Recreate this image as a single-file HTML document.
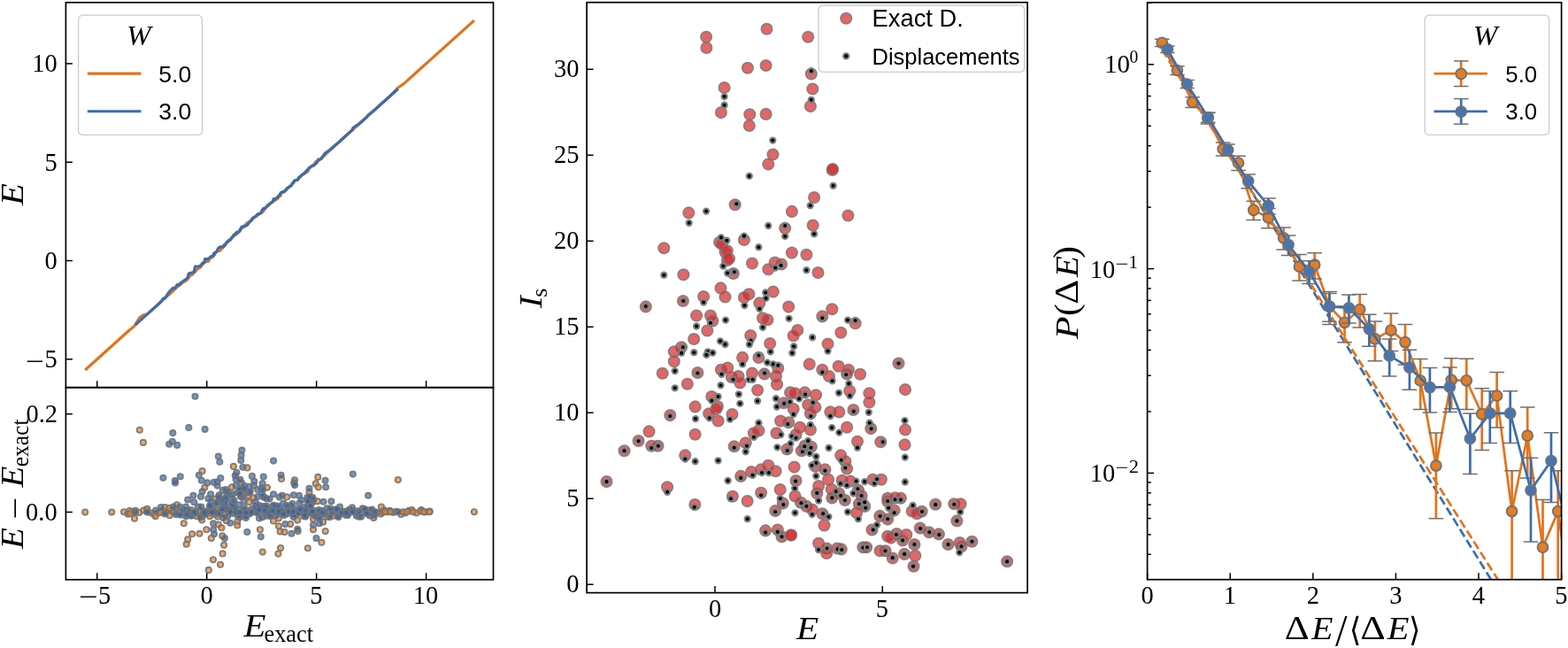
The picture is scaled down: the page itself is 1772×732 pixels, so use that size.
<!DOCTYPE html>
<html><head><meta charset="utf-8"><title>Figure</title>
<style>
html,body{margin:0;padding:0;background:#fff;}
svg{display:block;}
.tk{font-family:'Liberation Serif','DejaVu Serif',serif;font-size:29px;fill:#000;}
.lab{font-family:'Liberation Serif','DejaVu Serif',serif;font-style:italic;font-size:35px;fill:#000;}
.lg{font-family:'Liberation Sans','DejaVu Sans',sans-serif;font-size:25.5px;fill:#000;}
</style></head>
<body><svg width="1772" height="732" viewBox="0 0 1772 732">
<rect width="1772" height="732" fill="#fff"/>
<defs>
<clipPath id="cA"><rect x="74.4" y="2.8" width="483.10" height="434.90"/></clipPath>
<clipPath id="cB"><rect x="74.4" y="437.7" width="483.10" height="217.10"/></clipPath>
<clipPath id="cC"><rect x="663.1" y="2.7" width="498.00" height="666.90"/></clipPath>
<clipPath id="cD"><rect x="1296.6" y="2.8" width="468.00" height="651.90"/></clipPath>
</defs>
<g clip-path="url(#cA)">
<path d="M96.2,418.0 L126.2,391.0 L146.4,372.8 L146.8,372.6 L152.0,368.2 L157.8,358.9 L161.9,355.8 L166.2,355.0 L175.7,346.8 L181.5,341.4 L186.3,336.8 L191.2,332.5 L191.7,332.4 L196.2,328.2 L199.8,324.6 L202.9,322.2 L207.8,318.3 L210.7,316.6 L212.2,315.0 L216.2,310.1 L217.1,310.4 L222.4,304.8 L224.6,302.7 L225.5,302.8 L228.2,299.8 L228.6,297.2 L231.3,295.5 L233.3,295.7 L235.8,295.2 L237.1,291.6 L238.8,291.1 L240.9,290.2 L243.3,285.3 L246.0,283.7 L246.8,283.3 L249.0,283.1 L250.4,280.2 L251.3,279.8 L251.6,280.3 L253.1,276.7 L253.1,278.6 L255.7,275.1 L260.0,270.9 L261.9,268.0 L262.8,267.6 L263.9,265.3 L268.2,264.0 L268.2,264.1 L270.0,261.9 L270.8,261.4 L272.9,258.0 L275.3,256.3 L279.4,251.5 L281.0,251.3 L281.5,251.1 L286.4,246.5 L290.0,243.9 L293.9,241.2 L296.8,239.7 L300.0,235.0 L301.9,232.1 L309.0,227.3 L314.4,223.9 L314.9,221.9 L314.9,222.2 L316.7,220.9 L317.1,221.2 L318.0,217.3 L321.5,216.6 L324.2,212.5 L325.1,212.2 L328.2,210.2 L333.0,203.9 L336.2,202.8 L336.7,202.9 L340.0,199.0 L347.8,193.7 L349.5,189.6 L353.1,186.8 L354.0,186.8 L354.0,187.3 L356.8,182.7 L358.8,181.7 L359.3,180.1 L359.7,180.2 L363.4,179.4 L365.1,177.0 L367.7,175.0 L369.5,172.8 L377.0,166.0 L395.0,149.7 L410.0,136.2 L419.7,127.5 L422.3,125.4 L430.9,117.2 L432.7,115.8 L435.3,113.5 L441.1,108.3 L449.8,99.0 L455.7,95.1 L460.2,91.1 L466.8,85.2 L475.3,77.5 L478.4,74.8 L485.5,68.4 L535.9,23.1" fill="none" stroke="#e2731c" stroke-width="3.2" stroke-linejoin="round" stroke-linecap="butt"/>
<path d="M152.9,367.1 L166.4,354.9 L176.1,346.1 L181.9,340.8 L184.4,337.2 L186.3,337.1 L191.2,329.6 L194.8,326.2 L195.3,325.4 L197.8,325.3 L198.0,325.2 L200.2,321.5 L203.3,321.6 L203.8,319.7 L210.0,315.5 L211.3,314.7 L212.2,313.2 L213.3,309.0 L218.4,307.5 L219.3,307.0 L219.3,307.4 L220.5,301.1 L224.8,300.8 L226.9,299.9 L227.3,300.0 L227.8,298.4 L228.6,298.1 L230.9,297.0 L231.6,292.6 L234.3,292.6 L235.3,292.4 L237.1,291.2 L238.0,289.8 L238.4,289.8 L239.7,289.1 L241.1,288.4 L241.1,288.7 L241.8,285.9 L242.0,288.0 L242.4,286.7 L245.1,283.9 L245.5,282.7 L245.6,282.4 L246.8,280.2 L248.3,279.1 L249.3,278.9 L251.3,278.6 L252.2,278.1 L253.9,277.6 L255.7,274.1 L256.6,273.5 L257.5,272.2 L260.2,270.7 L260.2,271.2 L261.9,268.9 L264.6,266.2 L265.8,264.0 L266.4,263.9 L266.4,265.1 L266.6,263.5 L267.4,262.4 L269.9,261.7 L270.8,260.2 L270.8,260.3 L270.8,261.2 L271.4,259.2 L272.3,257.5 L272.6,257.0 L273.4,256.0 L274.4,255.9 L275.7,256.3 L276.1,255.4 L277.9,254.8 L277.9,255.1 L279.3,254.5 L282.8,249.5 L284.1,249.3 L284.9,246.9 L287.3,245.0 L288.6,244.7 L291.2,241.8 L291.2,242.2 L292.6,241.3 L292.6,241.5 L293.0,241.5 L294.8,240.8 L296.1,237.7 L296.6,236.7 L297.0,236.6 L297.8,235.3 L299.2,235.6 L301.0,233.8 L303.7,231.7 L304.6,230.2 L305.5,230.2 L308.1,227.6 L309.0,226.1 L309.1,224.5 L309.6,226.0 L314.9,221.6 L317.6,217.5 L318.9,217.2 L320.2,216.4 L320.2,216.9 L322.4,215.4 L326.4,211.3 L329.5,209.4 L330.4,207.3 L330.9,207.2 L331.8,205.6 L331.8,206.6 L332.3,204.6 L333.1,204.0 L336.2,203.2 L338.0,200.1 L338.9,199.9 L340.6,198.0 L344.2,195.4 L345.1,194.4 L347.7,191.6 L349.5,189.4 L349.5,189.8 L350.8,189.1 L353.1,187.3 L354.0,187.1 L357.5,184.5 L360.2,180.8 L361.1,180.4 L361.1,180.6 L364.6,177.0 L365.5,175.7 L367.6,172.8 L368.2,172.6 L373.5,168.8 L374.4,167.7 L380.6,162.5 L382.4,161.2 L385.9,157.9 L391.3,153.0 L398.4,146.6 L398.8,144.5 L405.5,140.2 L414.3,132.4 L416.1,130.0 L424.1,123.5 L450.0,100.3" fill="none" stroke="#3a6dae" stroke-width="3.2" stroke-linejoin="round" stroke-linecap="butt"/>
</g>
<rect x="88.6" y="17.2" width="139.9" height="135.2" rx="5" ry="5" fill="#fff" fill-opacity="0.8" stroke="#cccccc" stroke-width="1.3"/>
<text transform="translate(143.05,50.54) scale(1.0830,1)" style="font-family:'Liberation Serif', serif;font-style:italic;font-size:30.60px">W</text>
<line x1="98.8" y1="83.1" x2="159.5" y2="83.1" stroke="#e2731c" stroke-width="3.1"/>
<line x1="98.8" y1="125.8" x2="159.5" y2="125.8" stroke="#3a6dae" stroke-width="3.1"/>
<text transform="translate(179.34,92.75) scale(1.0596,1)" style="font-family:'Liberation Sans', sans-serif;font-style:normal;font-size:25.07px">5.0</text>
<text transform="translate(179.34,135.45) scale(1.0596,1)" style="font-family:'Liberation Sans', sans-serif;font-style:normal;font-size:25.07px">3.0</text>
<rect x="74.40" y="2.80" width="483.10" height="434.90" fill="none" stroke="#000" stroke-width="1.7"/>
<line x1="74.40" y1="71.90" x2="81.90" y2="71.90" stroke="#000" stroke-width="1.5"/>
<text transform="translate(36.24,81.20) scale(0.9500,1)" style="font-family:'Liberation Serif', serif;font-style:normal;font-size:30.00px">10</text>
<line x1="74.40" y1="183.20" x2="81.90" y2="183.20" stroke="#000" stroke-width="1.5"/>
<text transform="translate(50.49,192.50) scale(0.9500,1)" style="font-family:'Liberation Serif', serif;font-style:normal;font-size:30.00px">5</text>
<line x1="74.40" y1="294.50" x2="81.90" y2="294.50" stroke="#000" stroke-width="1.5"/>
<text transform="translate(50.49,303.80) scale(0.9500,1)" style="font-family:'Liberation Serif', serif;font-style:normal;font-size:30.00px">0</text>
<line x1="74.40" y1="405.80" x2="81.90" y2="405.80" stroke="#000" stroke-width="1.5"/>
<text transform="translate(50.49,415.10) scale(0.9500,1)" style="font-family:'Liberation Serif', serif;font-style:normal;font-size:30.00px">5</text>
<text transform="translate(29.25,417.90) scale(1.2330,1)" style="font-family:'Liberation Serif', serif;font-style:normal;font-size:30.00px">−</text>
<line x1="109.75" y1="437.70" x2="109.75" y2="430.20" stroke="#000" stroke-width="1.5"/>
<line x1="233.70" y1="437.70" x2="233.70" y2="430.20" stroke="#000" stroke-width="1.5"/>
<line x1="357.65" y1="437.70" x2="357.65" y2="430.20" stroke="#000" stroke-width="1.5"/>
<line x1="481.60" y1="437.70" x2="481.60" y2="430.20" stroke="#000" stroke-width="1.5"/>
<text transform="translate(25.80,231.99) rotate(-90) scale(1.1238,1)" style="font-family:'Liberation Serif', serif;font-style:italic;font-size:36.18px">E</text>
<g clip-path="url(#cB)">
<circle cx="140.0" cy="578.3" r="3.15" fill="#f57f15" fill-opacity="0.7" stroke="#737373" stroke-opacity="0.9" stroke-width="1.85"/>
<circle cx="144.4" cy="580.6" r="3.15" fill="#f57f15" fill-opacity="0.7" stroke="#737373" stroke-opacity="0.9" stroke-width="1.85"/>
<circle cx="148.6" cy="578.5" r="3.15" fill="#f57f15" fill-opacity="0.7" stroke="#737373" stroke-opacity="0.9" stroke-width="1.85"/>
<circle cx="153.0" cy="576.9" r="3.15" fill="#f57f15" fill-opacity="0.7" stroke="#737373" stroke-opacity="0.9" stroke-width="1.85"/>
<circle cx="157.3" cy="579.1" r="3.15" fill="#f57f15" fill-opacity="0.7" stroke="#737373" stroke-opacity="0.9" stroke-width="1.85"/>
<circle cx="162.3" cy="576.5" r="3.15" fill="#f57f15" fill-opacity="0.7" stroke="#737373" stroke-opacity="0.9" stroke-width="1.85"/>
<circle cx="166.1" cy="576.5" r="3.15" fill="#f57f15" fill-opacity="0.7" stroke="#737373" stroke-opacity="0.9" stroke-width="1.85"/>
<circle cx="171.1" cy="579.5" r="3.15" fill="#f57f15" fill-opacity="0.7" stroke="#737373" stroke-opacity="0.9" stroke-width="1.85"/>
<circle cx="174.2" cy="580.9" r="3.15" fill="#f57f15" fill-opacity="0.7" stroke="#737373" stroke-opacity="0.9" stroke-width="1.85"/>
<circle cx="179.6" cy="579.3" r="3.15" fill="#f57f15" fill-opacity="0.7" stroke="#737373" stroke-opacity="0.9" stroke-width="1.85"/>
<circle cx="184.1" cy="576.8" r="3.15" fill="#f57f15" fill-opacity="0.7" stroke="#737373" stroke-opacity="0.9" stroke-width="1.85"/>
<circle cx="187.2" cy="578.6" r="3.15" fill="#f57f15" fill-opacity="0.7" stroke="#737373" stroke-opacity="0.9" stroke-width="1.85"/>
<circle cx="190.3" cy="577.0" r="3.15" fill="#f57f15" fill-opacity="0.7" stroke="#737373" stroke-opacity="0.9" stroke-width="1.85"/>
<circle cx="193.9" cy="576.2" r="3.15" fill="#f57f15" fill-opacity="0.7" stroke="#737373" stroke-opacity="0.9" stroke-width="1.85"/>
<circle cx="198.1" cy="578.2" r="3.15" fill="#f57f15" fill-opacity="0.7" stroke="#737373" stroke-opacity="0.9" stroke-width="1.85"/>
<circle cx="203.2" cy="578.6" r="3.15" fill="#f57f15" fill-opacity="0.7" stroke="#737373" stroke-opacity="0.9" stroke-width="1.85"/>
<circle cx="207.8" cy="578.5" r="3.15" fill="#f57f15" fill-opacity="0.7" stroke="#737373" stroke-opacity="0.9" stroke-width="1.85"/>
<circle cx="212.4" cy="578.3" r="3.15" fill="#f57f15" fill-opacity="0.7" stroke="#737373" stroke-opacity="0.9" stroke-width="1.85"/>
<circle cx="216.1" cy="581.0" r="3.15" fill="#f57f15" fill-opacity="0.7" stroke="#737373" stroke-opacity="0.9" stroke-width="1.85"/>
<circle cx="221.6" cy="580.2" r="3.15" fill="#f57f15" fill-opacity="0.7" stroke="#737373" stroke-opacity="0.9" stroke-width="1.85"/>
<circle cx="226.4" cy="577.6" r="3.15" fill="#f57f15" fill-opacity="0.7" stroke="#737373" stroke-opacity="0.9" stroke-width="1.85"/>
<circle cx="230.0" cy="577.4" r="3.15" fill="#f57f15" fill-opacity="0.7" stroke="#737373" stroke-opacity="0.9" stroke-width="1.85"/>
<circle cx="233.2" cy="579.8" r="3.15" fill="#f57f15" fill-opacity="0.7" stroke="#737373" stroke-opacity="0.9" stroke-width="1.85"/>
<circle cx="237.2" cy="580.2" r="3.15" fill="#f57f15" fill-opacity="0.7" stroke="#737373" stroke-opacity="0.9" stroke-width="1.85"/>
<circle cx="241.1" cy="580.8" r="3.15" fill="#f57f15" fill-opacity="0.7" stroke="#737373" stroke-opacity="0.9" stroke-width="1.85"/>
<circle cx="246.2" cy="576.0" r="3.15" fill="#f57f15" fill-opacity="0.7" stroke="#737373" stroke-opacity="0.9" stroke-width="1.85"/>
<circle cx="249.8" cy="580.6" r="3.15" fill="#f57f15" fill-opacity="0.7" stroke="#737373" stroke-opacity="0.9" stroke-width="1.85"/>
<circle cx="253.9" cy="580.9" r="3.15" fill="#f57f15" fill-opacity="0.7" stroke="#737373" stroke-opacity="0.9" stroke-width="1.85"/>
<circle cx="257.9" cy="576.4" r="3.15" fill="#f57f15" fill-opacity="0.7" stroke="#737373" stroke-opacity="0.9" stroke-width="1.85"/>
<circle cx="262.5" cy="579.9" r="3.15" fill="#f57f15" fill-opacity="0.7" stroke="#737373" stroke-opacity="0.9" stroke-width="1.85"/>
<circle cx="266.2" cy="576.4" r="3.15" fill="#f57f15" fill-opacity="0.7" stroke="#737373" stroke-opacity="0.9" stroke-width="1.85"/>
<circle cx="270.0" cy="580.8" r="3.15" fill="#f57f15" fill-opacity="0.7" stroke="#737373" stroke-opacity="0.9" stroke-width="1.85"/>
<circle cx="274.9" cy="576.6" r="3.15" fill="#f57f15" fill-opacity="0.7" stroke="#737373" stroke-opacity="0.9" stroke-width="1.85"/>
<circle cx="278.5" cy="576.5" r="3.15" fill="#f57f15" fill-opacity="0.7" stroke="#737373" stroke-opacity="0.9" stroke-width="1.85"/>
<circle cx="281.7" cy="580.0" r="3.15" fill="#f57f15" fill-opacity="0.7" stroke="#737373" stroke-opacity="0.9" stroke-width="1.85"/>
<circle cx="285.1" cy="578.8" r="3.15" fill="#f57f15" fill-opacity="0.7" stroke="#737373" stroke-opacity="0.9" stroke-width="1.85"/>
<circle cx="289.2" cy="577.0" r="3.15" fill="#f57f15" fill-opacity="0.7" stroke="#737373" stroke-opacity="0.9" stroke-width="1.85"/>
<circle cx="294.1" cy="576.7" r="3.15" fill="#f57f15" fill-opacity="0.7" stroke="#737373" stroke-opacity="0.9" stroke-width="1.85"/>
<circle cx="298.7" cy="576.6" r="3.15" fill="#f57f15" fill-opacity="0.7" stroke="#737373" stroke-opacity="0.9" stroke-width="1.85"/>
<circle cx="302.7" cy="577.1" r="3.15" fill="#f57f15" fill-opacity="0.7" stroke="#737373" stroke-opacity="0.9" stroke-width="1.85"/>
<circle cx="306.4" cy="580.9" r="3.15" fill="#f57f15" fill-opacity="0.7" stroke="#737373" stroke-opacity="0.9" stroke-width="1.85"/>
<circle cx="311.4" cy="577.5" r="3.15" fill="#f57f15" fill-opacity="0.7" stroke="#737373" stroke-opacity="0.9" stroke-width="1.85"/>
<circle cx="316.6" cy="577.1" r="3.15" fill="#f57f15" fill-opacity="0.7" stroke="#737373" stroke-opacity="0.9" stroke-width="1.85"/>
<circle cx="320.6" cy="580.3" r="3.15" fill="#f57f15" fill-opacity="0.7" stroke="#737373" stroke-opacity="0.9" stroke-width="1.85"/>
<circle cx="325.2" cy="576.5" r="3.15" fill="#f57f15" fill-opacity="0.7" stroke="#737373" stroke-opacity="0.9" stroke-width="1.85"/>
<circle cx="330.7" cy="577.1" r="3.15" fill="#f57f15" fill-opacity="0.7" stroke="#737373" stroke-opacity="0.9" stroke-width="1.85"/>
<circle cx="334.3" cy="579.9" r="3.15" fill="#f57f15" fill-opacity="0.7" stroke="#737373" stroke-opacity="0.9" stroke-width="1.85"/>
<circle cx="338.1" cy="577.5" r="3.15" fill="#f57f15" fill-opacity="0.7" stroke="#737373" stroke-opacity="0.9" stroke-width="1.85"/>
<circle cx="341.3" cy="576.5" r="3.15" fill="#f57f15" fill-opacity="0.7" stroke="#737373" stroke-opacity="0.9" stroke-width="1.85"/>
<circle cx="345.8" cy="577.2" r="3.15" fill="#f57f15" fill-opacity="0.7" stroke="#737373" stroke-opacity="0.9" stroke-width="1.85"/>
<circle cx="350.3" cy="577.9" r="3.15" fill="#f57f15" fill-opacity="0.7" stroke="#737373" stroke-opacity="0.9" stroke-width="1.85"/>
<circle cx="354.4" cy="580.8" r="3.15" fill="#f57f15" fill-opacity="0.7" stroke="#737373" stroke-opacity="0.9" stroke-width="1.85"/>
<circle cx="358.6" cy="578.9" r="3.15" fill="#f57f15" fill-opacity="0.7" stroke="#737373" stroke-opacity="0.9" stroke-width="1.85"/>
<circle cx="363.8" cy="576.9" r="3.15" fill="#f57f15" fill-opacity="0.7" stroke="#737373" stroke-opacity="0.9" stroke-width="1.85"/>
<circle cx="367.2" cy="580.5" r="3.15" fill="#f57f15" fill-opacity="0.7" stroke="#737373" stroke-opacity="0.9" stroke-width="1.85"/>
<circle cx="372.2" cy="577.2" r="3.15" fill="#f57f15" fill-opacity="0.7" stroke="#737373" stroke-opacity="0.9" stroke-width="1.85"/>
<circle cx="375.7" cy="579.7" r="3.15" fill="#f57f15" fill-opacity="0.7" stroke="#737373" stroke-opacity="0.9" stroke-width="1.85"/>
<circle cx="381.1" cy="577.0" r="3.15" fill="#f57f15" fill-opacity="0.7" stroke="#737373" stroke-opacity="0.9" stroke-width="1.85"/>
<circle cx="386.4" cy="580.4" r="3.15" fill="#f57f15" fill-opacity="0.7" stroke="#737373" stroke-opacity="0.9" stroke-width="1.85"/>
<circle cx="390.9" cy="578.1" r="3.15" fill="#f57f15" fill-opacity="0.7" stroke="#737373" stroke-opacity="0.9" stroke-width="1.85"/>
<circle cx="394.2" cy="576.2" r="3.15" fill="#f57f15" fill-opacity="0.7" stroke="#737373" stroke-opacity="0.9" stroke-width="1.85"/>
<circle cx="399.6" cy="577.2" r="3.15" fill="#f57f15" fill-opacity="0.7" stroke="#737373" stroke-opacity="0.9" stroke-width="1.85"/>
<circle cx="404.4" cy="577.3" r="3.15" fill="#f57f15" fill-opacity="0.7" stroke="#737373" stroke-opacity="0.9" stroke-width="1.85"/>
<circle cx="409.4" cy="579.0" r="3.15" fill="#f57f15" fill-opacity="0.7" stroke="#737373" stroke-opacity="0.9" stroke-width="1.85"/>
<circle cx="413.2" cy="576.9" r="3.15" fill="#f57f15" fill-opacity="0.7" stroke="#737373" stroke-opacity="0.9" stroke-width="1.85"/>
<circle cx="418.0" cy="576.3" r="3.15" fill="#f57f15" fill-opacity="0.7" stroke="#737373" stroke-opacity="0.9" stroke-width="1.85"/>
<circle cx="421.5" cy="578.8" r="3.15" fill="#f57f15" fill-opacity="0.7" stroke="#737373" stroke-opacity="0.9" stroke-width="1.85"/>
<circle cx="426.7" cy="579.1" r="3.15" fill="#f57f15" fill-opacity="0.7" stroke="#737373" stroke-opacity="0.9" stroke-width="1.85"/>
<circle cx="430.4" cy="580.6" r="3.15" fill="#f57f15" fill-opacity="0.7" stroke="#737373" stroke-opacity="0.9" stroke-width="1.85"/>
<circle cx="433.9" cy="576.1" r="3.15" fill="#f57f15" fill-opacity="0.7" stroke="#737373" stroke-opacity="0.9" stroke-width="1.85"/>
<circle cx="437.5" cy="578.2" r="3.15" fill="#f57f15" fill-opacity="0.7" stroke="#737373" stroke-opacity="0.9" stroke-width="1.85"/>
<circle cx="440.7" cy="576.9" r="3.15" fill="#f57f15" fill-opacity="0.7" stroke="#737373" stroke-opacity="0.9" stroke-width="1.85"/>
<circle cx="444.6" cy="578.9" r="3.15" fill="#f57f15" fill-opacity="0.7" stroke="#737373" stroke-opacity="0.9" stroke-width="1.85"/>
<circle cx="448.0" cy="577.8" r="3.15" fill="#f57f15" fill-opacity="0.7" stroke="#737373" stroke-opacity="0.9" stroke-width="1.85"/>
<circle cx="453.2" cy="580.9" r="3.15" fill="#f57f15" fill-opacity="0.7" stroke="#737373" stroke-opacity="0.9" stroke-width="1.85"/>
<circle cx="457.8" cy="579.5" r="3.15" fill="#f57f15" fill-opacity="0.7" stroke="#737373" stroke-opacity="0.9" stroke-width="1.85"/>
<circle cx="462.3" cy="576.7" r="3.15" fill="#f57f15" fill-opacity="0.7" stroke="#737373" stroke-opacity="0.9" stroke-width="1.85"/>
<circle cx="465.4" cy="576.1" r="3.15" fill="#f57f15" fill-opacity="0.7" stroke="#737373" stroke-opacity="0.9" stroke-width="1.85"/>
<circle cx="470.6" cy="579.5" r="3.15" fill="#f57f15" fill-opacity="0.7" stroke="#737373" stroke-opacity="0.9" stroke-width="1.85"/>
<circle cx="476.1" cy="576.1" r="3.15" fill="#f57f15" fill-opacity="0.7" stroke="#737373" stroke-opacity="0.9" stroke-width="1.85"/>
<circle cx="480.6" cy="578.4" r="3.15" fill="#f57f15" fill-opacity="0.7" stroke="#737373" stroke-opacity="0.9" stroke-width="1.85"/>
<circle cx="485.5" cy="577.6" r="3.15" fill="#f57f15" fill-opacity="0.7" stroke="#737373" stroke-opacity="0.9" stroke-width="1.85"/>
<circle cx="157.8" cy="485.8" r="3.15" fill="#f57f15" fill-opacity="0.7" stroke="#737373" stroke-opacity="0.9" stroke-width="1.85"/>
<circle cx="161.9" cy="499.9" r="3.15" fill="#f57f15" fill-opacity="0.7" stroke="#737373" stroke-opacity="0.9" stroke-width="1.85"/>
<circle cx="263.9" cy="526.9" r="3.15" fill="#f57f15" fill-opacity="0.7" stroke="#737373" stroke-opacity="0.9" stroke-width="1.85"/>
<circle cx="279.4" cy="528.4" r="3.15" fill="#f57f15" fill-opacity="0.7" stroke="#737373" stroke-opacity="0.9" stroke-width="1.85"/>
<circle cx="228.6" cy="532" r="3.15" fill="#f57f15" fill-opacity="0.7" stroke="#737373" stroke-opacity="0.9" stroke-width="1.85"/>
<circle cx="272.9" cy="545.4" r="3.15" fill="#f57f15" fill-opacity="0.7" stroke="#737373" stroke-opacity="0.9" stroke-width="1.85"/>
<circle cx="318" cy="540.9" r="3.15" fill="#f57f15" fill-opacity="0.7" stroke="#737373" stroke-opacity="0.9" stroke-width="1.85"/>
<circle cx="333" cy="542.4" r="3.15" fill="#f57f15" fill-opacity="0.7" stroke="#737373" stroke-opacity="0.9" stroke-width="1.85"/>
<circle cx="359.3" cy="538.9" r="3.15" fill="#f57f15" fill-opacity="0.7" stroke="#737373" stroke-opacity="0.9" stroke-width="1.85"/>
<circle cx="356.8" cy="546.4" r="3.15" fill="#f57f15" fill-opacity="0.7" stroke="#737373" stroke-opacity="0.9" stroke-width="1.85"/>
<circle cx="449.8" cy="542.0" r="3.15" fill="#f57f15" fill-opacity="0.7" stroke="#737373" stroke-opacity="0.9" stroke-width="1.85"/>
<circle cx="96.2" cy="578.6" r="3.15" fill="#f57f15" fill-opacity="0.7" stroke="#737373" stroke-opacity="0.9" stroke-width="1.85"/>
<circle cx="126.2" cy="578.6" r="3.15" fill="#f57f15" fill-opacity="0.7" stroke="#737373" stroke-opacity="0.9" stroke-width="1.85"/>
<circle cx="146.4" cy="577" r="3.15" fill="#f57f15" fill-opacity="0.7" stroke="#737373" stroke-opacity="0.9" stroke-width="1.85"/>
<circle cx="146.8" cy="580.5" r="3.15" fill="#f57f15" fill-opacity="0.7" stroke="#737373" stroke-opacity="0.9" stroke-width="1.85"/>
<circle cx="152" cy="585.7" r="3.15" fill="#f57f15" fill-opacity="0.7" stroke="#737373" stroke-opacity="0.9" stroke-width="1.85"/>
<circle cx="166.2" cy="574.8" r="3.15" fill="#f57f15" fill-opacity="0.7" stroke="#737373" stroke-opacity="0.9" stroke-width="1.85"/>
<circle cx="175.7" cy="583.2" r="3.15" fill="#f57f15" fill-opacity="0.7" stroke="#737373" stroke-opacity="0.9" stroke-width="1.85"/>
<circle cx="181.5" cy="578.7" r="3.15" fill="#f57f15" fill-opacity="0.7" stroke="#737373" stroke-opacity="0.9" stroke-width="1.85"/>
<circle cx="186.3" cy="573" r="3.15" fill="#f57f15" fill-opacity="0.7" stroke="#737373" stroke-opacity="0.9" stroke-width="1.85"/>
<circle cx="191.2" cy="573.9" r="3.15" fill="#f57f15" fill-opacity="0.7" stroke="#737373" stroke-opacity="0.9" stroke-width="1.85"/>
<circle cx="191.7" cy="582.3" r="3.15" fill="#f57f15" fill-opacity="0.7" stroke="#737373" stroke-opacity="0.9" stroke-width="1.85"/>
<circle cx="196.2" cy="578.7" r="3.15" fill="#f57f15" fill-opacity="0.7" stroke="#737373" stroke-opacity="0.9" stroke-width="1.85"/>
<circle cx="199.8" cy="570.3" r="3.15" fill="#f57f15" fill-opacity="0.7" stroke="#737373" stroke-opacity="0.9" stroke-width="1.85"/>
<circle cx="202.9" cy="578.7" r="3.15" fill="#f57f15" fill-opacity="0.7" stroke="#737373" stroke-opacity="0.9" stroke-width="1.85"/>
<circle cx="207.8" cy="591.2" r="3.15" fill="#f57f15" fill-opacity="0.7" stroke="#737373" stroke-opacity="0.9" stroke-width="1.85"/>
<circle cx="216.2" cy="576.1" r="3.15" fill="#f57f15" fill-opacity="0.7" stroke="#737373" stroke-opacity="0.9" stroke-width="1.85"/>
<circle cx="222.4" cy="583.2" r="3.15" fill="#f57f15" fill-opacity="0.7" stroke="#737373" stroke-opacity="0.9" stroke-width="1.85"/>
<circle cx="224.6" cy="578.7" r="3.15" fill="#f57f15" fill-opacity="0.7" stroke="#737373" stroke-opacity="0.9" stroke-width="1.85"/>
<circle cx="228.2" cy="587.5" r="3.15" fill="#f57f15" fill-opacity="0.7" stroke="#737373" stroke-opacity="0.9" stroke-width="1.85"/>
<circle cx="231.3" cy="550.8" r="3.15" fill="#f57f15" fill-opacity="0.7" stroke="#737373" stroke-opacity="0.9" stroke-width="1.85"/>
<circle cx="243.3" cy="563.6" r="3.15" fill="#f57f15" fill-opacity="0.7" stroke="#737373" stroke-opacity="0.9" stroke-width="1.85"/>
<circle cx="237.1" cy="583.2" r="3.15" fill="#f57f15" fill-opacity="0.7" stroke="#737373" stroke-opacity="0.9" stroke-width="1.85"/>
<circle cx="246" cy="583.6" r="3.15" fill="#f57f15" fill-opacity="0.7" stroke="#737373" stroke-opacity="0.9" stroke-width="1.85"/>
<circle cx="246.8" cy="592.5" r="3.15" fill="#f57f15" fill-opacity="0.7" stroke="#737373" stroke-opacity="0.9" stroke-width="1.85"/>
<circle cx="250.4" cy="596.3" r="3.15" fill="#f57f15" fill-opacity="0.7" stroke="#737373" stroke-opacity="0.9" stroke-width="1.85"/>
<circle cx="233.3" cy="598.3" r="3.15" fill="#f57f15" fill-opacity="0.7" stroke="#737373" stroke-opacity="0.9" stroke-width="1.85"/>
<circle cx="217.1" cy="603.2" r="3.15" fill="#f57f15" fill-opacity="0.7" stroke="#737373" stroke-opacity="0.9" stroke-width="1.85"/>
<circle cx="225.5" cy="602.7" r="3.15" fill="#f57f15" fill-opacity="0.7" stroke="#737373" stroke-opacity="0.9" stroke-width="1.85"/>
<circle cx="238.8" cy="608" r="3.15" fill="#f57f15" fill-opacity="0.7" stroke="#737373" stroke-opacity="0.9" stroke-width="1.85"/>
<circle cx="212.2" cy="609.4" r="3.15" fill="#f57f15" fill-opacity="0.7" stroke="#737373" stroke-opacity="0.9" stroke-width="1.85"/>
<circle cx="251.3" cy="605.4" r="3.15" fill="#f57f15" fill-opacity="0.7" stroke="#737373" stroke-opacity="0.9" stroke-width="1.85"/>
<circle cx="253.1" cy="569" r="3.15" fill="#f57f15" fill-opacity="0.7" stroke="#737373" stroke-opacity="0.9" stroke-width="1.85"/>
<circle cx="261.9" cy="550.3" r="3.15" fill="#f57f15" fill-opacity="0.7" stroke="#737373" stroke-opacity="0.9" stroke-width="1.85"/>
<circle cx="262.8" cy="558.3" r="3.15" fill="#f57f15" fill-opacity="0.7" stroke="#737373" stroke-opacity="0.9" stroke-width="1.85"/>
<circle cx="255.7" cy="588.3" r="3.15" fill="#f57f15" fill-opacity="0.7" stroke="#737373" stroke-opacity="0.9" stroke-width="1.85"/>
<circle cx="268.2" cy="589.4" r="3.15" fill="#f57f15" fill-opacity="0.7" stroke="#737373" stroke-opacity="0.9" stroke-width="1.85"/>
<circle cx="268.2" cy="593.4" r="3.15" fill="#f57f15" fill-opacity="0.7" stroke="#737373" stroke-opacity="0.9" stroke-width="1.85"/>
<circle cx="270.8" cy="584.5" r="3.15" fill="#f57f15" fill-opacity="0.7" stroke="#737373" stroke-opacity="0.9" stroke-width="1.85"/>
<circle cx="275.3" cy="557.9" r="3.15" fill="#f57f15" fill-opacity="0.7" stroke="#737373" stroke-opacity="0.9" stroke-width="1.85"/>
<circle cx="281.5" cy="567.2" r="3.15" fill="#f57f15" fill-opacity="0.7" stroke="#737373" stroke-opacity="0.9" stroke-width="1.85"/>
<circle cx="281" cy="560.1" r="3.15" fill="#f57f15" fill-opacity="0.7" stroke="#737373" stroke-opacity="0.9" stroke-width="1.85"/>
<circle cx="286.4" cy="562.3" r="3.15" fill="#f57f15" fill-opacity="0.7" stroke="#737373" stroke-opacity="0.9" stroke-width="1.85"/>
<circle cx="301.9" cy="550.8" r="3.15" fill="#f57f15" fill-opacity="0.7" stroke="#737373" stroke-opacity="0.9" stroke-width="1.85"/>
<circle cx="293.9" cy="598.3" r="3.15" fill="#f57f15" fill-opacity="0.7" stroke="#737373" stroke-opacity="0.9" stroke-width="1.85"/>
<circle cx="309" cy="588.5" r="3.15" fill="#f57f15" fill-opacity="0.7" stroke="#737373" stroke-opacity="0.9" stroke-width="1.85"/>
<circle cx="324.2" cy="561.4" r="3.15" fill="#f57f15" fill-opacity="0.7" stroke="#737373" stroke-opacity="0.9" stroke-width="1.85"/>
<circle cx="349.5" cy="556.1" r="3.15" fill="#f57f15" fill-opacity="0.7" stroke="#737373" stroke-opacity="0.9" stroke-width="1.85"/>
<circle cx="359.7" cy="550.3" r="3.15" fill="#f57f15" fill-opacity="0.7" stroke="#737373" stroke-opacity="0.9" stroke-width="1.85"/>
<circle cx="353.1" cy="567.6" r="3.15" fill="#f57f15" fill-opacity="0.7" stroke="#737373" stroke-opacity="0.9" stroke-width="1.85"/>
<circle cx="358.8" cy="566.3" r="3.15" fill="#f57f15" fill-opacity="0.7" stroke="#737373" stroke-opacity="0.9" stroke-width="1.85"/>
<circle cx="325.1" cy="573.4" r="3.15" fill="#f57f15" fill-opacity="0.7" stroke="#737373" stroke-opacity="0.9" stroke-width="1.85"/>
<circle cx="314.9" cy="585.4" r="3.15" fill="#f57f15" fill-opacity="0.7" stroke="#737373" stroke-opacity="0.9" stroke-width="1.85"/>
<circle cx="336.2" cy="587.6" r="3.15" fill="#f57f15" fill-opacity="0.7" stroke="#737373" stroke-opacity="0.9" stroke-width="1.85"/>
<circle cx="328.2" cy="592.1" r="3.15" fill="#f57f15" fill-opacity="0.7" stroke="#737373" stroke-opacity="0.9" stroke-width="1.85"/>
<circle cx="314.9" cy="594.3" r="3.15" fill="#f57f15" fill-opacity="0.7" stroke="#737373" stroke-opacity="0.9" stroke-width="1.85"/>
<circle cx="316.7" cy="600.5" r="3.15" fill="#f57f15" fill-opacity="0.7" stroke="#737373" stroke-opacity="0.9" stroke-width="1.85"/>
<circle cx="321.5" cy="601" r="3.15" fill="#f57f15" fill-opacity="0.7" stroke="#737373" stroke-opacity="0.9" stroke-width="1.85"/>
<circle cx="354" cy="586.3" r="3.15" fill="#f57f15" fill-opacity="0.7" stroke="#737373" stroke-opacity="0.9" stroke-width="1.85"/>
<circle cx="354" cy="598.3" r="3.15" fill="#f57f15" fill-opacity="0.7" stroke="#737373" stroke-opacity="0.9" stroke-width="1.85"/>
<circle cx="365.1" cy="589.8" r="3.15" fill="#f57f15" fill-opacity="0.7" stroke="#737373" stroke-opacity="0.9" stroke-width="1.85"/>
<circle cx="367.7" cy="600.1" r="3.15" fill="#f57f15" fill-opacity="0.7" stroke="#737373" stroke-opacity="0.9" stroke-width="1.85"/>
<circle cx="369.5" cy="583.6" r="3.15" fill="#f57f15" fill-opacity="0.7" stroke="#737373" stroke-opacity="0.9" stroke-width="1.85"/>
<circle cx="377" cy="582.7" r="3.15" fill="#f57f15" fill-opacity="0.7" stroke="#737373" stroke-opacity="0.9" stroke-width="1.85"/>
<circle cx="422.3" cy="585" r="3.15" fill="#f57f15" fill-opacity="0.7" stroke="#737373" stroke-opacity="0.9" stroke-width="1.85"/>
<circle cx="419.7" cy="578.7" r="3.15" fill="#f57f15" fill-opacity="0.7" stroke="#737373" stroke-opacity="0.9" stroke-width="1.85"/>
<circle cx="430.9" cy="572.5" r="3.15" fill="#f57f15" fill-opacity="0.7" stroke="#737373" stroke-opacity="0.9" stroke-width="1.85"/>
<circle cx="432.7" cy="578.7" r="3.15" fill="#f57f15" fill-opacity="0.7" stroke="#737373" stroke-opacity="0.9" stroke-width="1.85"/>
<circle cx="435.3" cy="578.3" r="3.15" fill="#f57f15" fill-opacity="0.7" stroke="#737373" stroke-opacity="0.9" stroke-width="1.85"/>
<circle cx="441.1" cy="578.3" r="3.15" fill="#f57f15" fill-opacity="0.7" stroke="#737373" stroke-opacity="0.9" stroke-width="1.85"/>
<circle cx="455.7" cy="578.3" r="3.15" fill="#f57f15" fill-opacity="0.7" stroke="#737373" stroke-opacity="0.9" stroke-width="1.85"/>
<circle cx="460.2" cy="578.3" r="3.15" fill="#f57f15" fill-opacity="0.7" stroke="#737373" stroke-opacity="0.9" stroke-width="1.85"/>
<circle cx="466.8" cy="578.3" r="3.15" fill="#f57f15" fill-opacity="0.7" stroke="#737373" stroke-opacity="0.9" stroke-width="1.85"/>
<circle cx="475.3" cy="577.4" r="3.15" fill="#f57f15" fill-opacity="0.7" stroke="#737373" stroke-opacity="0.9" stroke-width="1.85"/>
<circle cx="478.4" cy="578.3" r="3.15" fill="#f57f15" fill-opacity="0.7" stroke="#737373" stroke-opacity="0.9" stroke-width="1.85"/>
<circle cx="485.5" cy="578.3" r="3.15" fill="#f57f15" fill-opacity="0.7" stroke="#737373" stroke-opacity="0.9" stroke-width="1.85"/>
<circle cx="535.9" cy="578.3" r="3.15" fill="#f57f15" fill-opacity="0.7" stroke="#737373" stroke-opacity="0.9" stroke-width="1.85"/>
<circle cx="210.7" cy="614.7" r="3.15" fill="#f57f15" fill-opacity="0.7" stroke="#737373" stroke-opacity="0.9" stroke-width="1.85"/>
<circle cx="253.1" cy="615.7" r="3.15" fill="#f57f15" fill-opacity="0.7" stroke="#737373" stroke-opacity="0.9" stroke-width="1.85"/>
<circle cx="251.6" cy="625.4" r="3.15" fill="#f57f15" fill-opacity="0.7" stroke="#737373" stroke-opacity="0.9" stroke-width="1.85"/>
<circle cx="240.9" cy="632.3" r="3.15" fill="#f57f15" fill-opacity="0.7" stroke="#737373" stroke-opacity="0.9" stroke-width="1.85"/>
<circle cx="249" cy="637.8" r="3.15" fill="#f57f15" fill-opacity="0.7" stroke="#737373" stroke-opacity="0.9" stroke-width="1.85"/>
<circle cx="235.8" cy="643.9" r="3.15" fill="#f57f15" fill-opacity="0.7" stroke="#737373" stroke-opacity="0.9" stroke-width="1.85"/>
<circle cx="296.8" cy="623.6" r="3.15" fill="#f57f15" fill-opacity="0.7" stroke="#737373" stroke-opacity="0.9" stroke-width="1.85"/>
<circle cx="317.1" cy="619.1" r="3.15" fill="#f57f15" fill-opacity="0.7" stroke="#737373" stroke-opacity="0.9" stroke-width="1.85"/>
<circle cx="314.4" cy="625.6" r="3.15" fill="#f57f15" fill-opacity="0.7" stroke="#737373" stroke-opacity="0.9" stroke-width="1.85"/>
<circle cx="336.7" cy="600.1" r="3.15" fill="#f57f15" fill-opacity="0.7" stroke="#737373" stroke-opacity="0.9" stroke-width="1.85"/>
<circle cx="363.4" cy="612.8" r="3.15" fill="#f57f15" fill-opacity="0.7" stroke="#737373" stroke-opacity="0.9" stroke-width="1.85"/>
<circle cx="347.8" cy="619.2" r="3.15" fill="#f57f15" fill-opacity="0.7" stroke="#737373" stroke-opacity="0.9" stroke-width="1.85"/>
<circle cx="290" cy="578.5" r="3.15" fill="#f57f15" fill-opacity="0.7" stroke="#737373" stroke-opacity="0.9" stroke-width="1.85"/>
<circle cx="300" cy="579" r="3.15" fill="#f57f15" fill-opacity="0.7" stroke="#737373" stroke-opacity="0.9" stroke-width="1.85"/>
<circle cx="340" cy="578.5" r="3.15" fill="#f57f15" fill-opacity="0.7" stroke="#737373" stroke-opacity="0.9" stroke-width="1.85"/>
<circle cx="270" cy="578.5" r="3.15" fill="#f57f15" fill-opacity="0.7" stroke="#737373" stroke-opacity="0.9" stroke-width="1.85"/>
<circle cx="260" cy="578" r="3.15" fill="#f57f15" fill-opacity="0.7" stroke="#737373" stroke-opacity="0.9" stroke-width="1.85"/>
<circle cx="395" cy="578.5" r="3.15" fill="#f57f15" fill-opacity="0.7" stroke="#737373" stroke-opacity="0.9" stroke-width="1.85"/>
<circle cx="410" cy="578.3" r="3.15" fill="#f57f15" fill-opacity="0.7" stroke="#737373" stroke-opacity="0.9" stroke-width="1.85"/>
<circle cx="196.0" cy="572.5" r="3.15" fill="#1f5fb8" fill-opacity="0.65" stroke="#737373" stroke-opacity="0.9" stroke-width="1.85"/>
<circle cx="198.6" cy="581.1" r="3.15" fill="#1f5fb8" fill-opacity="0.65" stroke="#737373" stroke-opacity="0.9" stroke-width="1.85"/>
<circle cx="201.6" cy="581.1" r="3.15" fill="#1f5fb8" fill-opacity="0.65" stroke="#737373" stroke-opacity="0.9" stroke-width="1.85"/>
<circle cx="204.4" cy="581.8" r="3.15" fill="#1f5fb8" fill-opacity="0.65" stroke="#737373" stroke-opacity="0.9" stroke-width="1.85"/>
<circle cx="207.5" cy="576.1" r="3.15" fill="#1f5fb8" fill-opacity="0.65" stroke="#737373" stroke-opacity="0.9" stroke-width="1.85"/>
<circle cx="210.3" cy="583.2" r="3.15" fill="#1f5fb8" fill-opacity="0.65" stroke="#737373" stroke-opacity="0.9" stroke-width="1.85"/>
<circle cx="213.3" cy="576.9" r="3.15" fill="#1f5fb8" fill-opacity="0.65" stroke="#737373" stroke-opacity="0.9" stroke-width="1.85"/>
<circle cx="216.2" cy="582.7" r="3.15" fill="#1f5fb8" fill-opacity="0.65" stroke="#737373" stroke-opacity="0.9" stroke-width="1.85"/>
<circle cx="218.8" cy="579.6" r="3.15" fill="#1f5fb8" fill-opacity="0.65" stroke="#737373" stroke-opacity="0.9" stroke-width="1.85"/>
<circle cx="221.1" cy="579.1" r="3.15" fill="#1f5fb8" fill-opacity="0.65" stroke="#737373" stroke-opacity="0.9" stroke-width="1.85"/>
<circle cx="223.8" cy="572.5" r="3.15" fill="#1f5fb8" fill-opacity="0.65" stroke="#737373" stroke-opacity="0.9" stroke-width="1.85"/>
<circle cx="226.5" cy="584.4" r="3.15" fill="#1f5fb8" fill-opacity="0.65" stroke="#737373" stroke-opacity="0.9" stroke-width="1.85"/>
<circle cx="229.5" cy="581.0" r="3.15" fill="#1f5fb8" fill-opacity="0.65" stroke="#737373" stroke-opacity="0.9" stroke-width="1.85"/>
<circle cx="231.8" cy="581.1" r="3.15" fill="#1f5fb8" fill-opacity="0.65" stroke="#737373" stroke-opacity="0.9" stroke-width="1.85"/>
<circle cx="234.5" cy="577.2" r="3.15" fill="#1f5fb8" fill-opacity="0.65" stroke="#737373" stroke-opacity="0.9" stroke-width="1.85"/>
<circle cx="237.4" cy="572.6" r="3.15" fill="#1f5fb8" fill-opacity="0.65" stroke="#737373" stroke-opacity="0.9" stroke-width="1.85"/>
<circle cx="240.3" cy="571.9" r="3.15" fill="#1f5fb8" fill-opacity="0.65" stroke="#737373" stroke-opacity="0.9" stroke-width="1.85"/>
<circle cx="242.9" cy="577.8" r="3.15" fill="#1f5fb8" fill-opacity="0.65" stroke="#737373" stroke-opacity="0.9" stroke-width="1.85"/>
<circle cx="245.0" cy="580.6" r="3.15" fill="#1f5fb8" fill-opacity="0.65" stroke="#737373" stroke-opacity="0.9" stroke-width="1.85"/>
<circle cx="247.5" cy="579.5" r="3.15" fill="#1f5fb8" fill-opacity="0.65" stroke="#737373" stroke-opacity="0.9" stroke-width="1.85"/>
<circle cx="250.6" cy="574.8" r="3.15" fill="#1f5fb8" fill-opacity="0.65" stroke="#737373" stroke-opacity="0.9" stroke-width="1.85"/>
<circle cx="252.4" cy="575.4" r="3.15" fill="#1f5fb8" fill-opacity="0.65" stroke="#737373" stroke-opacity="0.9" stroke-width="1.85"/>
<circle cx="255.2" cy="574.1" r="3.15" fill="#1f5fb8" fill-opacity="0.65" stroke="#737373" stroke-opacity="0.9" stroke-width="1.85"/>
<circle cx="257.2" cy="583.3" r="3.15" fill="#1f5fb8" fill-opacity="0.65" stroke="#737373" stroke-opacity="0.9" stroke-width="1.85"/>
<circle cx="259.9" cy="577.2" r="3.15" fill="#1f5fb8" fill-opacity="0.65" stroke="#737373" stroke-opacity="0.9" stroke-width="1.85"/>
<circle cx="263.0" cy="575.8" r="3.15" fill="#1f5fb8" fill-opacity="0.65" stroke="#737373" stroke-opacity="0.9" stroke-width="1.85"/>
<circle cx="265.7" cy="574.1" r="3.15" fill="#1f5fb8" fill-opacity="0.65" stroke="#737373" stroke-opacity="0.9" stroke-width="1.85"/>
<circle cx="268.1" cy="582.0" r="3.15" fill="#1f5fb8" fill-opacity="0.65" stroke="#737373" stroke-opacity="0.9" stroke-width="1.85"/>
<circle cx="271.2" cy="582.9" r="3.15" fill="#1f5fb8" fill-opacity="0.65" stroke="#737373" stroke-opacity="0.9" stroke-width="1.85"/>
<circle cx="273.6" cy="579.1" r="3.15" fill="#1f5fb8" fill-opacity="0.65" stroke="#737373" stroke-opacity="0.9" stroke-width="1.85"/>
<circle cx="275.8" cy="573.3" r="3.15" fill="#1f5fb8" fill-opacity="0.65" stroke="#737373" stroke-opacity="0.9" stroke-width="1.85"/>
<circle cx="278.3" cy="582.4" r="3.15" fill="#1f5fb8" fill-opacity="0.65" stroke="#737373" stroke-opacity="0.9" stroke-width="1.85"/>
<circle cx="281.3" cy="580.7" r="3.15" fill="#1f5fb8" fill-opacity="0.65" stroke="#737373" stroke-opacity="0.9" stroke-width="1.85"/>
<circle cx="284.4" cy="575.1" r="3.15" fill="#1f5fb8" fill-opacity="0.65" stroke="#737373" stroke-opacity="0.9" stroke-width="1.85"/>
<circle cx="286.4" cy="577.4" r="3.15" fill="#1f5fb8" fill-opacity="0.65" stroke="#737373" stroke-opacity="0.9" stroke-width="1.85"/>
<circle cx="288.6" cy="574.3" r="3.15" fill="#1f5fb8" fill-opacity="0.65" stroke="#737373" stroke-opacity="0.9" stroke-width="1.85"/>
<circle cx="291.0" cy="579.6" r="3.15" fill="#1f5fb8" fill-opacity="0.65" stroke="#737373" stroke-opacity="0.9" stroke-width="1.85"/>
<circle cx="293.5" cy="575.6" r="3.15" fill="#1f5fb8" fill-opacity="0.65" stroke="#737373" stroke-opacity="0.9" stroke-width="1.85"/>
<circle cx="296.5" cy="584.3" r="3.15" fill="#1f5fb8" fill-opacity="0.65" stroke="#737373" stroke-opacity="0.9" stroke-width="1.85"/>
<circle cx="298.9" cy="572.5" r="3.15" fill="#1f5fb8" fill-opacity="0.65" stroke="#737373" stroke-opacity="0.9" stroke-width="1.85"/>
<circle cx="300.8" cy="582.8" r="3.15" fill="#1f5fb8" fill-opacity="0.65" stroke="#737373" stroke-opacity="0.9" stroke-width="1.85"/>
<circle cx="302.6" cy="580.7" r="3.15" fill="#1f5fb8" fill-opacity="0.65" stroke="#737373" stroke-opacity="0.9" stroke-width="1.85"/>
<circle cx="305.2" cy="575.5" r="3.15" fill="#1f5fb8" fill-opacity="0.65" stroke="#737373" stroke-opacity="0.9" stroke-width="1.85"/>
<circle cx="308.1" cy="571.7" r="3.15" fill="#1f5fb8" fill-opacity="0.65" stroke="#737373" stroke-opacity="0.9" stroke-width="1.85"/>
<circle cx="310.1" cy="577.4" r="3.15" fill="#1f5fb8" fill-opacity="0.65" stroke="#737373" stroke-opacity="0.9" stroke-width="1.85"/>
<circle cx="311.9" cy="582.3" r="3.15" fill="#1f5fb8" fill-opacity="0.65" stroke="#737373" stroke-opacity="0.9" stroke-width="1.85"/>
<circle cx="314.1" cy="573.3" r="3.15" fill="#1f5fb8" fill-opacity="0.65" stroke="#737373" stroke-opacity="0.9" stroke-width="1.85"/>
<circle cx="315.9" cy="579.7" r="3.15" fill="#1f5fb8" fill-opacity="0.65" stroke="#737373" stroke-opacity="0.9" stroke-width="1.85"/>
<circle cx="318.4" cy="579.7" r="3.15" fill="#1f5fb8" fill-opacity="0.65" stroke="#737373" stroke-opacity="0.9" stroke-width="1.85"/>
<circle cx="321.1" cy="582.0" r="3.15" fill="#1f5fb8" fill-opacity="0.65" stroke="#737373" stroke-opacity="0.9" stroke-width="1.85"/>
<circle cx="324.2" cy="580.4" r="3.15" fill="#1f5fb8" fill-opacity="0.65" stroke="#737373" stroke-opacity="0.9" stroke-width="1.85"/>
<circle cx="326.3" cy="577.7" r="3.15" fill="#1f5fb8" fill-opacity="0.65" stroke="#737373" stroke-opacity="0.9" stroke-width="1.85"/>
<circle cx="328.4" cy="571.6" r="3.15" fill="#1f5fb8" fill-opacity="0.65" stroke="#737373" stroke-opacity="0.9" stroke-width="1.85"/>
<circle cx="330.8" cy="580.8" r="3.15" fill="#1f5fb8" fill-opacity="0.65" stroke="#737373" stroke-opacity="0.9" stroke-width="1.85"/>
<circle cx="332.9" cy="575.0" r="3.15" fill="#1f5fb8" fill-opacity="0.65" stroke="#737373" stroke-opacity="0.9" stroke-width="1.85"/>
<circle cx="335.2" cy="580.6" r="3.15" fill="#1f5fb8" fill-opacity="0.65" stroke="#737373" stroke-opacity="0.9" stroke-width="1.85"/>
<circle cx="337.7" cy="579.5" r="3.15" fill="#1f5fb8" fill-opacity="0.65" stroke="#737373" stroke-opacity="0.9" stroke-width="1.85"/>
<circle cx="340.5" cy="576.6" r="3.15" fill="#1f5fb8" fill-opacity="0.65" stroke="#737373" stroke-opacity="0.9" stroke-width="1.85"/>
<circle cx="343.4" cy="583.3" r="3.15" fill="#1f5fb8" fill-opacity="0.65" stroke="#737373" stroke-opacity="0.9" stroke-width="1.85"/>
<circle cx="345.4" cy="583.6" r="3.15" fill="#1f5fb8" fill-opacity="0.65" stroke="#737373" stroke-opacity="0.9" stroke-width="1.85"/>
<circle cx="348.2" cy="573.2" r="3.15" fill="#1f5fb8" fill-opacity="0.65" stroke="#737373" stroke-opacity="0.9" stroke-width="1.85"/>
<circle cx="350.6" cy="579.6" r="3.15" fill="#1f5fb8" fill-opacity="0.65" stroke="#737373" stroke-opacity="0.9" stroke-width="1.85"/>
<circle cx="353.7" cy="576.4" r="3.15" fill="#1f5fb8" fill-opacity="0.65" stroke="#737373" stroke-opacity="0.9" stroke-width="1.85"/>
<circle cx="356.3" cy="582.9" r="3.15" fill="#1f5fb8" fill-opacity="0.65" stroke="#737373" stroke-opacity="0.9" stroke-width="1.85"/>
<circle cx="359.2" cy="583.8" r="3.15" fill="#1f5fb8" fill-opacity="0.65" stroke="#737373" stroke-opacity="0.9" stroke-width="1.85"/>
<circle cx="361.6" cy="580.0" r="3.15" fill="#1f5fb8" fill-opacity="0.65" stroke="#737373" stroke-opacity="0.9" stroke-width="1.85"/>
<circle cx="363.7" cy="580.9" r="3.15" fill="#1f5fb8" fill-opacity="0.65" stroke="#737373" stroke-opacity="0.9" stroke-width="1.85"/>
<circle cx="366.7" cy="579.8" r="3.15" fill="#1f5fb8" fill-opacity="0.65" stroke="#737373" stroke-opacity="0.9" stroke-width="1.85"/>
<circle cx="369.5" cy="574.3" r="3.15" fill="#1f5fb8" fill-opacity="0.65" stroke="#737373" stroke-opacity="0.9" stroke-width="1.85"/>
<circle cx="372.5" cy="584.2" r="3.15" fill="#1f5fb8" fill-opacity="0.65" stroke="#737373" stroke-opacity="0.9" stroke-width="1.85"/>
<circle cx="375.7" cy="578.5" r="3.15" fill="#1f5fb8" fill-opacity="0.65" stroke="#737373" stroke-opacity="0.9" stroke-width="1.85"/>
<circle cx="378.6" cy="575.7" r="3.15" fill="#1f5fb8" fill-opacity="0.65" stroke="#737373" stroke-opacity="0.9" stroke-width="1.85"/>
<circle cx="381.7" cy="582.6" r="3.15" fill="#1f5fb8" fill-opacity="0.65" stroke="#737373" stroke-opacity="0.9" stroke-width="1.85"/>
<circle cx="384.0" cy="572.6" r="3.15" fill="#1f5fb8" fill-opacity="0.65" stroke="#737373" stroke-opacity="0.9" stroke-width="1.85"/>
<circle cx="386.4" cy="578.7" r="3.15" fill="#1f5fb8" fill-opacity="0.65" stroke="#737373" stroke-opacity="0.9" stroke-width="1.85"/>
<circle cx="389.3" cy="577.8" r="3.15" fill="#1f5fb8" fill-opacity="0.65" stroke="#737373" stroke-opacity="0.9" stroke-width="1.85"/>
<circle cx="391.1" cy="582.0" r="3.15" fill="#1f5fb8" fill-opacity="0.65" stroke="#737373" stroke-opacity="0.9" stroke-width="1.85"/>
<circle cx="393.0" cy="581.9" r="3.15" fill="#1f5fb8" fill-opacity="0.65" stroke="#737373" stroke-opacity="0.9" stroke-width="1.85"/>
<circle cx="395.0" cy="575.9" r="3.15" fill="#1f5fb8" fill-opacity="0.65" stroke="#737373" stroke-opacity="0.9" stroke-width="1.85"/>
<circle cx="398.0" cy="573.3" r="3.15" fill="#1f5fb8" fill-opacity="0.65" stroke="#737373" stroke-opacity="0.9" stroke-width="1.85"/>
<circle cx="400.0" cy="578.2" r="3.15" fill="#1f5fb8" fill-opacity="0.65" stroke="#737373" stroke-opacity="0.9" stroke-width="1.85"/>
<circle cx="402.8" cy="582.4" r="3.15" fill="#1f5fb8" fill-opacity="0.65" stroke="#737373" stroke-opacity="0.9" stroke-width="1.85"/>
<circle cx="405.5" cy="583.8" r="3.15" fill="#1f5fb8" fill-opacity="0.65" stroke="#737373" stroke-opacity="0.9" stroke-width="1.85"/>
<circle cx="408.0" cy="583.8" r="3.15" fill="#1f5fb8" fill-opacity="0.65" stroke="#737373" stroke-opacity="0.9" stroke-width="1.85"/>
<circle cx="409.9" cy="574.4" r="3.15" fill="#1f5fb8" fill-opacity="0.65" stroke="#737373" stroke-opacity="0.9" stroke-width="1.85"/>
<circle cx="412.5" cy="575.3" r="3.15" fill="#1f5fb8" fill-opacity="0.65" stroke="#737373" stroke-opacity="0.9" stroke-width="1.85"/>
<circle cx="415.3" cy="579.8" r="3.15" fill="#1f5fb8" fill-opacity="0.65" stroke="#737373" stroke-opacity="0.9" stroke-width="1.85"/>
<circle cx="417.8" cy="582.5" r="3.15" fill="#1f5fb8" fill-opacity="0.65" stroke="#737373" stroke-opacity="0.9" stroke-width="1.85"/>
<circle cx="420.4" cy="575.6" r="3.15" fill="#1f5fb8" fill-opacity="0.65" stroke="#737373" stroke-opacity="0.9" stroke-width="1.85"/>
<circle cx="422.8" cy="582.5" r="3.15" fill="#1f5fb8" fill-opacity="0.65" stroke="#737373" stroke-opacity="0.9" stroke-width="1.85"/>
<circle cx="252.5" cy="570.1" r="3.15" fill="#1f5fb8" fill-opacity="0.65" stroke="#737373" stroke-opacity="0.9" stroke-width="1.85"/>
<circle cx="298.1" cy="561.6" r="3.15" fill="#1f5fb8" fill-opacity="0.65" stroke="#737373" stroke-opacity="0.9" stroke-width="1.85"/>
<circle cx="274.4" cy="553.2" r="3.15" fill="#1f5fb8" fill-opacity="0.65" stroke="#737373" stroke-opacity="0.9" stroke-width="1.85"/>
<circle cx="272.2" cy="561.1" r="3.15" fill="#1f5fb8" fill-opacity="0.65" stroke="#737373" stroke-opacity="0.9" stroke-width="1.85"/>
<circle cx="276.3" cy="548.7" r="3.15" fill="#1f5fb8" fill-opacity="0.65" stroke="#737373" stroke-opacity="0.9" stroke-width="1.85"/>
<circle cx="298.2" cy="561.4" r="3.15" fill="#1f5fb8" fill-opacity="0.65" stroke="#737373" stroke-opacity="0.9" stroke-width="1.85"/>
<circle cx="264.0" cy="568.8" r="3.15" fill="#1f5fb8" fill-opacity="0.65" stroke="#737373" stroke-opacity="0.9" stroke-width="1.85"/>
<circle cx="273.8" cy="560.8" r="3.15" fill="#1f5fb8" fill-opacity="0.65" stroke="#737373" stroke-opacity="0.9" stroke-width="1.85"/>
<circle cx="281.5" cy="549.7" r="3.15" fill="#1f5fb8" fill-opacity="0.65" stroke="#737373" stroke-opacity="0.9" stroke-width="1.85"/>
<circle cx="272.3" cy="558.8" r="3.15" fill="#1f5fb8" fill-opacity="0.65" stroke="#737373" stroke-opacity="0.9" stroke-width="1.85"/>
<circle cx="297.4" cy="572.0" r="3.15" fill="#1f5fb8" fill-opacity="0.65" stroke="#737373" stroke-opacity="0.9" stroke-width="1.85"/>
<circle cx="256.2" cy="560.3" r="3.15" fill="#1f5fb8" fill-opacity="0.65" stroke="#737373" stroke-opacity="0.9" stroke-width="1.85"/>
<circle cx="247.6" cy="559.3" r="3.15" fill="#1f5fb8" fill-opacity="0.65" stroke="#737373" stroke-opacity="0.9" stroke-width="1.85"/>
<circle cx="288.9" cy="571.4" r="3.15" fill="#1f5fb8" fill-opacity="0.65" stroke="#737373" stroke-opacity="0.9" stroke-width="1.85"/>
<circle cx="268.6" cy="556.2" r="3.15" fill="#1f5fb8" fill-opacity="0.65" stroke="#737373" stroke-opacity="0.9" stroke-width="1.85"/>
<circle cx="251.5" cy="564.1" r="3.15" fill="#1f5fb8" fill-opacity="0.65" stroke="#737373" stroke-opacity="0.9" stroke-width="1.85"/>
<circle cx="295.5" cy="551.4" r="3.15" fill="#1f5fb8" fill-opacity="0.65" stroke="#737373" stroke-opacity="0.9" stroke-width="1.85"/>
<circle cx="286.8" cy="548.6" r="3.15" fill="#1f5fb8" fill-opacity="0.65" stroke="#737373" stroke-opacity="0.9" stroke-width="1.85"/>
<circle cx="251.6" cy="553.9" r="3.15" fill="#1f5fb8" fill-opacity="0.65" stroke="#737373" stroke-opacity="0.9" stroke-width="1.85"/>
<circle cx="281.2" cy="556.4" r="3.15" fill="#1f5fb8" fill-opacity="0.65" stroke="#737373" stroke-opacity="0.9" stroke-width="1.85"/>
<circle cx="261.3" cy="564.1" r="3.15" fill="#1f5fb8" fill-opacity="0.65" stroke="#737373" stroke-opacity="0.9" stroke-width="1.85"/>
<circle cx="246.3" cy="567.0" r="3.15" fill="#1f5fb8" fill-opacity="0.65" stroke="#737373" stroke-opacity="0.9" stroke-width="1.85"/>
<circle cx="247.4" cy="561.3" r="3.15" fill="#1f5fb8" fill-opacity="0.65" stroke="#737373" stroke-opacity="0.9" stroke-width="1.85"/>
<circle cx="255.0" cy="553.1" r="3.15" fill="#1f5fb8" fill-opacity="0.65" stroke="#737373" stroke-opacity="0.9" stroke-width="1.85"/>
<circle cx="271.8" cy="559.4" r="3.15" fill="#1f5fb8" fill-opacity="0.65" stroke="#737373" stroke-opacity="0.9" stroke-width="1.85"/>
<circle cx="262.5" cy="558.7" r="3.15" fill="#1f5fb8" fill-opacity="0.65" stroke="#737373" stroke-opacity="0.9" stroke-width="1.85"/>
<circle cx="271.8" cy="552.2" r="3.15" fill="#1f5fb8" fill-opacity="0.65" stroke="#737373" stroke-opacity="0.9" stroke-width="1.85"/>
<circle cx="252.3" cy="564.4" r="3.15" fill="#1f5fb8" fill-opacity="0.65" stroke="#737373" stroke-opacity="0.9" stroke-width="1.85"/>
<circle cx="338.3" cy="568.5" r="3.15" fill="#1f5fb8" fill-opacity="0.65" stroke="#737373" stroke-opacity="0.9" stroke-width="1.85"/>
<circle cx="351.1" cy="569.8" r="3.15" fill="#1f5fb8" fill-opacity="0.65" stroke="#737373" stroke-opacity="0.9" stroke-width="1.85"/>
<circle cx="351.4" cy="563.7" r="3.15" fill="#1f5fb8" fill-opacity="0.65" stroke="#737373" stroke-opacity="0.9" stroke-width="1.85"/>
<circle cx="344.4" cy="573.0" r="3.15" fill="#1f5fb8" fill-opacity="0.65" stroke="#737373" stroke-opacity="0.9" stroke-width="1.85"/>
<circle cx="354.2" cy="565.1" r="3.15" fill="#1f5fb8" fill-opacity="0.65" stroke="#737373" stroke-opacity="0.9" stroke-width="1.85"/>
<circle cx="318.9" cy="574.8" r="3.15" fill="#1f5fb8" fill-opacity="0.65" stroke="#737373" stroke-opacity="0.9" stroke-width="1.85"/>
<circle cx="313.1" cy="576.0" r="3.15" fill="#1f5fb8" fill-opacity="0.65" stroke="#737373" stroke-opacity="0.9" stroke-width="1.85"/>
<circle cx="353.3" cy="562.1" r="3.15" fill="#1f5fb8" fill-opacity="0.65" stroke="#737373" stroke-opacity="0.9" stroke-width="1.85"/>
<circle cx="314.4" cy="571.6" r="3.15" fill="#1f5fb8" fill-opacity="0.65" stroke="#737373" stroke-opacity="0.9" stroke-width="1.85"/>
<circle cx="315.6" cy="561.6" r="3.15" fill="#1f5fb8" fill-opacity="0.65" stroke="#737373" stroke-opacity="0.9" stroke-width="1.85"/>
<circle cx="349.9" cy="566.7" r="3.15" fill="#1f5fb8" fill-opacity="0.65" stroke="#737373" stroke-opacity="0.9" stroke-width="1.85"/>
<circle cx="347.4" cy="562.0" r="3.15" fill="#1f5fb8" fill-opacity="0.65" stroke="#737373" stroke-opacity="0.9" stroke-width="1.85"/>
<circle cx="324.2" cy="571.0" r="3.15" fill="#1f5fb8" fill-opacity="0.65" stroke="#737373" stroke-opacity="0.9" stroke-width="1.85"/>
<circle cx="301.1" cy="563.2" r="3.15" fill="#1f5fb8" fill-opacity="0.65" stroke="#737373" stroke-opacity="0.9" stroke-width="1.85"/>
<circle cx="184.4" cy="539.7" r="3.15" fill="#1f5fb8" fill-opacity="0.65" stroke="#737373" stroke-opacity="0.9" stroke-width="1.85"/>
<circle cx="220.5" cy="447.8" r="3.15" fill="#1f5fb8" fill-opacity="0.65" stroke="#737373" stroke-opacity="0.9" stroke-width="1.85"/>
<circle cx="213.3" cy="483.1" r="3.15" fill="#1f5fb8" fill-opacity="0.65" stroke="#737373" stroke-opacity="0.9" stroke-width="1.85"/>
<circle cx="231.6" cy="484.9" r="3.15" fill="#1f5fb8" fill-opacity="0.65" stroke="#737373" stroke-opacity="0.9" stroke-width="1.85"/>
<circle cx="195.3" cy="489.1" r="3.15" fill="#1f5fb8" fill-opacity="0.65" stroke="#737373" stroke-opacity="0.9" stroke-width="1.85"/>
<circle cx="194.8" cy="498.8" r="3.15" fill="#1f5fb8" fill-opacity="0.65" stroke="#737373" stroke-opacity="0.9" stroke-width="1.85"/>
<circle cx="191.2" cy="501.8" r="3.15" fill="#1f5fb8" fill-opacity="0.65" stroke="#737373" stroke-opacity="0.9" stroke-width="1.85"/>
<circle cx="200.2" cy="502.9" r="3.15" fill="#1f5fb8" fill-opacity="0.65" stroke="#737373" stroke-opacity="0.9" stroke-width="1.85"/>
<circle cx="273.4" cy="508.6" r="3.15" fill="#1f5fb8" fill-opacity="0.65" stroke="#737373" stroke-opacity="0.9" stroke-width="1.85"/>
<circle cx="272.6" cy="514.3" r="3.15" fill="#1f5fb8" fill-opacity="0.65" stroke="#737373" stroke-opacity="0.9" stroke-width="1.85"/>
<circle cx="272.3" cy="519.9" r="3.15" fill="#1f5fb8" fill-opacity="0.65" stroke="#737373" stroke-opacity="0.9" stroke-width="1.85"/>
<circle cx="246.8" cy="515.6" r="3.15" fill="#1f5fb8" fill-opacity="0.65" stroke="#737373" stroke-opacity="0.9" stroke-width="1.85"/>
<circle cx="248.3" cy="521.7" r="3.15" fill="#1f5fb8" fill-opacity="0.65" stroke="#737373" stroke-opacity="0.9" stroke-width="1.85"/>
<circle cx="309.1" cy="520.6" r="3.15" fill="#1f5fb8" fill-opacity="0.65" stroke="#737373" stroke-opacity="0.9" stroke-width="1.85"/>
<circle cx="274.4" cy="527.7" r="3.15" fill="#1f5fb8" fill-opacity="0.65" stroke="#737373" stroke-opacity="0.9" stroke-width="1.85"/>
<circle cx="267.4" cy="533.8" r="3.15" fill="#1f5fb8" fill-opacity="0.65" stroke="#737373" stroke-opacity="0.9" stroke-width="1.85"/>
<circle cx="265.8" cy="537.1" r="3.15" fill="#1f5fb8" fill-opacity="0.65" stroke="#737373" stroke-opacity="0.9" stroke-width="1.85"/>
<circle cx="266.6" cy="541.6" r="3.15" fill="#1f5fb8" fill-opacity="0.65" stroke="#737373" stroke-opacity="0.9" stroke-width="1.85"/>
<circle cx="271.4" cy="541.9" r="3.15" fill="#1f5fb8" fill-opacity="0.65" stroke="#737373" stroke-opacity="0.9" stroke-width="1.85"/>
<circle cx="224.8" cy="536.8" r="3.15" fill="#1f5fb8" fill-opacity="0.65" stroke="#737373" stroke-opacity="0.9" stroke-width="1.85"/>
<circle cx="203.8" cy="538.3" r="3.15" fill="#1f5fb8" fill-opacity="0.65" stroke="#737373" stroke-opacity="0.9" stroke-width="1.85"/>
<circle cx="197.8" cy="543.1" r="3.15" fill="#1f5fb8" fill-opacity="0.65" stroke="#737373" stroke-opacity="0.9" stroke-width="1.85"/>
<circle cx="227.8" cy="542.7" r="3.15" fill="#1f5fb8" fill-opacity="0.65" stroke="#737373" stroke-opacity="0.9" stroke-width="1.85"/>
<circle cx="249.3" cy="540.1" r="3.15" fill="#1f5fb8" fill-opacity="0.65" stroke="#737373" stroke-opacity="0.9" stroke-width="1.85"/>
<circle cx="245.6" cy="544.3" r="3.15" fill="#1f5fb8" fill-opacity="0.65" stroke="#737373" stroke-opacity="0.9" stroke-width="1.85"/>
<circle cx="241.8" cy="544.9" r="3.15" fill="#1f5fb8" fill-opacity="0.65" stroke="#737373" stroke-opacity="0.9" stroke-width="1.85"/>
<circle cx="234.3" cy="545.4" r="3.15" fill="#1f5fb8" fill-opacity="0.65" stroke="#737373" stroke-opacity="0.9" stroke-width="1.85"/>
<circle cx="284.9" cy="537.9" r="3.15" fill="#1f5fb8" fill-opacity="0.65" stroke="#737373" stroke-opacity="0.9" stroke-width="1.85"/>
<circle cx="287.3" cy="543.9" r="3.15" fill="#1f5fb8" fill-opacity="0.65" stroke="#737373" stroke-opacity="0.9" stroke-width="1.85"/>
<circle cx="297.8" cy="538.6" r="3.15" fill="#1f5fb8" fill-opacity="0.65" stroke="#737373" stroke-opacity="0.9" stroke-width="1.85"/>
<circle cx="296.6" cy="546.1" r="3.15" fill="#1f5fb8" fill-opacity="0.65" stroke="#737373" stroke-opacity="0.9" stroke-width="1.85"/>
<circle cx="317.6" cy="536.8" r="3.15" fill="#1f5fb8" fill-opacity="0.65" stroke="#737373" stroke-opacity="0.9" stroke-width="1.85"/>
<circle cx="332.3" cy="545.4" r="3.15" fill="#1f5fb8" fill-opacity="0.65" stroke="#737373" stroke-opacity="0.9" stroke-width="1.85"/>
<circle cx="367.6" cy="542.8" r="3.15" fill="#1f5fb8" fill-opacity="0.65" stroke="#737373" stroke-opacity="0.9" stroke-width="1.85"/>
<circle cx="398.8" cy="535.6" r="3.15" fill="#1f5fb8" fill-opacity="0.65" stroke="#737373" stroke-opacity="0.9" stroke-width="1.85"/>
<circle cx="152.9" cy="578.6" r="3.15" fill="#1f5fb8" fill-opacity="0.65" stroke="#737373" stroke-opacity="0.9" stroke-width="1.85"/>
<circle cx="166.4" cy="578.6" r="3.15" fill="#1f5fb8" fill-opacity="0.65" stroke="#737373" stroke-opacity="0.9" stroke-width="1.85"/>
<circle cx="176.1" cy="576.5" r="3.15" fill="#1f5fb8" fill-opacity="0.65" stroke="#737373" stroke-opacity="0.9" stroke-width="1.85"/>
<circle cx="181.9" cy="573" r="3.15" fill="#1f5fb8" fill-opacity="0.65" stroke="#737373" stroke-opacity="0.9" stroke-width="1.85"/>
<circle cx="186.3" cy="580.5" r="3.15" fill="#1f5fb8" fill-opacity="0.65" stroke="#737373" stroke-opacity="0.9" stroke-width="1.85"/>
<circle cx="198" cy="545.4" r="3.15" fill="#1f5fb8" fill-opacity="0.65" stroke="#737373" stroke-opacity="0.9" stroke-width="1.85"/>
<circle cx="203.3" cy="572.5" r="3.15" fill="#1f5fb8" fill-opacity="0.65" stroke="#737373" stroke-opacity="0.9" stroke-width="1.85"/>
<circle cx="210" cy="572.5" r="3.15" fill="#1f5fb8" fill-opacity="0.65" stroke="#737373" stroke-opacity="0.9" stroke-width="1.85"/>
<circle cx="212.2" cy="564.5" r="3.15" fill="#1f5fb8" fill-opacity="0.65" stroke="#737373" stroke-opacity="0.9" stroke-width="1.85"/>
<circle cx="218.4" cy="559.7" r="3.15" fill="#1f5fb8" fill-opacity="0.65" stroke="#737373" stroke-opacity="0.9" stroke-width="1.85"/>
<circle cx="219.3" cy="567.2" r="3.15" fill="#1f5fb8" fill-opacity="0.65" stroke="#737373" stroke-opacity="0.9" stroke-width="1.85"/>
<circle cx="211.3" cy="581.4" r="3.15" fill="#1f5fb8" fill-opacity="0.65" stroke="#737373" stroke-opacity="0.9" stroke-width="1.85"/>
<circle cx="219.3" cy="578.7" r="3.15" fill="#1f5fb8" fill-opacity="0.65" stroke="#737373" stroke-opacity="0.9" stroke-width="1.85"/>
<circle cx="226.9" cy="561" r="3.15" fill="#1f5fb8" fill-opacity="0.65" stroke="#737373" stroke-opacity="0.9" stroke-width="1.85"/>
<circle cx="228.6" cy="555.2" r="3.15" fill="#1f5fb8" fill-opacity="0.65" stroke="#737373" stroke-opacity="0.9" stroke-width="1.85"/>
<circle cx="227.3" cy="572.5" r="3.15" fill="#1f5fb8" fill-opacity="0.65" stroke="#737373" stroke-opacity="0.9" stroke-width="1.85"/>
<circle cx="230.9" cy="578.7" r="3.15" fill="#1f5fb8" fill-opacity="0.65" stroke="#737373" stroke-opacity="0.9" stroke-width="1.85"/>
<circle cx="238" cy="558.3" r="3.15" fill="#1f5fb8" fill-opacity="0.65" stroke="#737373" stroke-opacity="0.9" stroke-width="1.85"/>
<circle cx="235.3" cy="563.2" r="3.15" fill="#1f5fb8" fill-opacity="0.65" stroke="#737373" stroke-opacity="0.9" stroke-width="1.85"/>
<circle cx="238.4" cy="566.3" r="3.15" fill="#1f5fb8" fill-opacity="0.65" stroke="#737373" stroke-opacity="0.9" stroke-width="1.85"/>
<circle cx="237.1" cy="571.2" r="3.15" fill="#1f5fb8" fill-opacity="0.65" stroke="#737373" stroke-opacity="0.9" stroke-width="1.85"/>
<circle cx="245.1" cy="568.5" r="3.15" fill="#1f5fb8" fill-opacity="0.65" stroke="#737373" stroke-opacity="0.9" stroke-width="1.85"/>
<circle cx="242.4" cy="578.7" r="3.15" fill="#1f5fb8" fill-opacity="0.65" stroke="#737373" stroke-opacity="0.9" stroke-width="1.85"/>
<circle cx="239.7" cy="578.7" r="3.15" fill="#1f5fb8" fill-opacity="0.65" stroke="#737373" stroke-opacity="0.9" stroke-width="1.85"/>
<circle cx="241.1" cy="591.2" r="3.15" fill="#1f5fb8" fill-opacity="0.65" stroke="#737373" stroke-opacity="0.9" stroke-width="1.85"/>
<circle cx="241.1" cy="598.3" r="3.15" fill="#1f5fb8" fill-opacity="0.65" stroke="#737373" stroke-opacity="0.9" stroke-width="1.85"/>
<circle cx="242" cy="603.2" r="3.15" fill="#1f5fb8" fill-opacity="0.65" stroke="#737373" stroke-opacity="0.9" stroke-width="1.85"/>
<circle cx="253.9" cy="608.1" r="3.15" fill="#1f5fb8" fill-opacity="0.65" stroke="#737373" stroke-opacity="0.9" stroke-width="1.85"/>
<circle cx="245.5" cy="548.6" r="3.15" fill="#1f5fb8" fill-opacity="0.65" stroke="#737373" stroke-opacity="0.9" stroke-width="1.85"/>
<circle cx="251.3" cy="575.2" r="3.15" fill="#1f5fb8" fill-opacity="0.65" stroke="#737373" stroke-opacity="0.9" stroke-width="1.85"/>
<circle cx="252.2" cy="585" r="3.15" fill="#1f5fb8" fill-opacity="0.65" stroke="#737373" stroke-opacity="0.9" stroke-width="1.85"/>
<circle cx="257.5" cy="555.7" r="3.15" fill="#1f5fb8" fill-opacity="0.65" stroke="#737373" stroke-opacity="0.9" stroke-width="1.85"/>
<circle cx="255.7" cy="562.8" r="3.15" fill="#1f5fb8" fill-opacity="0.65" stroke="#737373" stroke-opacity="0.9" stroke-width="1.85"/>
<circle cx="256.6" cy="568.1" r="3.15" fill="#1f5fb8" fill-opacity="0.65" stroke="#737373" stroke-opacity="0.9" stroke-width="1.85"/>
<circle cx="260.2" cy="578.3" r="3.15" fill="#1f5fb8" fill-opacity="0.65" stroke="#737373" stroke-opacity="0.9" stroke-width="1.85"/>
<circle cx="261.9" cy="570.8" r="3.15" fill="#1f5fb8" fill-opacity="0.65" stroke="#737373" stroke-opacity="0.9" stroke-width="1.85"/>
<circle cx="264.6" cy="565.4" r="3.15" fill="#1f5fb8" fill-opacity="0.65" stroke="#737373" stroke-opacity="0.9" stroke-width="1.85"/>
<circle cx="260.2" cy="590.7" r="3.15" fill="#1f5fb8" fill-opacity="0.65" stroke="#737373" stroke-opacity="0.9" stroke-width="1.85"/>
<circle cx="266.4" cy="548.6" r="3.15" fill="#1f5fb8" fill-opacity="0.65" stroke="#737373" stroke-opacity="0.9" stroke-width="1.85"/>
<circle cx="270.8" cy="553" r="3.15" fill="#1f5fb8" fill-opacity="0.65" stroke="#737373" stroke-opacity="0.9" stroke-width="1.85"/>
<circle cx="270.8" cy="557.4" r="3.15" fill="#1f5fb8" fill-opacity="0.65" stroke="#737373" stroke-opacity="0.9" stroke-width="1.85"/>
<circle cx="276.1" cy="552.1" r="3.15" fill="#1f5fb8" fill-opacity="0.65" stroke="#737373" stroke-opacity="0.9" stroke-width="1.85"/>
<circle cx="275.7" cy="565.9" r="3.15" fill="#1f5fb8" fill-opacity="0.65" stroke="#737373" stroke-opacity="0.9" stroke-width="1.85"/>
<circle cx="269.9" cy="570.3" r="3.15" fill="#1f5fb8" fill-opacity="0.65" stroke="#737373" stroke-opacity="0.9" stroke-width="1.85"/>
<circle cx="266.4" cy="578.7" r="3.15" fill="#1f5fb8" fill-opacity="0.65" stroke="#737373" stroke-opacity="0.9" stroke-width="1.85"/>
<circle cx="270.8" cy="578.7" r="3.15" fill="#1f5fb8" fill-opacity="0.65" stroke="#737373" stroke-opacity="0.9" stroke-width="1.85"/>
<circle cx="277.9" cy="578.7" r="3.15" fill="#1f5fb8" fill-opacity="0.65" stroke="#737373" stroke-opacity="0.9" stroke-width="1.85"/>
<circle cx="277.9" cy="585" r="3.15" fill="#1f5fb8" fill-opacity="0.65" stroke="#737373" stroke-opacity="0.9" stroke-width="1.85"/>
<circle cx="282.8" cy="555.2" r="3.15" fill="#1f5fb8" fill-opacity="0.65" stroke="#737373" stroke-opacity="0.9" stroke-width="1.85"/>
<circle cx="284.1" cy="578.7" r="3.15" fill="#1f5fb8" fill-opacity="0.65" stroke="#737373" stroke-opacity="0.9" stroke-width="1.85"/>
<circle cx="291.2" cy="553" r="3.15" fill="#1f5fb8" fill-opacity="0.65" stroke="#737373" stroke-opacity="0.9" stroke-width="1.85"/>
<circle cx="291.2" cy="561" r="3.15" fill="#1f5fb8" fill-opacity="0.65" stroke="#737373" stroke-opacity="0.9" stroke-width="1.85"/>
<circle cx="297" cy="553" r="3.15" fill="#1f5fb8" fill-opacity="0.65" stroke="#737373" stroke-opacity="0.9" stroke-width="1.85"/>
<circle cx="296.1" cy="558.3" r="3.15" fill="#1f5fb8" fill-opacity="0.65" stroke="#737373" stroke-opacity="0.9" stroke-width="1.85"/>
<circle cx="288.6" cy="567.1" r="3.15" fill="#1f5fb8" fill-opacity="0.65" stroke="#737373" stroke-opacity="0.9" stroke-width="1.85"/>
<circle cx="292.6" cy="570.8" r="3.15" fill="#1f5fb8" fill-opacity="0.65" stroke="#737373" stroke-opacity="0.9" stroke-width="1.85"/>
<circle cx="292.6" cy="576.1" r="3.15" fill="#1f5fb8" fill-opacity="0.65" stroke="#737373" stroke-opacity="0.9" stroke-width="1.85"/>
<circle cx="293" cy="585.4" r="3.15" fill="#1f5fb8" fill-opacity="0.65" stroke="#737373" stroke-opacity="0.9" stroke-width="1.85"/>
<circle cx="279.3" cy="601" r="3.15" fill="#1f5fb8" fill-opacity="0.65" stroke="#737373" stroke-opacity="0.9" stroke-width="1.85"/>
<circle cx="294.8" cy="606.3" r="3.15" fill="#1f5fb8" fill-opacity="0.65" stroke="#737373" stroke-opacity="0.9" stroke-width="1.85"/>
<circle cx="304.6" cy="563.6" r="3.15" fill="#1f5fb8" fill-opacity="0.65" stroke="#737373" stroke-opacity="0.9" stroke-width="1.85"/>
<circle cx="309" cy="558.3" r="3.15" fill="#1f5fb8" fill-opacity="0.65" stroke="#737373" stroke-opacity="0.9" stroke-width="1.85"/>
<circle cx="301" cy="571.6" r="3.15" fill="#1f5fb8" fill-opacity="0.65" stroke="#737373" stroke-opacity="0.9" stroke-width="1.85"/>
<circle cx="303.7" cy="578.7" r="3.15" fill="#1f5fb8" fill-opacity="0.65" stroke="#737373" stroke-opacity="0.9" stroke-width="1.85"/>
<circle cx="308.1" cy="577" r="3.15" fill="#1f5fb8" fill-opacity="0.65" stroke="#737373" stroke-opacity="0.9" stroke-width="1.85"/>
<circle cx="305.5" cy="583.2" r="3.15" fill="#1f5fb8" fill-opacity="0.65" stroke="#737373" stroke-opacity="0.9" stroke-width="1.85"/>
<circle cx="299.2" cy="577" r="3.15" fill="#1f5fb8" fill-opacity="0.65" stroke="#737373" stroke-opacity="0.9" stroke-width="1.85"/>
<circle cx="333.1" cy="548.1" r="3.15" fill="#1f5fb8" fill-opacity="0.65" stroke="#737373" stroke-opacity="0.9" stroke-width="1.85"/>
<circle cx="349.5" cy="551.7" r="3.15" fill="#1f5fb8" fill-opacity="0.65" stroke="#737373" stroke-opacity="0.9" stroke-width="1.85"/>
<circle cx="349.5" cy="561.4" r="3.15" fill="#1f5fb8" fill-opacity="0.65" stroke="#737373" stroke-opacity="0.9" stroke-width="1.85"/>
<circle cx="368.2" cy="550.3" r="3.15" fill="#1f5fb8" fill-opacity="0.65" stroke="#737373" stroke-opacity="0.9" stroke-width="1.85"/>
<circle cx="318.9" cy="559.7" r="3.15" fill="#1f5fb8" fill-opacity="0.65" stroke="#737373" stroke-opacity="0.9" stroke-width="1.85"/>
<circle cx="331.8" cy="559.2" r="3.15" fill="#1f5fb8" fill-opacity="0.65" stroke="#737373" stroke-opacity="0.9" stroke-width="1.85"/>
<circle cx="338" cy="559.7" r="3.15" fill="#1f5fb8" fill-opacity="0.65" stroke="#737373" stroke-opacity="0.9" stroke-width="1.85"/>
<circle cx="309.6" cy="570.8" r="3.15" fill="#1f5fb8" fill-opacity="0.65" stroke="#737373" stroke-opacity="0.9" stroke-width="1.85"/>
<circle cx="320.2" cy="568.5" r="3.15" fill="#1f5fb8" fill-opacity="0.65" stroke="#737373" stroke-opacity="0.9" stroke-width="1.85"/>
<circle cx="330.4" cy="569" r="3.15" fill="#1f5fb8" fill-opacity="0.65" stroke="#737373" stroke-opacity="0.9" stroke-width="1.85"/>
<circle cx="340.6" cy="565" r="3.15" fill="#1f5fb8" fill-opacity="0.65" stroke="#737373" stroke-opacity="0.9" stroke-width="1.85"/>
<circle cx="347.7" cy="566.3" r="3.15" fill="#1f5fb8" fill-opacity="0.65" stroke="#737373" stroke-opacity="0.9" stroke-width="1.85"/>
<circle cx="350.8" cy="571.6" r="3.15" fill="#1f5fb8" fill-opacity="0.65" stroke="#737373" stroke-opacity="0.9" stroke-width="1.85"/>
<circle cx="365.5" cy="566.8" r="3.15" fill="#1f5fb8" fill-opacity="0.65" stroke="#737373" stroke-opacity="0.9" stroke-width="1.85"/>
<circle cx="374.4" cy="566.3" r="3.15" fill="#1f5fb8" fill-opacity="0.65" stroke="#737373" stroke-opacity="0.9" stroke-width="1.85"/>
<circle cx="416.1" cy="559.7" r="3.15" fill="#1f5fb8" fill-opacity="0.65" stroke="#737373" stroke-opacity="0.9" stroke-width="1.85"/>
<circle cx="314.9" cy="578.3" r="3.15" fill="#1f5fb8" fill-opacity="0.65" stroke="#737373" stroke-opacity="0.9" stroke-width="1.85"/>
<circle cx="320.2" cy="580.5" r="3.15" fill="#1f5fb8" fill-opacity="0.65" stroke="#737373" stroke-opacity="0.9" stroke-width="1.85"/>
<circle cx="326.4" cy="578.3" r="3.15" fill="#1f5fb8" fill-opacity="0.65" stroke="#737373" stroke-opacity="0.9" stroke-width="1.85"/>
<circle cx="330.9" cy="578.3" r="3.15" fill="#1f5fb8" fill-opacity="0.65" stroke="#737373" stroke-opacity="0.9" stroke-width="1.85"/>
<circle cx="338.9" cy="575.2" r="3.15" fill="#1f5fb8" fill-opacity="0.65" stroke="#737373" stroke-opacity="0.9" stroke-width="1.85"/>
<circle cx="345.1" cy="577" r="3.15" fill="#1f5fb8" fill-opacity="0.65" stroke="#737373" stroke-opacity="0.9" stroke-width="1.85"/>
<circle cx="353.1" cy="577.9" r="3.15" fill="#1f5fb8" fill-opacity="0.65" stroke="#737373" stroke-opacity="0.9" stroke-width="1.85"/>
<circle cx="360.2" cy="576.1" r="3.15" fill="#1f5fb8" fill-opacity="0.65" stroke="#737373" stroke-opacity="0.9" stroke-width="1.85"/>
<circle cx="364.6" cy="578.7" r="3.15" fill="#1f5fb8" fill-opacity="0.65" stroke="#737373" stroke-opacity="0.9" stroke-width="1.85"/>
<circle cx="373.5" cy="574.3" r="3.15" fill="#1f5fb8" fill-opacity="0.65" stroke="#737373" stroke-opacity="0.9" stroke-width="1.85"/>
<circle cx="380.6" cy="575.2" r="3.15" fill="#1f5fb8" fill-opacity="0.65" stroke="#737373" stroke-opacity="0.9" stroke-width="1.85"/>
<circle cx="385.9" cy="579.6" r="3.15" fill="#1f5fb8" fill-opacity="0.65" stroke="#737373" stroke-opacity="0.9" stroke-width="1.85"/>
<circle cx="391.3" cy="579.2" r="3.15" fill="#1f5fb8" fill-opacity="0.65" stroke="#737373" stroke-opacity="0.9" stroke-width="1.85"/>
<circle cx="398.4" cy="578.3" r="3.15" fill="#1f5fb8" fill-opacity="0.65" stroke="#737373" stroke-opacity="0.9" stroke-width="1.85"/>
<circle cx="405.5" cy="578.3" r="3.15" fill="#1f5fb8" fill-opacity="0.65" stroke="#737373" stroke-opacity="0.9" stroke-width="1.85"/>
<circle cx="414.3" cy="580.1" r="3.15" fill="#1f5fb8" fill-opacity="0.65" stroke="#737373" stroke-opacity="0.9" stroke-width="1.85"/>
<circle cx="424.1" cy="578.3" r="3.15" fill="#1f5fb8" fill-opacity="0.65" stroke="#737373" stroke-opacity="0.9" stroke-width="1.85"/>
<circle cx="331.8" cy="584.1" r="3.15" fill="#1f5fb8" fill-opacity="0.65" stroke="#737373" stroke-opacity="0.9" stroke-width="1.85"/>
<circle cx="344.2" cy="582.3" r="3.15" fill="#1f5fb8" fill-opacity="0.65" stroke="#737373" stroke-opacity="0.9" stroke-width="1.85"/>
<circle cx="361.1" cy="585.9" r="3.15" fill="#1f5fb8" fill-opacity="0.65" stroke="#737373" stroke-opacity="0.9" stroke-width="1.85"/>
<circle cx="354" cy="593" r="3.15" fill="#1f5fb8" fill-opacity="0.65" stroke="#737373" stroke-opacity="0.9" stroke-width="1.85"/>
<circle cx="361.1" cy="591.2" r="3.15" fill="#1f5fb8" fill-opacity="0.65" stroke="#737373" stroke-opacity="0.9" stroke-width="1.85"/>
<circle cx="322.4" cy="592.1" r="3.15" fill="#1f5fb8" fill-opacity="0.65" stroke="#737373" stroke-opacity="0.9" stroke-width="1.85"/>
<circle cx="336.2" cy="597.8" r="3.15" fill="#1f5fb8" fill-opacity="0.65" stroke="#737373" stroke-opacity="0.9" stroke-width="1.85"/>
<circle cx="329.5" cy="602.7" r="3.15" fill="#1f5fb8" fill-opacity="0.65" stroke="#737373" stroke-opacity="0.9" stroke-width="1.85"/>
<circle cx="357.5" cy="608.1" r="3.15" fill="#1f5fb8" fill-opacity="0.65" stroke="#737373" stroke-opacity="0.9" stroke-width="1.85"/>
<circle cx="382.4" cy="584.1" r="3.15" fill="#1f5fb8" fill-opacity="0.65" stroke="#737373" stroke-opacity="0.9" stroke-width="1.85"/>
<circle cx="450" cy="578.3" r="3.15" fill="#1f5fb8" fill-opacity="0.65" stroke="#737373" stroke-opacity="0.9" stroke-width="1.85"/>
</g>
<rect x="74.40" y="437.70" width="483.10" height="217.10" fill="none" stroke="#000" stroke-width="1.7"/>
<line x1="74.40" y1="467.70" x2="81.90" y2="467.70" stroke="#000" stroke-width="1.5"/>
<text transform="translate(29.44,476.85) scale(0.9500,1)" style="font-family:'Liberation Serif', serif;font-style:normal;font-size:30.00px">0.2</text>
<line x1="74.40" y1="578.50" x2="81.90" y2="578.50" stroke="#000" stroke-width="1.5"/>
<text transform="translate(29.02,587.65) scale(0.9500,1)" style="font-family:'Liberation Serif', serif;font-style:normal;font-size:30.00px">0.0</text>
<line x1="233.70" y1="654.80" x2="233.70" y2="647.30" stroke="#000" stroke-width="1.5"/>
<text transform="translate(226.57,681.70) scale(0.9500,1)" style="font-family:'Liberation Serif', serif;font-style:normal;font-size:30.00px">0</text>
<line x1="357.65" y1="654.80" x2="357.65" y2="647.30" stroke="#000" stroke-width="1.5"/>
<text transform="translate(350.24,681.70) scale(0.9500,1)" style="font-family:'Liberation Serif', serif;font-style:normal;font-size:30.00px">5</text>
<line x1="481.60" y1="654.80" x2="481.60" y2="647.30" stroke="#000" stroke-width="1.5"/>
<text transform="translate(466.64,681.70) scale(0.9500,1)" style="font-family:'Liberation Serif', serif;font-style:normal;font-size:30.00px">10</text>
<line x1="109.75" y1="654.80" x2="109.75" y2="647.30" stroke="#000" stroke-width="1.5"/>
<text transform="translate(111.09,681.70) scale(0.9500,1)" style="font-family:'Liberation Serif', serif;font-style:normal;font-size:30.00px">5</text>
<text transform="translate(89.13,684.30) scale(1.2796,1)" style="font-family:'Liberation Serif', serif;font-style:normal;font-size:30.00px">−</text>
<text transform="translate(275.51,718.90) scale(1.1189,1)" style="font-family:'Liberation Serif', serif;font-style:italic;font-size:36.49px">E</text>
<text transform="translate(298.45,724.83) scale(0.9842,1)" style="font-family:'Liberation Serif', serif;font-style:normal;font-size:26.78px">exact</text>
<text transform="translate(26.10,620.01) rotate(-90) scale(1.0736,1)" style="font-family:'Liberation Serif', serif;font-style:italic;font-size:36.49px">E</text>
<text transform="translate(26.10,550.41) rotate(-90) scale(1.0691,1)" style="font-family:'Liberation Serif', serif;font-style:italic;font-size:36.49px">E</text>
<text transform="translate(32.03,527.22) rotate(-90) scale(0.9516,1)" style="font-family:'Liberation Serif', serif;font-style:normal;font-size:26.78px">exact</text>
<text transform="translate(28.65,586.74) rotate(-90) scale(1.2780,1)" style="font-family:'Liberation Serif', serif;font-style:normal;font-size:35.00px">−</text>
<g clip-path="url(#cC)">
<circle cx="798.1" cy="41.8" r="6.3" fill="#d62728" fill-opacity="0.7" stroke="#777777" stroke-opacity="0.85" stroke-width="1.5"/>
<circle cx="798.4" cy="53.9" r="6.3" fill="#d62728" fill-opacity="0.7" stroke="#777777" stroke-opacity="0.85" stroke-width="1.5"/>
<circle cx="818.6" cy="99.1" r="6.3" fill="#d62728" fill-opacity="0.7" stroke="#777777" stroke-opacity="0.85" stroke-width="1.5"/>
<circle cx="814.9" cy="127.1" r="6.3" fill="#d62728" fill-opacity="0.7" stroke="#777777" stroke-opacity="0.85" stroke-width="1.5"/>
<circle cx="866.5" cy="32.8" r="6.3" fill="#d62728" fill-opacity="0.7" stroke="#777777" stroke-opacity="0.85" stroke-width="1.5"/>
<circle cx="913.2" cy="41.8" r="6.3" fill="#d62728" fill-opacity="0.7" stroke="#777777" stroke-opacity="0.85" stroke-width="1.5"/>
<circle cx="844.9" cy="76.8" r="6.3" fill="#d62728" fill-opacity="0.7" stroke="#777777" stroke-opacity="0.85" stroke-width="1.5"/>
<circle cx="865.6" cy="74" r="6.3" fill="#d62728" fill-opacity="0.7" stroke="#777777" stroke-opacity="0.85" stroke-width="1.5"/>
<circle cx="916.8" cy="83.5" r="6.3" fill="#d62728" fill-opacity="0.7" stroke="#777777" stroke-opacity="0.85" stroke-width="1.5"/>
<circle cx="918.3" cy="100.5" r="6.3" fill="#d62728" fill-opacity="0.7" stroke="#777777" stroke-opacity="0.85" stroke-width="1.5"/>
<circle cx="915.9" cy="120.1" r="6.3" fill="#d62728" fill-opacity="0.7" stroke="#777777" stroke-opacity="0.85" stroke-width="1.5"/>
<circle cx="847.3" cy="129.3" r="6.3" fill="#d62728" fill-opacity="0.7" stroke="#777777" stroke-opacity="0.85" stroke-width="1.5"/>
<circle cx="865.6" cy="128.9" r="6.3" fill="#d62728" fill-opacity="0.7" stroke="#777777" stroke-opacity="0.85" stroke-width="1.5"/>
<circle cx="778.3" cy="240.4" r="6.3" fill="#d62728" fill-opacity="0.7" stroke="#777777" stroke-opacity="0.85" stroke-width="1.5"/>
<circle cx="830.6500000000001" cy="231.3" r="6.3" fill="#d62728" fill-opacity="0.7" stroke="#777777" stroke-opacity="0.85" stroke-width="1.5"/>
<circle cx="846.8" cy="141.9" r="6.3" fill="#d62728" fill-opacity="0.7" stroke="#777777" stroke-opacity="0.85" stroke-width="1.5"/>
<circle cx="873.5" cy="174.5" r="6.3" fill="#d62728" fill-opacity="0.7" stroke="#777777" stroke-opacity="0.85" stroke-width="1.5"/>
<circle cx="868.3" cy="185.5" r="6.3" fill="#d62728" fill-opacity="0.7" stroke="#777777" stroke-opacity="0.85" stroke-width="1.5"/>
<circle cx="940.6" cy="191.9" r="6.3" fill="#d62728" fill-opacity="0.7" stroke="#777777" stroke-opacity="0.85" stroke-width="1.5"/>
<circle cx="941" cy="191" r="6.3" fill="#d62728" fill-opacity="0.7" stroke="#777777" stroke-opacity="0.85" stroke-width="1.5"/>
<circle cx="920.1" cy="223" r="6.3" fill="#d62728" fill-opacity="0.7" stroke="#777777" stroke-opacity="0.85" stroke-width="1.5"/>
<circle cx="894.9" cy="238.9" r="6.3" fill="#d62728" fill-opacity="0.7" stroke="#777777" stroke-opacity="0.85" stroke-width="1.5"/>
<circle cx="958.4" cy="243.5" r="6.3" fill="#d62728" fill-opacity="0.7" stroke="#777777" stroke-opacity="0.85" stroke-width="1.5"/>
<circle cx="918.7" cy="254.5" r="6.3" fill="#d62728" fill-opacity="0.7" stroke="#777777" stroke-opacity="0.85" stroke-width="1.5"/>
<circle cx="887.2" cy="257.8" r="6.3" fill="#d62728" fill-opacity="0.7" stroke="#777777" stroke-opacity="0.85" stroke-width="1.5"/>
<circle cx="840.9" cy="271.0" r="6.3" fill="#d62728" fill-opacity="0.7" stroke="#777777" stroke-opacity="0.85" stroke-width="1.5"/>
<circle cx="750.3" cy="280.2" r="6.3" fill="#d62728" fill-opacity="0.7" stroke="#777777" stroke-opacity="0.85" stroke-width="1.5"/>
<circle cx="772.4" cy="310.3" r="6.3" fill="#d62728" fill-opacity="0.7" stroke="#777777" stroke-opacity="0.85" stroke-width="1.5"/>
<circle cx="729.8" cy="346.4" r="6.3" fill="#d62728" fill-opacity="0.7" stroke="#777777" stroke-opacity="0.85" stroke-width="1.5"/>
<circle cx="771.9" cy="340" r="6.3" fill="#d62728" fill-opacity="0.7" stroke="#777777" stroke-opacity="0.85" stroke-width="1.5"/>
<circle cx="795.1" cy="335.1" r="6.3" fill="#d62728" fill-opacity="0.7" stroke="#777777" stroke-opacity="0.85" stroke-width="1.5"/>
<circle cx="814.5" cy="325.4" r="6.3" fill="#d62728" fill-opacity="0.7" stroke="#777777" stroke-opacity="0.85" stroke-width="1.5"/>
<circle cx="819.5" cy="335.4" r="6.3" fill="#d62728" fill-opacity="0.7" stroke="#777777" stroke-opacity="0.85" stroke-width="1.5"/>
<circle cx="787.1" cy="356.5" r="6.3" fill="#d62728" fill-opacity="0.7" stroke="#777777" stroke-opacity="0.85" stroke-width="1.5"/>
<circle cx="803" cy="356.5" r="6.3" fill="#d62728" fill-opacity="0.7" stroke="#777777" stroke-opacity="0.85" stroke-width="1.5"/>
<circle cx="805.4" cy="362.5" r="6.3" fill="#d62728" fill-opacity="0.7" stroke="#777777" stroke-opacity="0.85" stroke-width="1.5"/>
<circle cx="799.3" cy="373.5" r="6.3" fill="#d62728" fill-opacity="0.7" stroke="#777777" stroke-opacity="0.85" stroke-width="1.5"/>
<circle cx="784.2" cy="383" r="6.3" fill="#d62728" fill-opacity="0.7" stroke="#777777" stroke-opacity="0.85" stroke-width="1.5"/>
<circle cx="770.1" cy="392.2" r="6.3" fill="#d62728" fill-opacity="0.7" stroke="#777777" stroke-opacity="0.85" stroke-width="1.5"/>
<circle cx="761.8" cy="397.3" r="6.3" fill="#d62728" fill-opacity="0.7" stroke="#777777" stroke-opacity="0.85" stroke-width="1.5"/>
<circle cx="813.1" cy="273.7" r="6.3" fill="#d62728" fill-opacity="0.7" stroke="#777777" stroke-opacity="0.85" stroke-width="1.5"/>
<circle cx="819.5" cy="284.7" r="6.3" fill="#d62728" fill-opacity="0.7" stroke="#777777" stroke-opacity="0.85" stroke-width="1.5"/>
<circle cx="821.9" cy="293.9" r="6.3" fill="#d62728" fill-opacity="0.7" stroke="#777777" stroke-opacity="0.85" stroke-width="1.5"/>
<circle cx="815.6" cy="275.8" r="6.3" fill="#d62728" fill-opacity="0.7" stroke="#777777" stroke-opacity="0.85" stroke-width="1.5"/>
<circle cx="821.8" cy="283.2" r="6.3" fill="#d62728" fill-opacity="0.7" stroke="#777777" stroke-opacity="0.85" stroke-width="1.5"/>
<circle cx="824.0" cy="292.2" r="6.3" fill="#d62728" fill-opacity="0.7" stroke="#777777" stroke-opacity="0.85" stroke-width="1.5"/>
<circle cx="828.8" cy="308.95" r="6.3" fill="#d62728" fill-opacity="0.7" stroke="#777777" stroke-opacity="0.85" stroke-width="1.5"/>
<circle cx="894.9" cy="285.6" r="6.3" fill="#d62728" fill-opacity="0.7" stroke="#777777" stroke-opacity="0.85" stroke-width="1.5"/>
<circle cx="911.4" cy="287.8" r="6.3" fill="#d62728" fill-opacity="0.7" stroke="#777777" stroke-opacity="0.85" stroke-width="1.5"/>
<circle cx="850" cy="297.5" r="6.3" fill="#d62728" fill-opacity="0.7" stroke="#777777" stroke-opacity="0.85" stroke-width="1.5"/>
<circle cx="875.7" cy="296.6" r="6.3" fill="#d62728" fill-opacity="0.7" stroke="#777777" stroke-opacity="0.85" stroke-width="1.5"/>
<circle cx="883" cy="298.5" r="6.3" fill="#d62728" fill-opacity="0.7" stroke="#777777" stroke-opacity="0.85" stroke-width="1.5"/>
<circle cx="868.3" cy="304.3" r="6.3" fill="#d62728" fill-opacity="0.7" stroke="#777777" stroke-opacity="0.85" stroke-width="1.5"/>
<circle cx="924.5" cy="308" r="6.3" fill="#d62728" fill-opacity="0.7" stroke="#777777" stroke-opacity="0.85" stroke-width="1.5"/>
<circle cx="846.4" cy="332.3" r="6.3" fill="#d62728" fill-opacity="0.7" stroke="#777777" stroke-opacity="0.85" stroke-width="1.5"/>
<circle cx="840.9" cy="336" r="6.3" fill="#d62728" fill-opacity="0.7" stroke="#777777" stroke-opacity="0.85" stroke-width="1.5"/>
<circle cx="873.8" cy="329.6" r="6.3" fill="#d62728" fill-opacity="0.7" stroke="#777777" stroke-opacity="0.85" stroke-width="1.5"/>
<circle cx="858.3" cy="342.4" r="6.3" fill="#d62728" fill-opacity="0.7" stroke="#777777" stroke-opacity="0.85" stroke-width="1.5"/>
<circle cx="891.2" cy="346.6" r="6.3" fill="#d62728" fill-opacity="0.7" stroke="#777777" stroke-opacity="0.85" stroke-width="1.5"/>
<circle cx="862" cy="359.4" r="6.3" fill="#d62728" fill-opacity="0.7" stroke="#777777" stroke-opacity="0.85" stroke-width="1.5"/>
<circle cx="867.4" cy="361.2" r="6.3" fill="#d62728" fill-opacity="0.7" stroke="#777777" stroke-opacity="0.85" stroke-width="1.5"/>
<circle cx="940.3" cy="349.3" r="6.3" fill="#d62728" fill-opacity="0.7" stroke="#777777" stroke-opacity="0.85" stroke-width="1.5"/>
<circle cx="929.3" cy="357.4" r="6.3" fill="#d62728" fill-opacity="0.7" stroke="#777777" stroke-opacity="0.85" stroke-width="1.5"/>
<circle cx="966.6" cy="365.3" r="6.3" fill="#d62728" fill-opacity="0.7" stroke="#777777" stroke-opacity="0.85" stroke-width="1.5"/>
<circle cx="901.3" cy="373.1" r="6.3" fill="#d62728" fill-opacity="0.7" stroke="#777777" stroke-opacity="0.85" stroke-width="1.5"/>
<circle cx="896.7" cy="379.3" r="6.3" fill="#d62728" fill-opacity="0.7" stroke="#777777" stroke-opacity="0.85" stroke-width="1.5"/>
<circle cx="950.3" cy="375.7" r="6.3" fill="#d62728" fill-opacity="0.7" stroke="#777777" stroke-opacity="0.85" stroke-width="1.5"/>
<circle cx="848.2" cy="379" r="6.3" fill="#d62728" fill-opacity="0.7" stroke="#777777" stroke-opacity="0.85" stroke-width="1.5"/>
<circle cx="870.2" cy="388.1" r="6.3" fill="#d62728" fill-opacity="0.7" stroke="#777777" stroke-opacity="0.85" stroke-width="1.5"/>
<circle cx="935.5" cy="388.5" r="6.3" fill="#d62728" fill-opacity="0.7" stroke="#777777" stroke-opacity="0.85" stroke-width="1.5"/>
<circle cx="839.1" cy="403.9" r="6.3" fill="#d62728" fill-opacity="0.7" stroke="#777777" stroke-opacity="0.85" stroke-width="1.5"/>
<circle cx="857.4" cy="403.9" r="6.3" fill="#d62728" fill-opacity="0.7" stroke="#777777" stroke-opacity="0.85" stroke-width="1.5"/>
<circle cx="761.8" cy="408.3" r="6.3" fill="#d62728" fill-opacity="0.7" stroke="#777777" stroke-opacity="0.85" stroke-width="1.5"/>
<circle cx="748.7" cy="421.8" r="6.3" fill="#d62728" fill-opacity="0.7" stroke="#777777" stroke-opacity="0.85" stroke-width="1.5"/>
<circle cx="788.4" cy="421.1" r="6.3" fill="#d62728" fill-opacity="0.7" stroke="#777777" stroke-opacity="0.85" stroke-width="1.5"/>
<circle cx="776.8" cy="433.7" r="6.3" fill="#d62728" fill-opacity="0.7" stroke="#777777" stroke-opacity="0.85" stroke-width="1.5"/>
<circle cx="814.9" cy="417.8" r="6.3" fill="#d62728" fill-opacity="0.7" stroke="#777777" stroke-opacity="0.85" stroke-width="1.5"/>
<circle cx="822.2" cy="415.6" r="6.3" fill="#d62728" fill-opacity="0.7" stroke="#777777" stroke-opacity="0.85" stroke-width="1.5"/>
<circle cx="826.8" cy="426" r="6.3" fill="#d62728" fill-opacity="0.7" stroke="#777777" stroke-opacity="0.85" stroke-width="1.5"/>
<circle cx="804.3" cy="448" r="6.3" fill="#d62728" fill-opacity="0.7" stroke="#777777" stroke-opacity="0.85" stroke-width="1.5"/>
<circle cx="785.6" cy="459.4" r="6.3" fill="#d62728" fill-opacity="0.7" stroke="#777777" stroke-opacity="0.85" stroke-width="1.5"/>
<circle cx="810.9" cy="459" r="6.3" fill="#d62728" fill-opacity="0.7" stroke="#777777" stroke-opacity="0.85" stroke-width="1.5"/>
<circle cx="809.4" cy="462.1" r="6.3" fill="#d62728" fill-opacity="0.7" stroke="#777777" stroke-opacity="0.85" stroke-width="1.5"/>
<circle cx="801.2" cy="467.2" r="6.3" fill="#d62728" fill-opacity="0.7" stroke="#777777" stroke-opacity="0.85" stroke-width="1.5"/>
<circle cx="811.6" cy="475.5" r="6.3" fill="#d62728" fill-opacity="0.7" stroke="#777777" stroke-opacity="0.85" stroke-width="1.5"/>
<circle cx="827.45" cy="468.1" r="6.3" fill="#d62728" fill-opacity="0.7" stroke="#777777" stroke-opacity="0.85" stroke-width="1.5"/>
<circle cx="757.3" cy="469.1" r="6.3" fill="#d62728" fill-opacity="0.7" stroke="#777777" stroke-opacity="0.85" stroke-width="1.5"/>
<circle cx="733.5" cy="487.4" r="6.3" fill="#d62728" fill-opacity="0.7" stroke="#777777" stroke-opacity="0.85" stroke-width="1.5"/>
<circle cx="785.6" cy="490.7" r="6.3" fill="#d62728" fill-opacity="0.7" stroke="#777777" stroke-opacity="0.85" stroke-width="1.5"/>
<circle cx="721.6" cy="498" r="6.3" fill="#d62728" fill-opacity="0.7" stroke="#777777" stroke-opacity="0.85" stroke-width="1.5"/>
<circle cx="736.2" cy="503.8" r="6.3" fill="#d62728" fill-opacity="0.7" stroke="#777777" stroke-opacity="0.85" stroke-width="1.5"/>
<circle cx="743.5" cy="503.8" r="6.3" fill="#d62728" fill-opacity="0.7" stroke="#777777" stroke-opacity="0.85" stroke-width="1.5"/>
<circle cx="705.5" cy="509.3" r="6.3" fill="#d62728" fill-opacity="0.7" stroke="#777777" stroke-opacity="0.85" stroke-width="1.5"/>
<circle cx="774.3" cy="514.4" r="6.3" fill="#d62728" fill-opacity="0.7" stroke="#777777" stroke-opacity="0.85" stroke-width="1.5"/>
<circle cx="829.7" cy="504.25" r="6.3" fill="#d62728" fill-opacity="0.7" stroke="#777777" stroke-opacity="0.85" stroke-width="1.5"/>
<circle cx="834.5" cy="425.1" r="6.3" fill="#d62728" fill-opacity="0.7" stroke="#777777" stroke-opacity="0.85" stroke-width="1.5"/>
<circle cx="836.3" cy="432.5" r="6.3" fill="#d62728" fill-opacity="0.7" stroke="#777777" stroke-opacity="0.85" stroke-width="1.5"/>
<circle cx="850" cy="421.5" r="6.3" fill="#d62728" fill-opacity="0.7" stroke="#777777" stroke-opacity="0.85" stroke-width="1.5"/>
<circle cx="863.8" cy="422.4" r="6.3" fill="#d62728" fill-opacity="0.7" stroke="#777777" stroke-opacity="0.85" stroke-width="1.5"/>
<circle cx="877" cy="425.1" r="6.3" fill="#d62728" fill-opacity="0.7" stroke="#777777" stroke-opacity="0.85" stroke-width="1.5"/>
<circle cx="878" cy="434.3" r="6.3" fill="#d62728" fill-opacity="0.7" stroke="#777777" stroke-opacity="0.85" stroke-width="1.5"/>
<circle cx="879.3" cy="416" r="6.3" fill="#d62728" fill-opacity="0.7" stroke="#777777" stroke-opacity="0.85" stroke-width="1.5"/>
<circle cx="856.1" cy="440.7" r="6.3" fill="#d62728" fill-opacity="0.7" stroke="#777777" stroke-opacity="0.85" stroke-width="1.5"/>
<circle cx="914.7" cy="411.4" r="6.3" fill="#d62728" fill-opacity="0.7" stroke="#777777" stroke-opacity="0.85" stroke-width="1.5"/>
<circle cx="929.3" cy="417.8" r="6.3" fill="#d62728" fill-opacity="0.7" stroke="#777777" stroke-opacity="0.85" stroke-width="1.5"/>
<circle cx="937" cy="425.1" r="6.3" fill="#d62728" fill-opacity="0.7" stroke="#777777" stroke-opacity="0.85" stroke-width="1.5"/>
<circle cx="947.6" cy="413.8" r="6.3" fill="#d62728" fill-opacity="0.7" stroke="#777777" stroke-opacity="0.85" stroke-width="1.5"/>
<circle cx="958.9" cy="417.8" r="6.3" fill="#d62728" fill-opacity="0.7" stroke="#777777" stroke-opacity="0.85" stroke-width="1.5"/>
<circle cx="957.1" cy="422.4" r="6.3" fill="#d62728" fill-opacity="0.7" stroke="#777777" stroke-opacity="0.85" stroke-width="1.5"/>
<circle cx="972.1" cy="422.8" r="6.3" fill="#d62728" fill-opacity="0.7" stroke="#777777" stroke-opacity="0.85" stroke-width="1.5"/>
<circle cx="960.2" cy="441.6" r="6.3" fill="#d62728" fill-opacity="0.7" stroke="#777777" stroke-opacity="0.85" stroke-width="1.5"/>
<circle cx="982.4" cy="444.3" r="6.3" fill="#d62728" fill-opacity="0.7" stroke="#777777" stroke-opacity="0.85" stroke-width="1.5"/>
<circle cx="982.4" cy="454.4" r="6.3" fill="#d62728" fill-opacity="0.7" stroke="#777777" stroke-opacity="0.85" stroke-width="1.5"/>
<circle cx="964.4" cy="463" r="6.3" fill="#d62728" fill-opacity="0.7" stroke="#777777" stroke-opacity="0.85" stroke-width="1.5"/>
<circle cx="938.4" cy="465.4" r="6.3" fill="#d62728" fill-opacity="0.7" stroke="#777777" stroke-opacity="0.85" stroke-width="1.5"/>
<circle cx="948.3" cy="465.4" r="6.3" fill="#d62728" fill-opacity="0.7" stroke="#777777" stroke-opacity="0.85" stroke-width="1.5"/>
<circle cx="957.1" cy="482.8" r="6.3" fill="#d62728" fill-opacity="0.7" stroke="#777777" stroke-opacity="0.85" stroke-width="1.5"/>
<circle cx="984.2" cy="484.1" r="6.3" fill="#d62728" fill-opacity="0.7" stroke="#777777" stroke-opacity="0.85" stroke-width="1.5"/>
<circle cx="969" cy="498.7" r="6.3" fill="#d62728" fill-opacity="0.7" stroke="#777777" stroke-opacity="0.85" stroke-width="1.5"/>
<circle cx="893.1" cy="443.4" r="6.3" fill="#d62728" fill-opacity="0.7" stroke="#777777" stroke-opacity="0.85" stroke-width="1.5"/>
<circle cx="898.5" cy="444.3" r="6.3" fill="#d62728" fill-opacity="0.7" stroke="#777777" stroke-opacity="0.85" stroke-width="1.5"/>
<circle cx="909.5" cy="443.4" r="6.3" fill="#d62728" fill-opacity="0.7" stroke="#777777" stroke-opacity="0.85" stroke-width="1.5"/>
<circle cx="922" cy="446.2" r="6.3" fill="#d62728" fill-opacity="0.7" stroke="#777777" stroke-opacity="0.85" stroke-width="1.5"/>
<circle cx="885.7" cy="455.3" r="6.3" fill="#d62728" fill-opacity="0.7" stroke="#777777" stroke-opacity="0.85" stroke-width="1.5"/>
<circle cx="896.7" cy="462.1" r="6.3" fill="#d62728" fill-opacity="0.7" stroke="#777777" stroke-opacity="0.85" stroke-width="1.5"/>
<circle cx="913.2" cy="457.2" r="6.3" fill="#d62728" fill-opacity="0.7" stroke="#777777" stroke-opacity="0.85" stroke-width="1.5"/>
<circle cx="921.4" cy="459.9" r="6.3" fill="#d62728" fill-opacity="0.7" stroke="#777777" stroke-opacity="0.85" stroke-width="1.5"/>
<circle cx="915.9" cy="467.2" r="6.3" fill="#d62728" fill-opacity="0.7" stroke="#777777" stroke-opacity="0.85" stroke-width="1.5"/>
<circle cx="882.1" cy="475.5" r="6.3" fill="#d62728" fill-opacity="0.7" stroke="#777777" stroke-opacity="0.85" stroke-width="1.5"/>
<circle cx="891.2" cy="477.3" r="6.3" fill="#d62728" fill-opacity="0.7" stroke="#777777" stroke-opacity="0.85" stroke-width="1.5"/>
<circle cx="904" cy="482.8" r="6.3" fill="#d62728" fill-opacity="0.7" stroke="#777777" stroke-opacity="0.85" stroke-width="1.5"/>
<circle cx="915.9" cy="485.5" r="6.3" fill="#d62728" fill-opacity="0.7" stroke="#777777" stroke-opacity="0.85" stroke-width="1.5"/>
<circle cx="857.4" cy="486.4" r="6.3" fill="#d62728" fill-opacity="0.7" stroke="#777777" stroke-opacity="0.85" stroke-width="1.5"/>
<circle cx="851.9" cy="489.2" r="6.3" fill="#d62728" fill-opacity="0.7" stroke="#777777" stroke-opacity="0.85" stroke-width="1.5"/>
<circle cx="877.5" cy="489.2" r="6.3" fill="#d62728" fill-opacity="0.7" stroke="#777777" stroke-opacity="0.85" stroke-width="1.5"/>
<circle cx="899.5" cy="491" r="6.3" fill="#d62728" fill-opacity="0.7" stroke="#777777" stroke-opacity="0.85" stroke-width="1.5"/>
<circle cx="842.7" cy="500.2" r="6.3" fill="#d62728" fill-opacity="0.7" stroke="#777777" stroke-opacity="0.85" stroke-width="1.5"/>
<circle cx="889.4" cy="507.5" r="6.3" fill="#d62728" fill-opacity="0.7" stroke="#777777" stroke-opacity="0.85" stroke-width="1.5"/>
<circle cx="909.5" cy="503.8" r="6.3" fill="#d62728" fill-opacity="0.7" stroke="#777777" stroke-opacity="0.85" stroke-width="1.5"/>
<circle cx="916.8" cy="504.7" r="6.3" fill="#d62728" fill-opacity="0.7" stroke="#777777" stroke-opacity="0.85" stroke-width="1.5"/>
<circle cx="905.9" cy="509.3" r="6.3" fill="#d62728" fill-opacity="0.7" stroke="#777777" stroke-opacity="0.85" stroke-width="1.5"/>
<circle cx="950.2" cy="514.4" r="6.3" fill="#d62728" fill-opacity="0.7" stroke="#777777" stroke-opacity="0.85" stroke-width="1.5"/>
<circle cx="955.3" cy="521.2" r="6.3" fill="#d62728" fill-opacity="0.7" stroke="#777777" stroke-opacity="0.85" stroke-width="1.5"/>
<circle cx="957.1" cy="529.5" r="6.3" fill="#d62728" fill-opacity="0.7" stroke="#777777" stroke-opacity="0.85" stroke-width="1.5"/>
<circle cx="897.6" cy="527.6" r="6.3" fill="#d62728" fill-opacity="0.7" stroke="#777777" stroke-opacity="0.85" stroke-width="1.5"/>
<circle cx="921.4" cy="526.7" r="6.3" fill="#d62728" fill-opacity="0.7" stroke="#777777" stroke-opacity="0.85" stroke-width="1.5"/>
<circle cx="932.4" cy="530.4" r="6.3" fill="#d62728" fill-opacity="0.7" stroke="#777777" stroke-opacity="0.85" stroke-width="1.5"/>
<circle cx="868.3" cy="525.8" r="6.3" fill="#d62728" fill-opacity="0.7" stroke="#777777" stroke-opacity="0.85" stroke-width="1.5"/>
<circle cx="860.1" cy="530.4" r="6.3" fill="#d62728" fill-opacity="0.7" stroke="#777777" stroke-opacity="0.85" stroke-width="1.5"/>
<circle cx="876.6" cy="532.2" r="6.3" fill="#d62728" fill-opacity="0.7" stroke="#777777" stroke-opacity="0.85" stroke-width="1.5"/>
<circle cx="837.2" cy="537.9" r="6.3" fill="#d62728" fill-opacity="0.7" stroke="#777777" stroke-opacity="0.85" stroke-width="1.5"/>
<circle cx="849.1" cy="533.1" r="6.3" fill="#d62728" fill-opacity="0.7" stroke="#777777" stroke-opacity="0.85" stroke-width="1.5"/>
<circle cx="995.25" cy="499.3" r="6.3" fill="#d62728" fill-opacity="0.7" stroke="#777777" stroke-opacity="0.85" stroke-width="1.5"/>
<circle cx="1015.5" cy="410.5" r="6.3" fill="#d62728" fill-opacity="0.7" stroke="#777777" stroke-opacity="0.85" stroke-width="1.5"/>
<circle cx="1023" cy="440.1" r="6.3" fill="#d62728" fill-opacity="0.7" stroke="#777777" stroke-opacity="0.85" stroke-width="1.5"/>
<circle cx="1023" cy="485.5" r="6.3" fill="#d62728" fill-opacity="0.7" stroke="#777777" stroke-opacity="0.85" stroke-width="1.5"/>
<circle cx="1022.5" cy="502.4" r="6.3" fill="#d62728" fill-opacity="0.7" stroke="#777777" stroke-opacity="0.85" stroke-width="1.5"/>
<circle cx="685.5" cy="544.1" r="6.3" fill="#d62728" fill-opacity="0.7" stroke="#777777" stroke-opacity="0.85" stroke-width="1.5"/>
<circle cx="754.1" cy="550.3" r="6.3" fill="#d62728" fill-opacity="0.7" stroke="#777777" stroke-opacity="0.85" stroke-width="1.5"/>
<circle cx="785.3" cy="570.1" r="6.3" fill="#d62728" fill-opacity="0.7" stroke="#777777" stroke-opacity="0.85" stroke-width="1.5"/>
<circle cx="827.9" cy="560.8" r="6.3" fill="#d62728" fill-opacity="0.7" stroke="#777777" stroke-opacity="0.85" stroke-width="1.5"/>
<circle cx="844.6" cy="566.1" r="6.3" fill="#d62728" fill-opacity="0.7" stroke="#777777" stroke-opacity="0.85" stroke-width="1.5"/>
<circle cx="860.1" cy="556.8" r="6.3" fill="#d62728" fill-opacity="0.7" stroke="#777777" stroke-opacity="0.85" stroke-width="1.5"/>
<circle cx="881.7" cy="553.1" r="6.3" fill="#d62728" fill-opacity="0.7" stroke="#777777" stroke-opacity="0.85" stroke-width="1.5"/>
<circle cx="899.5" cy="543" r="6.3" fill="#d62728" fill-opacity="0.7" stroke="#777777" stroke-opacity="0.85" stroke-width="1.5"/>
<circle cx="898.5" cy="560.6" r="6.3" fill="#d62728" fill-opacity="0.7" stroke="#777777" stroke-opacity="0.85" stroke-width="1.5"/>
<circle cx="884.8" cy="568.6" r="6.3" fill="#d62728" fill-opacity="0.7" stroke="#777777" stroke-opacity="0.85" stroke-width="1.5"/>
<circle cx="876.2" cy="577.1" r="6.3" fill="#d62728" fill-opacity="0.7" stroke="#777777" stroke-opacity="0.85" stroke-width="1.5"/>
<circle cx="905" cy="567.7" r="6.3" fill="#d62728" fill-opacity="0.7" stroke="#777777" stroke-opacity="0.85" stroke-width="1.5"/>
<circle cx="911.4" cy="571.9" r="6.3" fill="#d62728" fill-opacity="0.7" stroke="#777777" stroke-opacity="0.85" stroke-width="1.5"/>
<circle cx="917.8" cy="575.6" r="6.3" fill="#d62728" fill-opacity="0.7" stroke="#777777" stroke-opacity="0.85" stroke-width="1.5"/>
<circle cx="925.1" cy="549.1" r="6.3" fill="#d62728" fill-opacity="0.7" stroke="#777777" stroke-opacity="0.85" stroke-width="1.5"/>
<circle cx="923.3" cy="557.3" r="6.3" fill="#d62728" fill-opacity="0.7" stroke="#777777" stroke-opacity="0.85" stroke-width="1.5"/>
<circle cx="929.3" cy="580.2" r="6.3" fill="#d62728" fill-opacity="0.7" stroke="#777777" stroke-opacity="0.85" stroke-width="1.5"/>
<circle cx="931.5" cy="593.4" r="6.3" fill="#d62728" fill-opacity="0.7" stroke="#777777" stroke-opacity="0.85" stroke-width="1.5"/>
<circle cx="936.1" cy="541.7" r="6.3" fill="#d62728" fill-opacity="0.7" stroke="#777777" stroke-opacity="0.85" stroke-width="1.5"/>
<circle cx="939.7" cy="552.7" r="6.3" fill="#d62728" fill-opacity="0.7" stroke="#777777" stroke-opacity="0.85" stroke-width="1.5"/>
<circle cx="940.3" cy="562.4" r="6.3" fill="#d62728" fill-opacity="0.7" stroke="#777777" stroke-opacity="0.85" stroke-width="1.5"/>
<circle cx="948" cy="557.3" r="6.3" fill="#d62728" fill-opacity="0.7" stroke="#777777" stroke-opacity="0.85" stroke-width="1.5"/>
<circle cx="954.9" cy="565" r="6.3" fill="#d62728" fill-opacity="0.7" stroke="#777777" stroke-opacity="0.85" stroke-width="1.5"/>
<circle cx="951.6" cy="542.7" r="6.3" fill="#d62728" fill-opacity="0.7" stroke="#777777" stroke-opacity="0.85" stroke-width="1.5"/>
<circle cx="960.8" cy="543.6" r="6.3" fill="#d62728" fill-opacity="0.7" stroke="#777777" stroke-opacity="0.85" stroke-width="1.5"/>
<circle cx="969.9" cy="553.6" r="6.3" fill="#d62728" fill-opacity="0.7" stroke="#777777" stroke-opacity="0.85" stroke-width="1.5"/>
<circle cx="973.6" cy="560" r="6.3" fill="#d62728" fill-opacity="0.7" stroke="#777777" stroke-opacity="0.85" stroke-width="1.5"/>
<circle cx="970.8" cy="569.2" r="6.3" fill="#d62728" fill-opacity="0.7" stroke="#777777" stroke-opacity="0.85" stroke-width="1.5"/>
<circle cx="977.2" cy="571.9" r="6.3" fill="#d62728" fill-opacity="0.7" stroke="#777777" stroke-opacity="0.85" stroke-width="1.5"/>
<circle cx="968.1" cy="579.3" r="6.3" fill="#d62728" fill-opacity="0.7" stroke="#777777" stroke-opacity="0.85" stroke-width="1.5"/>
<circle cx="865.1" cy="599.4" r="6.3" fill="#d62728" fill-opacity="0.7" stroke="#777777" stroke-opacity="0.85" stroke-width="1.5"/>
<circle cx="878.8" cy="598.5" r="6.3" fill="#d62728" fill-opacity="0.7" stroke="#777777" stroke-opacity="0.85" stroke-width="1.5"/>
<circle cx="883.5" cy="606.3" r="6.3" fill="#d62728" fill-opacity="0.7" stroke="#777777" stroke-opacity="0.85" stroke-width="1.5"/>
<circle cx="894" cy="604.5" r="6.3" fill="#d62728" fill-opacity="0.7" stroke="#777777" stroke-opacity="0.85" stroke-width="1.5"/>
<circle cx="894" cy="604.5" r="6.3" fill="#d62728" fill-opacity="0.7" stroke="#777777" stroke-opacity="0.85" stroke-width="1.5"/>
<circle cx="925.1" cy="613.7" r="6.3" fill="#d62728" fill-opacity="0.7" stroke="#777777" stroke-opacity="0.85" stroke-width="1.5"/>
<circle cx="934.2" cy="619.5" r="6.3" fill="#d62728" fill-opacity="0.7" stroke="#777777" stroke-opacity="0.85" stroke-width="1.5"/>
<circle cx="934.2" cy="625" r="6.3" fill="#d62728" fill-opacity="0.7" stroke="#777777" stroke-opacity="0.85" stroke-width="1.5"/>
<circle cx="946.1" cy="619.5" r="6.3" fill="#d62728" fill-opacity="0.7" stroke="#777777" stroke-opacity="0.85" stroke-width="1.5"/>
<circle cx="950.7" cy="620.4" r="6.3" fill="#d62728" fill-opacity="0.7" stroke="#777777" stroke-opacity="0.85" stroke-width="1.5"/>
<circle cx="975.4" cy="618.2" r="6.3" fill="#d62728" fill-opacity="0.7" stroke="#777777" stroke-opacity="0.85" stroke-width="1.5"/>
<circle cx="979.1" cy="618.2" r="6.3" fill="#d62728" fill-opacity="0.7" stroke="#777777" stroke-opacity="0.85" stroke-width="1.5"/>
<circle cx="985.5" cy="598.5" r="6.3" fill="#d62728" fill-opacity="0.7" stroke="#777777" stroke-opacity="0.85" stroke-width="1.5"/>
<circle cx="994.3499999999999" cy="582.9" r="6.3" fill="#d62728" fill-opacity="0.7" stroke="#777777" stroke-opacity="0.85" stroke-width="1.5"/>
<circle cx="994.6" cy="622.3" r="6.3" fill="#d62728" fill-opacity="0.7" stroke="#777777" stroke-opacity="0.85" stroke-width="1.5"/>
<circle cx="986.4" cy="541.7" r="6.3" fill="#d62728" fill-opacity="0.7" stroke="#777777" stroke-opacity="0.85" stroke-width="1.5"/>
<circle cx="1003.2" cy="562.8" r="6.3" fill="#d62728" fill-opacity="0.7" stroke="#777777" stroke-opacity="0.85" stroke-width="1.5"/>
<circle cx="1003.2" cy="566.5" r="6.3" fill="#d62728" fill-opacity="0.7" stroke="#777777" stroke-opacity="0.85" stroke-width="1.5"/>
<circle cx="1011.5" cy="562.4" r="6.3" fill="#d62728" fill-opacity="0.7" stroke="#777777" stroke-opacity="0.85" stroke-width="1.5"/>
<circle cx="1017.9" cy="562.8" r="6.3" fill="#d62728" fill-opacity="0.7" stroke="#777777" stroke-opacity="0.85" stroke-width="1.5"/>
<circle cx="1010.6" cy="576.5" r="6.3" fill="#d62728" fill-opacity="0.7" stroke="#777777" stroke-opacity="0.85" stroke-width="1.5"/>
<circle cx="1003.2" cy="586.6" r="6.3" fill="#d62728" fill-opacity="0.7" stroke="#777777" stroke-opacity="0.85" stroke-width="1.5"/>
<circle cx="1030.7" cy="577.4" r="6.3" fill="#d62728" fill-opacity="0.7" stroke="#777777" stroke-opacity="0.85" stroke-width="1.5"/>
<circle cx="1036.2" cy="580.2" r="6.3" fill="#d62728" fill-opacity="0.7" stroke="#777777" stroke-opacity="0.85" stroke-width="1.5"/>
<circle cx="1041.7" cy="577.8" r="6.3" fill="#d62728" fill-opacity="0.7" stroke="#777777" stroke-opacity="0.85" stroke-width="1.5"/>
<circle cx="1057.2" cy="569.7" r="6.3" fill="#d62728" fill-opacity="0.7" stroke="#777777" stroke-opacity="0.85" stroke-width="1.5"/>
<circle cx="1078.3" cy="569.2" r="6.3" fill="#d62728" fill-opacity="0.7" stroke="#777777" stroke-opacity="0.85" stroke-width="1.5"/>
<circle cx="1085.6" cy="569.2" r="6.3" fill="#d62728" fill-opacity="0.7" stroke="#777777" stroke-opacity="0.85" stroke-width="1.5"/>
<circle cx="1081.4" cy="588.4" r="6.3" fill="#d62728" fill-opacity="0.7" stroke="#777777" stroke-opacity="0.85" stroke-width="1.5"/>
<circle cx="1039.8" cy="596.6" r="6.3" fill="#d62728" fill-opacity="0.7" stroke="#777777" stroke-opacity="0.85" stroke-width="1.5"/>
<circle cx="1049.9" cy="601.2" r="6.3" fill="#d62728" fill-opacity="0.7" stroke="#777777" stroke-opacity="0.85" stroke-width="1.5"/>
<circle cx="1060.9" cy="603.4" r="6.3" fill="#d62728" fill-opacity="0.7" stroke="#777777" stroke-opacity="0.85" stroke-width="1.5"/>
<circle cx="1003.2" cy="605.8" r="6.3" fill="#d62728" fill-opacity="0.7" stroke="#777777" stroke-opacity="0.85" stroke-width="1.5"/>
<circle cx="1006.9" cy="607.6" r="6.3" fill="#d62728" fill-opacity="0.7" stroke="#777777" stroke-opacity="0.85" stroke-width="1.5"/>
<circle cx="1013.3" cy="603.1" r="6.3" fill="#d62728" fill-opacity="0.7" stroke="#777777" stroke-opacity="0.85" stroke-width="1.5"/>
<circle cx="1024.3" cy="604" r="6.3" fill="#d62728" fill-opacity="0.7" stroke="#777777" stroke-opacity="0.85" stroke-width="1.5"/>
<circle cx="1020.1" cy="610.4" r="6.3" fill="#d62728" fill-opacity="0.7" stroke="#777777" stroke-opacity="0.85" stroke-width="1.5"/>
<circle cx="1033.4" cy="615" r="6.3" fill="#d62728" fill-opacity="0.7" stroke="#777777" stroke-opacity="0.85" stroke-width="1.5"/>
<circle cx="1000.5" cy="622.3" r="6.3" fill="#d62728" fill-opacity="0.7" stroke="#777777" stroke-opacity="0.85" stroke-width="1.5"/>
<circle cx="1008.7" cy="630.5" r="6.3" fill="#d62728" fill-opacity="0.7" stroke="#777777" stroke-opacity="0.85" stroke-width="1.5"/>
<circle cx="1022.1" cy="625.9" r="6.3" fill="#d62728" fill-opacity="0.7" stroke="#777777" stroke-opacity="0.85" stroke-width="1.5"/>
<circle cx="1034.3" cy="627.8" r="6.3" fill="#d62728" fill-opacity="0.7" stroke="#777777" stroke-opacity="0.85" stroke-width="1.5"/>
<circle cx="1032.5" cy="639.7" r="6.3" fill="#d62728" fill-opacity="0.7" stroke="#777777" stroke-opacity="0.85" stroke-width="1.5"/>
<circle cx="1071.5" cy="615" r="6.3" fill="#d62728" fill-opacity="0.7" stroke="#777777" stroke-opacity="0.85" stroke-width="1.5"/>
<circle cx="1084.7" cy="613.1" r="6.3" fill="#d62728" fill-opacity="0.7" stroke="#777777" stroke-opacity="0.85" stroke-width="1.5"/>
<circle cx="1086.5" cy="617.3" r="6.3" fill="#d62728" fill-opacity="0.7" stroke="#777777" stroke-opacity="0.85" stroke-width="1.5"/>
<circle cx="1098.4" cy="611.7" r="6.3" fill="#d62728" fill-opacity="0.7" stroke="#777777" stroke-opacity="0.85" stroke-width="1.5"/>
<circle cx="1138.1" cy="634.2" r="6.3" fill="#d62728" fill-opacity="0.7" stroke="#777777" stroke-opacity="0.85" stroke-width="1.5"/>
<circle cx="995.9" cy="541.7" r="6.3" fill="#d62728" fill-opacity="0.7" stroke="#777777" stroke-opacity="0.85" stroke-width="1.5"/>
<circle cx="818.6" cy="109.1" r="3.1" fill="#000" stroke="#7b8181" stroke-width="2.1"/>
<circle cx="818.6" cy="118.7" r="3.1" fill="#000" stroke="#7b8181" stroke-width="2.1"/>
<circle cx="916.8" cy="80.2" r="3.1" fill="#000" stroke="#7b8181" stroke-width="2.1"/>
<circle cx="916.8" cy="112.8" r="3.1" fill="#000" stroke="#7b8181" stroke-width="2.1"/>
<circle cx="798.1" cy="238.6" r="3.1" fill="#000" stroke="#7b8181" stroke-width="2.1"/>
<circle cx="778.7" cy="251.8" r="3.1" fill="#000" stroke="#7b8181" stroke-width="2.1"/>
<circle cx="814.9" cy="268.4" r="3.1" fill="#000" stroke="#7b8181" stroke-width="2.1"/>
<circle cx="821.3499999999999" cy="271.70000000000005" r="3.1" fill="#000" stroke="#7b8181" stroke-width="2.1"/>
<circle cx="873.3" cy="158.6" r="3.1" fill="#000" stroke="#7b8181" stroke-width="2.1"/>
<circle cx="846.8" cy="198.9" r="3.1" fill="#000" stroke="#7b8181" stroke-width="2.1"/>
<circle cx="941.6" cy="209.8" r="3.1" fill="#000" stroke="#7b8181" stroke-width="2.1"/>
<circle cx="915.7" cy="232.2" r="3.1" fill="#000" stroke="#7b8181" stroke-width="2.1"/>
<circle cx="832.3" cy="230.3" r="3.1" fill="#000" stroke="#7b8181" stroke-width="2.1"/>
<circle cx="868.3" cy="255" r="3.1" fill="#000" stroke="#7b8181" stroke-width="2.1"/>
<circle cx="887.2" cy="255" r="3.1" fill="#000" stroke="#7b8181" stroke-width="2.1"/>
<circle cx="887.2" cy="266.9" r="3.1" fill="#000" stroke="#7b8181" stroke-width="2.1"/>
<circle cx="920.1" cy="264.2" r="3.1" fill="#000" stroke="#7b8181" stroke-width="2.1"/>
<circle cx="840.9" cy="266.6" r="3.1" fill="#000" stroke="#7b8181" stroke-width="2.1"/>
<circle cx="750.3" cy="310.7" r="3.1" fill="#000" stroke="#7b8181" stroke-width="2.1"/>
<circle cx="729.8" cy="346" r="3.1" fill="#000" stroke="#7b8181" stroke-width="2.1"/>
<circle cx="772.3" cy="340" r="3.1" fill="#000" stroke="#7b8181" stroke-width="2.1"/>
<circle cx="795.1" cy="341.5" r="3.1" fill="#000" stroke="#7b8181" stroke-width="2.1"/>
<circle cx="803" cy="364.7" r="3.1" fill="#000" stroke="#7b8181" stroke-width="2.1"/>
<circle cx="820" cy="361.6" r="3.1" fill="#000" stroke="#7b8181" stroke-width="2.1"/>
<circle cx="787.1" cy="368.5" r="3.1" fill="#000" stroke="#7b8181" stroke-width="2.1"/>
<circle cx="814" cy="385.4" r="3.1" fill="#000" stroke="#7b8181" stroke-width="2.1"/>
<circle cx="819.5" cy="389" r="3.1" fill="#000" stroke="#7b8181" stroke-width="2.1"/>
<circle cx="771.9" cy="392.2" r="3.1" fill="#000" stroke="#7b8181" stroke-width="2.1"/>
<circle cx="770.1" cy="398.7" r="3.1" fill="#000" stroke="#7b8181" stroke-width="2.1"/>
<circle cx="784.3" cy="398.2" r="3.1" fill="#000" stroke="#7b8181" stroke-width="2.1"/>
<circle cx="799.9" cy="397.3" r="3.1" fill="#000" stroke="#7b8181" stroke-width="2.1"/>
<circle cx="805.4" cy="398.6" r="3.1" fill="#000" stroke="#7b8181" stroke-width="2.1"/>
<circle cx="798.4" cy="400.9" r="3.1" fill="#000" stroke="#7b8181" stroke-width="2.1"/>
<circle cx="817.3" cy="300.6" r="3.1" fill="#000" stroke="#7b8181" stroke-width="2.1"/>
<circle cx="822.2" cy="308.5" r="3.1" fill="#000" stroke="#7b8181" stroke-width="2.1"/>
<circle cx="857.4" cy="279.2" r="3.1" fill="#000" stroke="#7b8181" stroke-width="2.1"/>
<circle cx="876.2" cy="302.5" r="3.1" fill="#000" stroke="#7b8181" stroke-width="2.1"/>
<circle cx="882.6" cy="299.7" r="3.1" fill="#000" stroke="#7b8181" stroke-width="2.1"/>
<circle cx="911.4" cy="305.2" r="3.1" fill="#000" stroke="#7b8181" stroke-width="2.1"/>
<circle cx="829.9" cy="307.2" r="3.1" fill="#000" stroke="#7b8181" stroke-width="2.1"/>
<circle cx="865.2" cy="330.5" r="3.1" fill="#000" stroke="#7b8181" stroke-width="2.1"/>
<circle cx="865.6" cy="336.9" r="3.1" fill="#000" stroke="#7b8181" stroke-width="2.1"/>
<circle cx="841.4" cy="345.1" r="3.1" fill="#000" stroke="#7b8181" stroke-width="2.1"/>
<circle cx="858.3" cy="348.8" r="3.1" fill="#000" stroke="#7b8181" stroke-width="2.1"/>
<circle cx="891.6" cy="359.8" r="3.1" fill="#000" stroke="#7b8181" stroke-width="2.1"/>
<circle cx="862" cy="369.8" r="3.1" fill="#000" stroke="#7b8181" stroke-width="2.1"/>
<circle cx="929.3" cy="359.2" r="3.1" fill="#000" stroke="#7b8181" stroke-width="2.1"/>
<circle cx="958" cy="361.6" r="3.1" fill="#000" stroke="#7b8181" stroke-width="2.1"/>
<circle cx="966.6" cy="362" r="3.1" fill="#000" stroke="#7b8181" stroke-width="2.1"/>
<circle cx="918.1" cy="381.2" r="3.1" fill="#000" stroke="#7b8181" stroke-width="2.1"/>
<circle cx="848.6" cy="384.8" r="3.1" fill="#000" stroke="#7b8181" stroke-width="2.1"/>
<circle cx="846.9" cy="389" r="3.1" fill="#000" stroke="#7b8181" stroke-width="2.1"/>
<circle cx="897.1" cy="391.2" r="3.1" fill="#000" stroke="#7b8181" stroke-width="2.1"/>
<circle cx="870.7" cy="397.3" r="3.1" fill="#000" stroke="#7b8181" stroke-width="2.1"/>
<circle cx="895.3" cy="398.7" r="3.1" fill="#000" stroke="#7b8181" stroke-width="2.1"/>
<circle cx="935.5" cy="396.6" r="3.1" fill="#000" stroke="#7b8181" stroke-width="2.1"/>
<circle cx="857.4" cy="401.5" r="3.1" fill="#000" stroke="#7b8181" stroke-width="2.1"/>
<circle cx="762.7" cy="419.1" r="3.1" fill="#000" stroke="#7b8181" stroke-width="2.1"/>
<circle cx="788.4" cy="421.5" r="3.1" fill="#000" stroke="#7b8181" stroke-width="2.1"/>
<circle cx="762.7" cy="438.3" r="3.1" fill="#000" stroke="#7b8181" stroke-width="2.1"/>
<circle cx="815.5" cy="422.8" r="3.1" fill="#000" stroke="#7b8181" stroke-width="2.1"/>
<circle cx="828.55" cy="428.8" r="3.1" fill="#000" stroke="#7b8181" stroke-width="2.1"/>
<circle cx="814.5" cy="435.2" r="3.1" fill="#000" stroke="#7b8181" stroke-width="2.1"/>
<circle cx="811.6" cy="448" r="3.1" fill="#000" stroke="#7b8181" stroke-width="2.1"/>
<circle cx="804.3" cy="452.6" r="3.1" fill="#000" stroke="#7b8181" stroke-width="2.1"/>
<circle cx="757.3" cy="470" r="3.1" fill="#000" stroke="#7b8181" stroke-width="2.1"/>
<circle cx="786" cy="473.1" r="3.1" fill="#000" stroke="#7b8181" stroke-width="2.1"/>
<circle cx="801.7" cy="472.3" r="3.1" fill="#000" stroke="#7b8181" stroke-width="2.1"/>
<circle cx="825" cy="473.6" r="3.1" fill="#000" stroke="#7b8181" stroke-width="2.1"/>
<circle cx="721.6" cy="498.3" r="3.1" fill="#000" stroke="#7b8181" stroke-width="2.1"/>
<circle cx="736.2" cy="506" r="3.1" fill="#000" stroke="#7b8181" stroke-width="2.1"/>
<circle cx="743.9" cy="503.8" r="3.1" fill="#000" stroke="#7b8181" stroke-width="2.1"/>
<circle cx="705.5" cy="509.3" r="3.1" fill="#000" stroke="#7b8181" stroke-width="2.1"/>
<circle cx="774.3" cy="518.5" r="3.1" fill="#000" stroke="#7b8181" stroke-width="2.1"/>
<circle cx="785.6" cy="521.2" r="3.1" fill="#000" stroke="#7b8181" stroke-width="2.1"/>
<circle cx="811.6" cy="520.3" r="3.1" fill="#000" stroke="#7b8181" stroke-width="2.1"/>
<circle cx="829.7" cy="505.7" r="3.1" fill="#000" stroke="#7b8181" stroke-width="2.1"/>
<circle cx="839.1" cy="411.4" r="3.1" fill="#000" stroke="#7b8181" stroke-width="2.1"/>
<circle cx="867.1" cy="409.6" r="3.1" fill="#000" stroke="#7b8181" stroke-width="2.1"/>
<circle cx="873.8" cy="411.4" r="3.1" fill="#000" stroke="#7b8181" stroke-width="2.1"/>
<circle cx="879.3" cy="412.7" r="3.1" fill="#000" stroke="#7b8181" stroke-width="2.1"/>
<circle cx="864.1" cy="421.5" r="3.1" fill="#000" stroke="#7b8181" stroke-width="2.1"/>
<circle cx="846.4" cy="428.8" r="3.1" fill="#000" stroke="#7b8181" stroke-width="2.1"/>
<circle cx="850.6" cy="428.8" r="3.1" fill="#000" stroke="#7b8181" stroke-width="2.1"/>
<circle cx="834.9" cy="445.3" r="3.1" fill="#000" stroke="#7b8181" stroke-width="2.1"/>
<circle cx="836.3" cy="455.9" r="3.1" fill="#000" stroke="#7b8181" stroke-width="2.1"/>
<circle cx="856.1" cy="453" r="3.1" fill="#000" stroke="#7b8181" stroke-width="2.1"/>
<circle cx="877" cy="450.2" r="3.1" fill="#000" stroke="#7b8181" stroke-width="2.1"/>
<circle cx="878" cy="459.5" r="3.1" fill="#000" stroke="#7b8181" stroke-width="2.1"/>
<circle cx="886.1" cy="455.9" r="3.1" fill="#000" stroke="#7b8181" stroke-width="2.1"/>
<circle cx="892.7" cy="454" r="3.1" fill="#000" stroke="#7b8181" stroke-width="2.1"/>
<circle cx="903.1" cy="450.4" r="3.1" fill="#000" stroke="#7b8181" stroke-width="2.1"/>
<circle cx="910.1" cy="445.6" r="3.1" fill="#000" stroke="#7b8181" stroke-width="2.1"/>
<circle cx="918.7" cy="454.8" r="3.1" fill="#000" stroke="#7b8181" stroke-width="2.1"/>
<circle cx="896.7" cy="468.1" r="3.1" fill="#000" stroke="#7b8181" stroke-width="2.1"/>
<circle cx="916.3" cy="470.3" r="3.1" fill="#000" stroke="#7b8181" stroke-width="2.1"/>
<circle cx="929.3" cy="420.6" r="3.1" fill="#000" stroke="#7b8181" stroke-width="2.1"/>
<circle cx="940.6" cy="430.3" r="3.1" fill="#000" stroke="#7b8181" stroke-width="2.1"/>
<circle cx="956.2" cy="423.3" r="3.1" fill="#000" stroke="#7b8181" stroke-width="2.1"/>
<circle cx="959.3" cy="433.4" r="3.1" fill="#000" stroke="#7b8181" stroke-width="2.1"/>
<circle cx="948" cy="443.8" r="3.1" fill="#000" stroke="#7b8181" stroke-width="2.1"/>
<circle cx="960.4" cy="447.1" r="3.1" fill="#000" stroke="#7b8181" stroke-width="2.1"/>
<circle cx="964.8" cy="464.8" r="3.1" fill="#000" stroke="#7b8181" stroke-width="2.1"/>
<circle cx="938.4" cy="470" r="3.1" fill="#000" stroke="#7b8181" stroke-width="2.1"/>
<circle cx="981.8" cy="465.8" r="3.1" fill="#000" stroke="#7b8181" stroke-width="2.1"/>
<circle cx="982.7" cy="477.7" r="3.1" fill="#000" stroke="#7b8181" stroke-width="2.1"/>
<circle cx="984.6" cy="484.2" r="3.1" fill="#000" stroke="#7b8181" stroke-width="2.1"/>
<circle cx="940.1" cy="483.1" r="3.1" fill="#000" stroke="#7b8181" stroke-width="2.1"/>
<circle cx="948.3" cy="488.6" r="3.1" fill="#000" stroke="#7b8181" stroke-width="2.1"/>
<circle cx="969" cy="505.7" r="3.1" fill="#000" stroke="#7b8181" stroke-width="2.1"/>
<circle cx="936.6" cy="506" r="3.1" fill="#000" stroke="#7b8181" stroke-width="2.1"/>
<circle cx="857.4" cy="477.7" r="3.1" fill="#000" stroke="#7b8181" stroke-width="2.1"/>
<circle cx="890.3" cy="479.1" r="3.1" fill="#000" stroke="#7b8181" stroke-width="2.1"/>
<circle cx="915.9" cy="480" r="3.1" fill="#000" stroke="#7b8181" stroke-width="2.1"/>
<circle cx="882.4" cy="491" r="3.1" fill="#000" stroke="#7b8181" stroke-width="2.1"/>
<circle cx="894.9" cy="492.8" r="3.1" fill="#000" stroke="#7b8181" stroke-width="2.1"/>
<circle cx="899.5" cy="494.7" r="3.1" fill="#000" stroke="#7b8181" stroke-width="2.1"/>
<circle cx="851.9" cy="493.8" r="3.1" fill="#000" stroke="#7b8181" stroke-width="2.1"/>
<circle cx="844" cy="503.8" r="3.1" fill="#000" stroke="#7b8181" stroke-width="2.1"/>
<circle cx="842.7" cy="510.2" r="3.1" fill="#000" stroke="#7b8181" stroke-width="2.1"/>
<circle cx="878.4" cy="505.3" r="3.1" fill="#000" stroke="#7b8181" stroke-width="2.1"/>
<circle cx="893.4" cy="501.1" r="3.1" fill="#000" stroke="#7b8181" stroke-width="2.1"/>
<circle cx="889.8" cy="509" r="3.1" fill="#000" stroke="#7b8181" stroke-width="2.1"/>
<circle cx="913.2" cy="498" r="3.1" fill="#000" stroke="#7b8181" stroke-width="2.1"/>
<circle cx="909.2" cy="504.4" r="3.1" fill="#000" stroke="#7b8181" stroke-width="2.1"/>
<circle cx="916.5" cy="505.7" r="3.1" fill="#000" stroke="#7b8181" stroke-width="2.1"/>
<circle cx="906.8" cy="510.2" r="3.1" fill="#000" stroke="#7b8181" stroke-width="2.1"/>
<circle cx="915" cy="512.1" r="3.1" fill="#000" stroke="#7b8181" stroke-width="2.1"/>
<circle cx="922.3" cy="515.7" r="3.1" fill="#000" stroke="#7b8181" stroke-width="2.1"/>
<circle cx="950.7" cy="519.8" r="3.1" fill="#000" stroke="#7b8181" stroke-width="2.1"/>
<circle cx="955.3" cy="528.5" r="3.1" fill="#000" stroke="#7b8181" stroke-width="2.1"/>
<circle cx="922.3" cy="523" r="3.1" fill="#000" stroke="#7b8181" stroke-width="2.1"/>
<circle cx="917.4" cy="525.8" r="3.1" fill="#000" stroke="#7b8181" stroke-width="2.1"/>
<circle cx="932.4" cy="531.8" r="3.1" fill="#000" stroke="#7b8181" stroke-width="2.1"/>
<circle cx="922.3" cy="537.7" r="3.1" fill="#000" stroke="#7b8181" stroke-width="2.1"/>
<circle cx="861" cy="534" r="3.1" fill="#000" stroke="#7b8181" stroke-width="2.1"/>
<circle cx="868.9" cy="534" r="3.1" fill="#000" stroke="#7b8181" stroke-width="2.1"/>
<circle cx="850.6" cy="536.8" r="3.1" fill="#000" stroke="#7b8181" stroke-width="2.1"/>
<circle cx="1015.5" cy="410.5" r="3.1" fill="#000" stroke="#7b8181" stroke-width="2.1"/>
<circle cx="1022.5" cy="475.1" r="3.1" fill="#000" stroke="#7b8181" stroke-width="2.1"/>
<circle cx="1022.8" cy="516.6" r="3.1" fill="#000" stroke="#7b8181" stroke-width="2.1"/>
<circle cx="997.7" cy="499.3" r="3.1" fill="#000" stroke="#7b8181" stroke-width="2.1"/>
<circle cx="685.5" cy="544.1" r="3.1" fill="#000" stroke="#7b8181" stroke-width="2.1"/>
<circle cx="754.1" cy="555.8" r="3.1" fill="#000" stroke="#7b8181" stroke-width="2.1"/>
<circle cx="784.7" cy="572.9" r="3.1" fill="#000" stroke="#7b8181" stroke-width="2.1"/>
<circle cx="822.6" cy="543" r="3.1" fill="#000" stroke="#7b8181" stroke-width="2.1"/>
<circle cx="825.9" cy="563.2" r="3.1" fill="#000" stroke="#7b8181" stroke-width="2.1"/>
<circle cx="837.2" cy="539.9" r="3.1" fill="#000" stroke="#7b8181" stroke-width="2.1"/>
<circle cx="899.1" cy="543.6" r="3.1" fill="#000" stroke="#7b8181" stroke-width="2.1"/>
<circle cx="898.2" cy="551.8" r="3.1" fill="#000" stroke="#7b8181" stroke-width="2.1"/>
<circle cx="860.1" cy="559.5" r="3.1" fill="#000" stroke="#7b8181" stroke-width="2.1"/>
<circle cx="881.7" cy="563.2" r="3.1" fill="#000" stroke="#7b8181" stroke-width="2.1"/>
<circle cx="885.4" cy="570.1" r="3.1" fill="#000" stroke="#7b8181" stroke-width="2.1"/>
<circle cx="876.2" cy="578.3" r="3.1" fill="#000" stroke="#7b8181" stroke-width="2.1"/>
<circle cx="898.5" cy="579.3" r="3.1" fill="#000" stroke="#7b8181" stroke-width="2.1"/>
<circle cx="844.7" cy="586.2" r="3.1" fill="#000" stroke="#7b8181" stroke-width="2.1"/>
<circle cx="905.5" cy="568.3" r="3.1" fill="#000" stroke="#7b8181" stroke-width="2.1"/>
<circle cx="911.4" cy="571.9" r="3.1" fill="#000" stroke="#7b8181" stroke-width="2.1"/>
<circle cx="917.8" cy="581.1" r="3.1" fill="#000" stroke="#7b8181" stroke-width="2.1"/>
<circle cx="923.3" cy="556.9" r="3.1" fill="#000" stroke="#7b8181" stroke-width="2.1"/>
<circle cx="925.1" cy="565.5" r="3.1" fill="#000" stroke="#7b8181" stroke-width="2.1"/>
<circle cx="930.2" cy="580.2" r="3.1" fill="#000" stroke="#7b8181" stroke-width="2.1"/>
<circle cx="936.4" cy="583.8" r="3.1" fill="#000" stroke="#7b8181" stroke-width="2.1"/>
<circle cx="940.3" cy="562.4" r="3.1" fill="#000" stroke="#7b8181" stroke-width="2.1"/>
<circle cx="944.7" cy="555.1" r="3.1" fill="#000" stroke="#7b8181" stroke-width="2.1"/>
<circle cx="949.8" cy="546.3" r="3.1" fill="#000" stroke="#7b8181" stroke-width="2.1"/>
<circle cx="950.2" cy="560" r="3.1" fill="#000" stroke="#7b8181" stroke-width="2.1"/>
<circle cx="954.9" cy="565" r="3.1" fill="#000" stroke="#7b8181" stroke-width="2.1"/>
<circle cx="957.1" cy="548.2" r="3.1" fill="#000" stroke="#7b8181" stroke-width="2.1"/>
<circle cx="964.4" cy="557.3" r="3.1" fill="#000" stroke="#7b8181" stroke-width="2.1"/>
<circle cx="967.5" cy="543.6" r="3.1" fill="#000" stroke="#7b8181" stroke-width="2.1"/>
<circle cx="969.4" cy="552.2" r="3.1" fill="#000" stroke="#7b8181" stroke-width="2.1"/>
<circle cx="973.6" cy="560" r="3.1" fill="#000" stroke="#7b8181" stroke-width="2.1"/>
<circle cx="970.8" cy="569.2" r="3.1" fill="#000" stroke="#7b8181" stroke-width="2.1"/>
<circle cx="977.2" cy="567.4" r="3.1" fill="#000" stroke="#7b8181" stroke-width="2.1"/>
<circle cx="978.2" cy="573.8" r="3.1" fill="#000" stroke="#7b8181" stroke-width="2.1"/>
<circle cx="958" cy="578.3" r="3.1" fill="#000" stroke="#7b8181" stroke-width="2.1"/>
<circle cx="969.9" cy="586.2" r="3.1" fill="#000" stroke="#7b8181" stroke-width="2.1"/>
<circle cx="977.2" cy="544.1" r="3.1" fill="#000" stroke="#7b8181" stroke-width="2.1"/>
<circle cx="988.2" cy="546" r="3.1" fill="#000" stroke="#7b8181" stroke-width="2.1"/>
<circle cx="991" cy="541.2" r="3.1" fill="#000" stroke="#7b8181" stroke-width="2.1"/>
<circle cx="865.1" cy="601.6" r="3.1" fill="#000" stroke="#7b8181" stroke-width="2.1"/>
<circle cx="878.8" cy="600.9" r="3.1" fill="#000" stroke="#7b8181" stroke-width="2.1"/>
<circle cx="883.5" cy="606.3" r="3.1" fill="#000" stroke="#7b8181" stroke-width="2.1"/>
<circle cx="925.1" cy="621" r="3.1" fill="#000" stroke="#7b8181" stroke-width="2.1"/>
<circle cx="934.6" cy="619.5" r="3.1" fill="#000" stroke="#7b8181" stroke-width="2.1"/>
<circle cx="946.5" cy="620.4" r="3.1" fill="#000" stroke="#7b8181" stroke-width="2.1"/>
<circle cx="951.3" cy="621" r="3.1" fill="#000" stroke="#7b8181" stroke-width="2.1"/>
<circle cx="975.4" cy="618.6" r="3.1" fill="#000" stroke="#7b8181" stroke-width="2.1"/>
<circle cx="980" cy="618.2" r="3.1" fill="#000" stroke="#7b8181" stroke-width="2.1"/>
<circle cx="986.8" cy="598.5" r="3.1" fill="#000" stroke="#7b8181" stroke-width="2.1"/>
<circle cx="991" cy="593" r="3.1" fill="#000" stroke="#7b8181" stroke-width="2.1"/>
<circle cx="994.65" cy="583.0999999999999" r="3.1" fill="#000" stroke="#7b8181" stroke-width="2.1"/>
<circle cx="1022.8" cy="544.5" r="3.1" fill="#000" stroke="#7b8181" stroke-width="2.1"/>
<circle cx="1003.2" cy="566.1" r="3.1" fill="#000" stroke="#7b8181" stroke-width="2.1"/>
<circle cx="1011.5" cy="564.3" r="3.1" fill="#000" stroke="#7b8181" stroke-width="2.1"/>
<circle cx="1017.9" cy="564.6" r="3.1" fill="#000" stroke="#7b8181" stroke-width="2.1"/>
<circle cx="1004.2" cy="573.8" r="3.1" fill="#000" stroke="#7b8181" stroke-width="2.1"/>
<circle cx="1010.6" cy="579.3" r="3.1" fill="#000" stroke="#7b8181" stroke-width="2.1"/>
<circle cx="1003.2" cy="586.2" r="3.1" fill="#000" stroke="#7b8181" stroke-width="2.1"/>
<circle cx="1031.6" cy="571" r="3.1" fill="#000" stroke="#7b8181" stroke-width="2.1"/>
<circle cx="1042" cy="578" r="3.1" fill="#000" stroke="#7b8181" stroke-width="2.1"/>
<circle cx="1057.2" cy="570.1" r="3.1" fill="#000" stroke="#7b8181" stroke-width="2.1"/>
<circle cx="1078.3" cy="569.7" r="3.1" fill="#000" stroke="#7b8181" stroke-width="2.1"/>
<circle cx="1085.2" cy="578.3" r="3.1" fill="#000" stroke="#7b8181" stroke-width="2.1"/>
<circle cx="1081.4" cy="588.4" r="3.1" fill="#000" stroke="#7b8181" stroke-width="2.1"/>
<circle cx="1040.2" cy="597" r="3.1" fill="#000" stroke="#7b8181" stroke-width="2.1"/>
<circle cx="1050.3" cy="601.2" r="3.1" fill="#000" stroke="#7b8181" stroke-width="2.1"/>
<circle cx="1061.3" cy="604" r="3.1" fill="#000" stroke="#7b8181" stroke-width="2.1"/>
<circle cx="1012.9" cy="604" r="3.1" fill="#000" stroke="#7b8181" stroke-width="2.1"/>
<circle cx="1020.1" cy="610.4" r="3.1" fill="#000" stroke="#7b8181" stroke-width="2.1"/>
<circle cx="1033.4" cy="615" r="3.1" fill="#000" stroke="#7b8181" stroke-width="2.1"/>
<circle cx="1000.5" cy="622.3" r="3.1" fill="#000" stroke="#7b8181" stroke-width="2.1"/>
<circle cx="1008.7" cy="630.1" r="3.1" fill="#000" stroke="#7b8181" stroke-width="2.1"/>
<circle cx="1022.1" cy="625.9" r="3.1" fill="#000" stroke="#7b8181" stroke-width="2.1"/>
<circle cx="1032" cy="639.7" r="3.1" fill="#000" stroke="#7b8181" stroke-width="2.1"/>
<circle cx="1071.5" cy="615" r="3.1" fill="#000" stroke="#7b8181" stroke-width="2.1"/>
<circle cx="1086.5" cy="617.3" r="3.1" fill="#000" stroke="#7b8181" stroke-width="2.1"/>
<circle cx="1084.3" cy="624.1" r="3.1" fill="#000" stroke="#7b8181" stroke-width="2.1"/>
<circle cx="1098.4" cy="611.7" r="3.1" fill="#000" stroke="#7b8181" stroke-width="2.1"/>
<circle cx="1138.1" cy="634.2" r="3.1" fill="#000" stroke="#7b8181" stroke-width="2.1"/>
</g>
<rect x="925" y="6" width="232.7" height="75.4" rx="5" ry="5" fill="#fff" fill-opacity="0.8" stroke="#cccccc" stroke-width="1.3"/>
<circle cx="956.2" cy="20.8" r="6.3" fill="#d62728" fill-opacity="0.7" stroke="#777777" stroke-opacity="0.85" stroke-width="1.5"/>
<circle cx="956.2" cy="63.4" r="3.1" fill="#000" stroke="#7b8181" stroke-width="2.1"/>
<text transform="translate(985.61,30.41) scale(0.9587,1)" style="font-family:'Liberation Sans', sans-serif;font-style:normal;font-size:28.50px">Exact D.</text>
<text transform="translate(985.56,72.91) scale(0.9561,1)" style="font-family:'Liberation Sans', sans-serif;font-style:normal;font-size:26.63px">Displacements</text>
<rect x="663.10" y="2.70" width="498.00" height="666.90" fill="none" stroke="#000" stroke-width="1.7"/>
<line x1="663.10" y1="660.20" x2="670.60" y2="660.20" stroke="#000" stroke-width="1.5"/>
<text transform="translate(640.19,669.30) scale(0.9500,1)" style="font-family:'Liberation Serif', serif;font-style:normal;font-size:30.00px">0</text>
<line x1="663.10" y1="563.22" x2="670.60" y2="563.22" stroke="#000" stroke-width="1.5"/>
<text transform="translate(640.19,572.32) scale(0.9500,1)" style="font-family:'Liberation Serif', serif;font-style:normal;font-size:30.00px">5</text>
<line x1="663.10" y1="466.23" x2="670.60" y2="466.23" stroke="#000" stroke-width="1.5"/>
<text transform="translate(625.94,475.33) scale(0.9500,1)" style="font-family:'Liberation Serif', serif;font-style:normal;font-size:30.00px">10</text>
<line x1="663.10" y1="369.25" x2="670.60" y2="369.25" stroke="#000" stroke-width="1.5"/>
<text transform="translate(625.94,378.35) scale(0.9500,1)" style="font-family:'Liberation Serif', serif;font-style:normal;font-size:30.00px">15</text>
<line x1="663.10" y1="272.26" x2="670.60" y2="272.26" stroke="#000" stroke-width="1.5"/>
<text transform="translate(625.94,281.36) scale(0.9500,1)" style="font-family:'Liberation Serif', serif;font-style:normal;font-size:30.00px">20</text>
<line x1="663.10" y1="175.28" x2="670.60" y2="175.28" stroke="#000" stroke-width="1.5"/>
<text transform="translate(625.94,184.38) scale(0.9500,1)" style="font-family:'Liberation Serif', serif;font-style:normal;font-size:30.00px">25</text>
<line x1="663.10" y1="78.29" x2="670.60" y2="78.29" stroke="#000" stroke-width="1.5"/>
<text transform="translate(625.94,87.39) scale(0.9500,1)" style="font-family:'Liberation Serif', serif;font-style:normal;font-size:30.00px">30</text>
<line x1="808.00" y1="669.60" x2="808.00" y2="662.10" stroke="#000" stroke-width="1.5"/>
<text transform="translate(800.88,696.70) scale(0.9500,1)" style="font-family:'Liberation Serif', serif;font-style:normal;font-size:30.00px">0</text>
<line x1="997.20" y1="669.60" x2="997.20" y2="662.10" stroke="#000" stroke-width="1.5"/>
<text transform="translate(989.79,696.70) scale(0.9500,1)" style="font-family:'Liberation Serif', serif;font-style:normal;font-size:30.00px">5</text>
<text transform="translate(900.01,722.40) scale(1.1520,1)" style="font-family:'Liberation Serif', serif;font-style:italic;font-size:35.73px">E</text>
<text transform="translate(612.10,348.10) rotate(-90) scale(1.1135,1)" style="font-family:'Liberation Serif', serif;font-style:italic;font-size:36.64px">I</text>
<text transform="translate(617.85,335.64) rotate(-90) scale(1.0413,1)" style="font-family:'Liberation Serif', serif;font-style:normal;font-size:25.00px">s</text>
<g clip-path="url(#cD)">
<line x1="1319.4" y1="62.4" x2="1800.0" y2="841.0" stroke="#3a6dae" stroke-width="2.7" stroke-dasharray="10,4.3"/>
<line x1="1313.2" y1="56.1" x2="1800.0" y2="823.8" stroke="#e2731c" stroke-width="2.7" stroke-dasharray="10,4.3"/>
<path d="M1313.2,48.3 L1330.4,79.5 L1347.6,115.4 L1364.8,133.5 L1382.1,168.3 L1399.5,184.0 L1416.7,237.3 L1433.4,245.9 L1450.6,268.8 L1468.4,301.2 L1485.7,299.2 L1502.6,346.3 L1519.5,364.3 L1536.7,349.5 L1553.9,382.9 L1571.9,373.1 L1588.0,386.6 L1605.2,430.0 L1622.9,526.1 L1640.2,429.3 L1657.3,429.8 L1674.7,467.7 L1691.6,447.0 L1708.6,577.6 L1726.2,492.2 L1743.5,618.2 L1760.7,577.6 L1778.0,700.0" fill="none" stroke="#e2731c" stroke-width="2.7" stroke-linejoin="round"/>
<line x1="1313.2" y1="44.2" x2="1313.2" y2="52.5" stroke="#e2731c" stroke-width="2.7"/>
<line x1="1304.9" y1="44.2" x2="1321.5" y2="44.2" stroke="#6f6f6f" stroke-width="1.5"/>
<line x1="1304.9" y1="52.5" x2="1321.5" y2="52.5" stroke="#6f6f6f" stroke-width="1.5"/>
<line x1="1330.4" y1="74.8" x2="1330.4" y2="84.5" stroke="#e2731c" stroke-width="2.7"/>
<line x1="1322.1" y1="74.8" x2="1338.7" y2="74.8" stroke="#6f6f6f" stroke-width="1.5"/>
<line x1="1322.1" y1="84.5" x2="1338.7" y2="84.5" stroke="#6f6f6f" stroke-width="1.5"/>
<line x1="1347.6" y1="109.8" x2="1347.6" y2="121.4" stroke="#e2731c" stroke-width="2.7"/>
<line x1="1339.3" y1="109.8" x2="1355.9" y2="109.8" stroke="#6f6f6f" stroke-width="1.5"/>
<line x1="1339.3" y1="121.4" x2="1355.9" y2="121.4" stroke="#6f6f6f" stroke-width="1.5"/>
<line x1="1364.8" y1="127.4" x2="1364.8" y2="140.0" stroke="#e2731c" stroke-width="2.7"/>
<line x1="1356.5" y1="127.4" x2="1373.1" y2="127.4" stroke="#6f6f6f" stroke-width="1.5"/>
<line x1="1356.5" y1="140.0" x2="1373.1" y2="140.0" stroke="#6f6f6f" stroke-width="1.5"/>
<line x1="1382.1" y1="161.0" x2="1382.1" y2="176.1" stroke="#e2731c" stroke-width="2.7"/>
<line x1="1373.8" y1="161.0" x2="1390.4" y2="161.0" stroke="#6f6f6f" stroke-width="1.5"/>
<line x1="1373.8" y1="176.1" x2="1390.4" y2="176.1" stroke="#6f6f6f" stroke-width="1.5"/>
<line x1="1399.5" y1="176.2" x2="1399.5" y2="192.5" stroke="#e2731c" stroke-width="2.7"/>
<line x1="1391.2" y1="176.2" x2="1407.8" y2="176.2" stroke="#6f6f6f" stroke-width="1.5"/>
<line x1="1391.2" y1="192.5" x2="1407.8" y2="192.5" stroke="#6f6f6f" stroke-width="1.5"/>
<line x1="1416.7" y1="227.2" x2="1416.7" y2="248.5" stroke="#e2731c" stroke-width="2.7"/>
<line x1="1408.4" y1="227.2" x2="1425.0" y2="227.2" stroke="#6f6f6f" stroke-width="1.5"/>
<line x1="1408.4" y1="248.5" x2="1425.0" y2="248.5" stroke="#6f6f6f" stroke-width="1.5"/>
<line x1="1433.4" y1="235.4" x2="1433.4" y2="257.7" stroke="#e2731c" stroke-width="2.7"/>
<line x1="1425.1" y1="235.4" x2="1441.7" y2="235.4" stroke="#6f6f6f" stroke-width="1.5"/>
<line x1="1425.1" y1="257.7" x2="1441.7" y2="257.7" stroke="#6f6f6f" stroke-width="1.5"/>
<line x1="1450.6" y1="257.1" x2="1450.6" y2="282.1" stroke="#e2731c" stroke-width="2.7"/>
<line x1="1442.3" y1="257.1" x2="1458.9" y2="257.1" stroke="#6f6f6f" stroke-width="1.5"/>
<line x1="1442.3" y1="282.1" x2="1458.9" y2="282.1" stroke="#6f6f6f" stroke-width="1.5"/>
<line x1="1468.4" y1="287.5" x2="1468.4" y2="317.0" stroke="#e2731c" stroke-width="2.7"/>
<line x1="1460.1" y1="287.5" x2="1476.7" y2="287.5" stroke="#6f6f6f" stroke-width="1.5"/>
<line x1="1460.1" y1="317.0" x2="1476.7" y2="317.0" stroke="#6f6f6f" stroke-width="1.5"/>
<line x1="1485.7" y1="285.7" x2="1485.7" y2="314.9" stroke="#e2731c" stroke-width="2.7"/>
<line x1="1477.4" y1="285.7" x2="1494.0" y2="285.7" stroke="#6f6f6f" stroke-width="1.5"/>
<line x1="1477.4" y1="314.9" x2="1494.0" y2="314.9" stroke="#6f6f6f" stroke-width="1.5"/>
<line x1="1502.6" y1="329.5" x2="1502.6" y2="366.5" stroke="#e2731c" stroke-width="2.7"/>
<line x1="1494.3" y1="329.5" x2="1510.9" y2="329.5" stroke="#6f6f6f" stroke-width="1.5"/>
<line x1="1494.3" y1="366.5" x2="1510.9" y2="366.5" stroke="#6f6f6f" stroke-width="1.5"/>
<line x1="1519.5" y1="346.0" x2="1519.5" y2="386.7" stroke="#e2731c" stroke-width="2.7"/>
<line x1="1511.2" y1="346.0" x2="1527.8" y2="346.0" stroke="#6f6f6f" stroke-width="1.5"/>
<line x1="1511.2" y1="386.7" x2="1527.8" y2="386.7" stroke="#6f6f6f" stroke-width="1.5"/>
<line x1="1536.7" y1="332.4" x2="1536.7" y2="370.1" stroke="#e2731c" stroke-width="2.7"/>
<line x1="1528.4" y1="332.4" x2="1545.0" y2="332.4" stroke="#6f6f6f" stroke-width="1.5"/>
<line x1="1528.4" y1="370.1" x2="1545.0" y2="370.1" stroke="#6f6f6f" stroke-width="1.5"/>
<line x1="1553.9" y1="363.0" x2="1553.9" y2="407.7" stroke="#e2731c" stroke-width="2.7"/>
<line x1="1545.6" y1="363.0" x2="1562.2" y2="363.0" stroke="#6f6f6f" stroke-width="1.5"/>
<line x1="1545.6" y1="407.7" x2="1562.2" y2="407.7" stroke="#6f6f6f" stroke-width="1.5"/>
<line x1="1571.9" y1="354.1" x2="1571.9" y2="396.6" stroke="#e2731c" stroke-width="2.7"/>
<line x1="1563.6" y1="354.1" x2="1580.2" y2="354.1" stroke="#6f6f6f" stroke-width="1.5"/>
<line x1="1563.6" y1="396.6" x2="1580.2" y2="396.6" stroke="#6f6f6f" stroke-width="1.5"/>
<line x1="1588.0" y1="366.4" x2="1588.0" y2="412.0" stroke="#e2731c" stroke-width="2.7"/>
<line x1="1579.7" y1="366.4" x2="1596.3" y2="366.4" stroke="#6f6f6f" stroke-width="1.5"/>
<line x1="1579.7" y1="412.0" x2="1596.3" y2="412.0" stroke="#6f6f6f" stroke-width="1.5"/>
<line x1="1605.2" y1="405.4" x2="1605.2" y2="462.6" stroke="#e2731c" stroke-width="2.7"/>
<line x1="1596.9" y1="405.4" x2="1613.5" y2="405.4" stroke="#6f6f6f" stroke-width="1.5"/>
<line x1="1596.9" y1="462.6" x2="1613.5" y2="462.6" stroke="#6f6f6f" stroke-width="1.5"/>
<line x1="1622.9" y1="489.0" x2="1622.9" y2="585.7" stroke="#e2731c" stroke-width="2.7"/>
<line x1="1614.6" y1="489.0" x2="1631.2" y2="489.0" stroke="#6f6f6f" stroke-width="1.5"/>
<line x1="1614.6" y1="585.7" x2="1631.2" y2="585.7" stroke="#6f6f6f" stroke-width="1.5"/>
<line x1="1640.2" y1="404.8" x2="1640.2" y2="461.8" stroke="#e2731c" stroke-width="2.7"/>
<line x1="1631.9" y1="404.8" x2="1648.5" y2="404.8" stroke="#6f6f6f" stroke-width="1.5"/>
<line x1="1631.9" y1="461.8" x2="1648.5" y2="461.8" stroke="#6f6f6f" stroke-width="1.5"/>
<line x1="1657.3" y1="405.3" x2="1657.3" y2="462.4" stroke="#e2731c" stroke-width="2.7"/>
<line x1="1649.0" y1="405.3" x2="1665.6" y2="405.3" stroke="#6f6f6f" stroke-width="1.5"/>
<line x1="1649.0" y1="462.4" x2="1665.6" y2="462.4" stroke="#6f6f6f" stroke-width="1.5"/>
<line x1="1674.7" y1="438.7" x2="1674.7" y2="508.6" stroke="#e2731c" stroke-width="2.7"/>
<line x1="1666.4" y1="438.7" x2="1683.0" y2="438.7" stroke="#6f6f6f" stroke-width="1.5"/>
<line x1="1666.4" y1="508.6" x2="1683.0" y2="508.6" stroke="#6f6f6f" stroke-width="1.5"/>
<line x1="1691.6" y1="420.5" x2="1691.6" y2="483.1" stroke="#e2731c" stroke-width="2.7"/>
<line x1="1683.3" y1="420.5" x2="1699.9" y2="420.5" stroke="#6f6f6f" stroke-width="1.5"/>
<line x1="1683.3" y1="483.1" x2="1699.9" y2="483.1" stroke="#6f6f6f" stroke-width="1.5"/>
<line x1="1708.6" y1="531.8" x2="1708.6" y2="664.5" stroke="#e2731c" stroke-width="2.7"/>
<line x1="1700.3" y1="531.8" x2="1716.9" y2="531.8" stroke="#6f6f6f" stroke-width="1.5"/>
<line x1="1700.3" y1="664.5" x2="1716.9" y2="664.5" stroke="#6f6f6f" stroke-width="1.5"/>
<line x1="1726.2" y1="460.0" x2="1726.2" y2="539.9" stroke="#e2731c" stroke-width="2.7"/>
<line x1="1717.9" y1="460.0" x2="1734.5" y2="460.0" stroke="#6f6f6f" stroke-width="1.5"/>
<line x1="1717.9" y1="539.9" x2="1734.5" y2="539.9" stroke="#6f6f6f" stroke-width="1.5"/>
<line x1="1743.5" y1="564.4" x2="1743.5" y2="700.0" stroke="#e2731c" stroke-width="2.7"/>
<line x1="1735.2" y1="564.4" x2="1751.8" y2="564.4" stroke="#6f6f6f" stroke-width="1.5"/>
<line x1="1735.2" y1="700.0" x2="1751.8" y2="700.0" stroke="#6f6f6f" stroke-width="1.5"/>
<line x1="1760.7" y1="531.8" x2="1760.7" y2="664.5" stroke="#e2731c" stroke-width="2.7"/>
<line x1="1752.4" y1="531.8" x2="1769.0" y2="531.8" stroke="#6f6f6f" stroke-width="1.5"/>
<line x1="1752.4" y1="664.5" x2="1769.0" y2="664.5" stroke="#6f6f6f" stroke-width="1.5"/>
<line x1="1778.0" y1="627.2" x2="1778.0" y2="700.0" stroke="#e2731c" stroke-width="2.7"/>
<line x1="1769.7" y1="627.2" x2="1786.3" y2="627.2" stroke="#6f6f6f" stroke-width="1.5"/>
<line x1="1769.7" y1="700.0" x2="1786.3" y2="700.0" stroke="#6f6f6f" stroke-width="1.5"/>
<circle cx="1313.2" cy="48.3" r="5.9" fill="#e67d22" stroke="#6f7275" stroke-width="1.9"/>
<circle cx="1330.4" cy="79.5" r="5.9" fill="#e67d22" stroke="#6f7275" stroke-width="1.9"/>
<circle cx="1347.6" cy="115.4" r="5.9" fill="#e67d22" stroke="#6f7275" stroke-width="1.9"/>
<circle cx="1364.8" cy="133.5" r="5.9" fill="#e67d22" stroke="#6f7275" stroke-width="1.9"/>
<circle cx="1382.1" cy="168.3" r="5.9" fill="#e67d22" stroke="#6f7275" stroke-width="1.9"/>
<circle cx="1399.5" cy="184.0" r="5.9" fill="#e67d22" stroke="#6f7275" stroke-width="1.9"/>
<circle cx="1416.7" cy="237.3" r="5.9" fill="#e67d22" stroke="#6f7275" stroke-width="1.9"/>
<circle cx="1433.4" cy="245.9" r="5.9" fill="#e67d22" stroke="#6f7275" stroke-width="1.9"/>
<circle cx="1450.6" cy="268.8" r="5.9" fill="#e67d22" stroke="#6f7275" stroke-width="1.9"/>
<circle cx="1468.4" cy="301.2" r="5.9" fill="#e67d22" stroke="#6f7275" stroke-width="1.9"/>
<circle cx="1485.7" cy="299.2" r="5.9" fill="#e67d22" stroke="#6f7275" stroke-width="1.9"/>
<circle cx="1502.6" cy="346.3" r="5.9" fill="#e67d22" stroke="#6f7275" stroke-width="1.9"/>
<circle cx="1519.5" cy="364.3" r="5.9" fill="#e67d22" stroke="#6f7275" stroke-width="1.9"/>
<circle cx="1536.7" cy="349.5" r="5.9" fill="#e67d22" stroke="#6f7275" stroke-width="1.9"/>
<circle cx="1553.9" cy="382.9" r="5.9" fill="#e67d22" stroke="#6f7275" stroke-width="1.9"/>
<circle cx="1571.9" cy="373.1" r="5.9" fill="#e67d22" stroke="#6f7275" stroke-width="1.9"/>
<circle cx="1588.0" cy="386.6" r="5.9" fill="#e67d22" stroke="#6f7275" stroke-width="1.9"/>
<circle cx="1605.2" cy="430.0" r="5.9" fill="#e67d22" stroke="#6f7275" stroke-width="1.9"/>
<circle cx="1622.9" cy="526.1" r="5.9" fill="#e67d22" stroke="#6f7275" stroke-width="1.9"/>
<circle cx="1640.2" cy="429.3" r="5.9" fill="#e67d22" stroke="#6f7275" stroke-width="1.9"/>
<circle cx="1657.3" cy="429.8" r="5.9" fill="#e67d22" stroke="#6f7275" stroke-width="1.9"/>
<circle cx="1674.7" cy="467.7" r="5.9" fill="#e67d22" stroke="#6f7275" stroke-width="1.9"/>
<circle cx="1691.6" cy="447.0" r="5.9" fill="#e67d22" stroke="#6f7275" stroke-width="1.9"/>
<circle cx="1708.6" cy="577.6" r="5.9" fill="#e67d22" stroke="#6f7275" stroke-width="1.9"/>
<circle cx="1726.2" cy="492.2" r="5.9" fill="#e67d22" stroke="#6f7275" stroke-width="1.9"/>
<circle cx="1743.5" cy="618.2" r="5.9" fill="#e67d22" stroke="#6f7275" stroke-width="1.9"/>
<circle cx="1760.7" cy="577.6" r="5.9" fill="#e67d22" stroke="#6f7275" stroke-width="1.9"/>
<circle cx="1778.0" cy="700.0" r="5.9" fill="#e67d22" stroke="#6f7275" stroke-width="1.9"/>
<path d="M1319.4,55.7 L1341.5,95.0 L1365.3,132.6 L1387.6,169.3 L1410.6,204.6 L1433.4,232.4 L1456.1,276.6 L1479.5,306.8 L1502.3,346.1 L1524.4,347.8 L1547.3,371.6 L1570.2,401.9 L1592.9,415.2 L1615.9,437.6 L1638.4,437.1 L1661.4,495.5 L1683.8,466.9 L1706.7,466.9 L1730.0,553.8 L1753.0,520.6 L1776.0,615.0" fill="none" stroke="#3a6dae" stroke-width="2.7" stroke-linejoin="round"/>
<line x1="1319.4" y1="52.1" x2="1319.4" y2="59.5" stroke="#3a6dae" stroke-width="2.7"/>
<line x1="1311.1" y1="52.1" x2="1327.7" y2="52.1" stroke="#6f6f6f" stroke-width="1.5"/>
<line x1="1311.1" y1="59.5" x2="1327.7" y2="59.5" stroke="#6f6f6f" stroke-width="1.5"/>
<line x1="1341.5" y1="90.6" x2="1341.5" y2="99.6" stroke="#3a6dae" stroke-width="2.7"/>
<line x1="1333.2" y1="90.6" x2="1349.8" y2="90.6" stroke="#6f6f6f" stroke-width="1.5"/>
<line x1="1333.2" y1="99.6" x2="1349.8" y2="99.6" stroke="#6f6f6f" stroke-width="1.5"/>
<line x1="1365.3" y1="127.3" x2="1365.3" y2="138.2" stroke="#3a6dae" stroke-width="2.7"/>
<line x1="1357.0" y1="127.3" x2="1373.6" y2="127.3" stroke="#6f6f6f" stroke-width="1.5"/>
<line x1="1357.0" y1="138.2" x2="1373.6" y2="138.2" stroke="#6f6f6f" stroke-width="1.5"/>
<line x1="1387.6" y1="163.0" x2="1387.6" y2="176.0" stroke="#3a6dae" stroke-width="2.7"/>
<line x1="1379.3" y1="163.0" x2="1395.9" y2="163.0" stroke="#6f6f6f" stroke-width="1.5"/>
<line x1="1379.3" y1="176.0" x2="1395.9" y2="176.0" stroke="#6f6f6f" stroke-width="1.5"/>
<line x1="1410.6" y1="197.1" x2="1410.6" y2="212.7" stroke="#3a6dae" stroke-width="2.7"/>
<line x1="1402.3" y1="197.1" x2="1418.9" y2="197.1" stroke="#6f6f6f" stroke-width="1.5"/>
<line x1="1402.3" y1="212.7" x2="1418.9" y2="212.7" stroke="#6f6f6f" stroke-width="1.5"/>
<line x1="1433.4" y1="223.9" x2="1433.4" y2="241.7" stroke="#3a6dae" stroke-width="2.7"/>
<line x1="1425.1" y1="223.9" x2="1441.7" y2="223.9" stroke="#6f6f6f" stroke-width="1.5"/>
<line x1="1425.1" y1="241.7" x2="1441.7" y2="241.7" stroke="#6f6f6f" stroke-width="1.5"/>
<line x1="1456.1" y1="266.1" x2="1456.1" y2="288.4" stroke="#3a6dae" stroke-width="2.7"/>
<line x1="1447.8" y1="266.1" x2="1464.4" y2="266.1" stroke="#6f6f6f" stroke-width="1.5"/>
<line x1="1447.8" y1="288.4" x2="1464.4" y2="288.4" stroke="#6f6f6f" stroke-width="1.5"/>
<line x1="1479.5" y1="294.7" x2="1479.5" y2="320.6" stroke="#3a6dae" stroke-width="2.7"/>
<line x1="1471.2" y1="294.7" x2="1487.8" y2="294.7" stroke="#6f6f6f" stroke-width="1.5"/>
<line x1="1471.2" y1="320.6" x2="1487.8" y2="320.6" stroke="#6f6f6f" stroke-width="1.5"/>
<line x1="1502.3" y1="331.5" x2="1502.3" y2="363.2" stroke="#3a6dae" stroke-width="2.7"/>
<line x1="1494.0" y1="331.5" x2="1510.6" y2="331.5" stroke="#6f6f6f" stroke-width="1.5"/>
<line x1="1494.0" y1="363.2" x2="1510.6" y2="363.2" stroke="#6f6f6f" stroke-width="1.5"/>
<line x1="1524.4" y1="333.1" x2="1524.4" y2="365.0" stroke="#3a6dae" stroke-width="2.7"/>
<line x1="1516.1" y1="333.1" x2="1532.7" y2="333.1" stroke="#6f6f6f" stroke-width="1.5"/>
<line x1="1516.1" y1="365.0" x2="1532.7" y2="365.0" stroke="#6f6f6f" stroke-width="1.5"/>
<line x1="1547.3" y1="355.2" x2="1547.3" y2="391.2" stroke="#3a6dae" stroke-width="2.7"/>
<line x1="1539.0" y1="355.2" x2="1555.6" y2="355.2" stroke="#6f6f6f" stroke-width="1.5"/>
<line x1="1539.0" y1="391.2" x2="1555.6" y2="391.2" stroke="#6f6f6f" stroke-width="1.5"/>
<line x1="1570.2" y1="383.1" x2="1570.2" y2="425.1" stroke="#3a6dae" stroke-width="2.7"/>
<line x1="1561.9" y1="383.1" x2="1578.5" y2="383.1" stroke="#6f6f6f" stroke-width="1.5"/>
<line x1="1561.9" y1="425.1" x2="1578.5" y2="425.1" stroke="#6f6f6f" stroke-width="1.5"/>
<line x1="1592.9" y1="395.2" x2="1592.9" y2="440.2" stroke="#3a6dae" stroke-width="2.7"/>
<line x1="1584.6" y1="395.2" x2="1601.2" y2="395.2" stroke="#6f6f6f" stroke-width="1.5"/>
<line x1="1584.6" y1="440.2" x2="1601.2" y2="440.2" stroke="#6f6f6f" stroke-width="1.5"/>
<line x1="1615.9" y1="415.5" x2="1615.9" y2="466.0" stroke="#3a6dae" stroke-width="2.7"/>
<line x1="1607.6" y1="415.5" x2="1624.2" y2="415.5" stroke="#6f6f6f" stroke-width="1.5"/>
<line x1="1607.6" y1="466.0" x2="1624.2" y2="466.0" stroke="#6f6f6f" stroke-width="1.5"/>
<line x1="1638.4" y1="415.0" x2="1638.4" y2="465.5" stroke="#3a6dae" stroke-width="2.7"/>
<line x1="1630.1" y1="415.0" x2="1646.7" y2="415.0" stroke="#6f6f6f" stroke-width="1.5"/>
<line x1="1630.1" y1="465.5" x2="1646.7" y2="465.5" stroke="#6f6f6f" stroke-width="1.5"/>
<line x1="1661.4" y1="466.9" x2="1661.4" y2="535.6" stroke="#3a6dae" stroke-width="2.7"/>
<line x1="1653.1" y1="466.9" x2="1669.7" y2="466.9" stroke="#6f6f6f" stroke-width="1.5"/>
<line x1="1653.1" y1="535.6" x2="1669.7" y2="535.6" stroke="#6f6f6f" stroke-width="1.5"/>
<line x1="1683.8" y1="441.7" x2="1683.8" y2="500.6" stroke="#3a6dae" stroke-width="2.7"/>
<line x1="1675.5" y1="441.7" x2="1692.1" y2="441.7" stroke="#6f6f6f" stroke-width="1.5"/>
<line x1="1675.5" y1="500.6" x2="1692.1" y2="500.6" stroke="#6f6f6f" stroke-width="1.5"/>
<line x1="1706.7" y1="441.7" x2="1706.7" y2="500.6" stroke="#3a6dae" stroke-width="2.7"/>
<line x1="1698.4" y1="441.7" x2="1715.0" y2="441.7" stroke="#6f6f6f" stroke-width="1.5"/>
<line x1="1698.4" y1="500.6" x2="1715.0" y2="500.6" stroke="#6f6f6f" stroke-width="1.5"/>
<line x1="1730.0" y1="517.2" x2="1730.0" y2="612.1" stroke="#3a6dae" stroke-width="2.7"/>
<line x1="1721.7" y1="517.2" x2="1738.3" y2="517.2" stroke="#6f6f6f" stroke-width="1.5"/>
<line x1="1721.7" y1="612.1" x2="1738.3" y2="612.1" stroke="#6f6f6f" stroke-width="1.5"/>
<line x1="1753.0" y1="488.8" x2="1753.0" y2="567.5" stroke="#3a6dae" stroke-width="2.7"/>
<line x1="1744.7" y1="488.8" x2="1761.3" y2="488.8" stroke="#6f6f6f" stroke-width="1.5"/>
<line x1="1744.7" y1="567.5" x2="1761.3" y2="567.5" stroke="#6f6f6f" stroke-width="1.5"/>
<line x1="1776.0" y1="568.0" x2="1776.0" y2="700.0" stroke="#3a6dae" stroke-width="2.7"/>
<line x1="1767.7" y1="568.0" x2="1784.3" y2="568.0" stroke="#6f6f6f" stroke-width="1.5"/>
<line x1="1767.7" y1="700.0" x2="1784.3" y2="700.0" stroke="#6f6f6f" stroke-width="1.5"/>
<circle cx="1319.4" cy="55.7" r="5.9" fill="#4675b6" stroke="#6f7275" stroke-width="1.9"/>
<circle cx="1341.5" cy="95.0" r="5.9" fill="#4675b6" stroke="#6f7275" stroke-width="1.9"/>
<circle cx="1365.3" cy="132.6" r="5.9" fill="#4675b6" stroke="#6f7275" stroke-width="1.9"/>
<circle cx="1387.6" cy="169.3" r="5.9" fill="#4675b6" stroke="#6f7275" stroke-width="1.9"/>
<circle cx="1410.6" cy="204.6" r="5.9" fill="#4675b6" stroke="#6f7275" stroke-width="1.9"/>
<circle cx="1433.4" cy="232.4" r="5.9" fill="#4675b6" stroke="#6f7275" stroke-width="1.9"/>
<circle cx="1456.1" cy="276.6" r="5.9" fill="#4675b6" stroke="#6f7275" stroke-width="1.9"/>
<circle cx="1479.5" cy="306.8" r="5.9" fill="#4675b6" stroke="#6f7275" stroke-width="1.9"/>
<circle cx="1502.3" cy="346.1" r="5.9" fill="#4675b6" stroke="#6f7275" stroke-width="1.9"/>
<circle cx="1524.4" cy="347.8" r="5.9" fill="#4675b6" stroke="#6f7275" stroke-width="1.9"/>
<circle cx="1547.3" cy="371.6" r="5.9" fill="#4675b6" stroke="#6f7275" stroke-width="1.9"/>
<circle cx="1570.2" cy="401.9" r="5.9" fill="#4675b6" stroke="#6f7275" stroke-width="1.9"/>
<circle cx="1592.9" cy="415.2" r="5.9" fill="#4675b6" stroke="#6f7275" stroke-width="1.9"/>
<circle cx="1615.9" cy="437.6" r="5.9" fill="#4675b6" stroke="#6f7275" stroke-width="1.9"/>
<circle cx="1638.4" cy="437.1" r="5.9" fill="#4675b6" stroke="#6f7275" stroke-width="1.9"/>
<circle cx="1661.4" cy="495.5" r="5.9" fill="#4675b6" stroke="#6f7275" stroke-width="1.9"/>
<circle cx="1683.8" cy="466.9" r="5.9" fill="#4675b6" stroke="#6f7275" stroke-width="1.9"/>
<circle cx="1706.7" cy="466.9" r="5.9" fill="#4675b6" stroke="#6f7275" stroke-width="1.9"/>
<circle cx="1730.0" cy="553.8" r="5.9" fill="#4675b6" stroke="#6f7275" stroke-width="1.9"/>
<circle cx="1753.0" cy="520.6" r="5.9" fill="#4675b6" stroke="#6f7275" stroke-width="1.9"/>
<circle cx="1776.0" cy="615.0" r="5.9" fill="#4675b6" stroke="#6f7275" stroke-width="1.9"/>
</g>
<rect x="1610.2" y="17.2" width="140.4" height="135.2" rx="5" ry="5" fill="#fff" fill-opacity="0.8" stroke="#cccccc" stroke-width="1.3"/>
<text transform="translate(1664.85,50.54) scale(1.0830,1)" style="font-family:'Liberation Serif', serif;font-style:italic;font-size:30.60px">W</text>
<line x1="1620.5" y1="83.1" x2="1680.9" y2="83.1" stroke="#e2731c" stroke-width="2.7"/>
<line x1="1651.2" y1="68.89999999999999" x2="1651.2" y2="97.5" stroke="#e2731c" stroke-width="2.7"/>
<line x1="1642.9" y1="68.89999999999999" x2="1659.5" y2="68.89999999999999" stroke="#6f6f6f" stroke-width="1.5"/>
<line x1="1642.9" y1="97.5" x2="1659.5" y2="97.5" stroke="#6f6f6f" stroke-width="1.5"/>
<circle cx="1651.2" cy="83.39999999999999" r="5.9" fill="#e67d22" stroke="#6f7275" stroke-width="1.9"/>
<line x1="1620.5" y1="125.8" x2="1680.9" y2="125.8" stroke="#3a6dae" stroke-width="2.7"/>
<line x1="1651.2" y1="111.6" x2="1651.2" y2="140.2" stroke="#3a6dae" stroke-width="2.7"/>
<line x1="1642.9" y1="111.6" x2="1659.5" y2="111.6" stroke="#6f6f6f" stroke-width="1.5"/>
<line x1="1642.9" y1="140.2" x2="1659.5" y2="140.2" stroke="#6f6f6f" stroke-width="1.5"/>
<circle cx="1651.2" cy="126.1" r="5.9" fill="#4675b6" stroke="#6f7275" stroke-width="1.9"/>
<text transform="translate(1701.37,92.75) scale(1.0292,1)" style="font-family:'Liberation Sans', sans-serif;font-style:normal;font-size:25.07px">5.0</text>
<text transform="translate(1701.37,135.45) scale(1.0292,1)" style="font-family:'Liberation Sans', sans-serif;font-style:normal;font-size:25.07px">3.0</text>
<rect x="1296.60" y="2.80" width="468.00" height="651.90" fill="none" stroke="#000" stroke-width="1.7"/>
<line x1="1296.6" y1="72.80" x2="1304.1" y2="72.80" stroke="#000" stroke-width="1.5"/>
<text transform="translate(1248.08,82.30) scale(0.9575,1)" style="font-family:'Liberation Serif', serif;font-style:normal;font-size:30.37px">10</text>
<text transform="translate(1276.52,71.40) scale(0.9690,1)" style="font-family:'Liberation Serif', serif;font-style:normal;font-size:20.15px">0</text>
<line x1="1296.6" y1="303.60" x2="1304.1" y2="303.60" stroke="#000" stroke-width="1.5"/>
<text transform="translate(1231.73,313.50) scale(0.9525,1)" style="font-family:'Liberation Serif', serif;font-style:normal;font-size:29.93px">10</text>
<text transform="translate(1275.35,303.00) scale(1.0538,1)" style="font-family:'Liberation Serif', serif;font-style:normal;font-size:20.61px">1</text>
<text transform="translate(1260.50,304.53) scale(1.2391,1)" style="font-family:'Liberation Serif', serif;font-style:normal;font-size:21.00px">−</text>
<line x1="1296.6" y1="534.40" x2="1304.1" y2="534.40" stroke="#000" stroke-width="1.5"/>
<text transform="translate(1231.73,544.30) scale(0.9525,1)" style="font-family:'Liberation Serif', serif;font-style:normal;font-size:29.93px">10</text>
<text transform="translate(1275.69,533.80) scale(1.0919,1)" style="font-family:'Liberation Serif', serif;font-style:normal;font-size:20.61px">2</text>
<text transform="translate(1260.50,535.33) scale(1.2391,1)" style="font-family:'Liberation Serif', serif;font-style:normal;font-size:21.00px">−</text>
<line x1="1296.6" y1="3.32" x2="1300.8" y2="3.32" stroke="#000" stroke-width="1.5"/>
<line x1="1296.6" y1="234.12" x2="1300.8" y2="234.12" stroke="#000" stroke-width="1.5"/>
<line x1="1296.6" y1="193.48" x2="1300.8" y2="193.48" stroke="#000" stroke-width="1.5"/>
<line x1="1296.6" y1="164.64" x2="1300.8" y2="164.64" stroke="#000" stroke-width="1.5"/>
<line x1="1296.6" y1="142.28" x2="1300.8" y2="142.28" stroke="#000" stroke-width="1.5"/>
<line x1="1296.6" y1="124.00" x2="1300.8" y2="124.00" stroke="#000" stroke-width="1.5"/>
<line x1="1296.6" y1="108.55" x2="1300.8" y2="108.55" stroke="#000" stroke-width="1.5"/>
<line x1="1296.6" y1="95.17" x2="1300.8" y2="95.17" stroke="#000" stroke-width="1.5"/>
<line x1="1296.6" y1="83.36" x2="1300.8" y2="83.36" stroke="#000" stroke-width="1.5"/>
<line x1="1296.6" y1="464.92" x2="1300.8" y2="464.92" stroke="#000" stroke-width="1.5"/>
<line x1="1296.6" y1="424.28" x2="1300.8" y2="424.28" stroke="#000" stroke-width="1.5"/>
<line x1="1296.6" y1="395.44" x2="1300.8" y2="395.44" stroke="#000" stroke-width="1.5"/>
<line x1="1296.6" y1="373.08" x2="1300.8" y2="373.08" stroke="#000" stroke-width="1.5"/>
<line x1="1296.6" y1="354.80" x2="1300.8" y2="354.80" stroke="#000" stroke-width="1.5"/>
<line x1="1296.6" y1="339.35" x2="1300.8" y2="339.35" stroke="#000" stroke-width="1.5"/>
<line x1="1296.6" y1="325.97" x2="1300.8" y2="325.97" stroke="#000" stroke-width="1.5"/>
<line x1="1296.6" y1="314.16" x2="1300.8" y2="314.16" stroke="#000" stroke-width="1.5"/>
<line x1="1296.6" y1="626.24" x2="1300.8" y2="626.24" stroke="#000" stroke-width="1.5"/>
<line x1="1296.6" y1="603.88" x2="1300.8" y2="603.88" stroke="#000" stroke-width="1.5"/>
<line x1="1296.6" y1="585.60" x2="1300.8" y2="585.60" stroke="#000" stroke-width="1.5"/>
<line x1="1296.6" y1="570.15" x2="1300.8" y2="570.15" stroke="#000" stroke-width="1.5"/>
<line x1="1296.6" y1="556.77" x2="1300.8" y2="556.77" stroke="#000" stroke-width="1.5"/>
<line x1="1296.6" y1="544.96" x2="1300.8" y2="544.96" stroke="#000" stroke-width="1.5"/>
<line x1="1296.60" y1="654.70" x2="1296.60" y2="647.20" stroke="#000" stroke-width="1.5"/>
<text transform="translate(1289.47,681.60) scale(0.9500,1)" style="font-family:'Liberation Serif', serif;font-style:normal;font-size:30.00px">0</text>
<line x1="1390.20" y1="654.70" x2="1390.20" y2="647.20" stroke="#000" stroke-width="1.5"/>
<text transform="translate(1382.65,681.90) scale(0.9500,1)" style="font-family:'Liberation Serif', serif;font-style:normal;font-size:30.00px">1</text>
<line x1="1483.80" y1="654.70" x2="1483.80" y2="647.20" stroke="#000" stroke-width="1.5"/>
<text transform="translate(1476.82,681.90) scale(0.9500,1)" style="font-family:'Liberation Serif', serif;font-style:normal;font-size:30.00px">2</text>
<line x1="1577.40" y1="654.70" x2="1577.40" y2="647.20" stroke="#000" stroke-width="1.5"/>
<text transform="translate(1570.13,681.60) scale(0.9500,1)" style="font-family:'Liberation Serif', serif;font-style:normal;font-size:30.00px">3</text>
<line x1="1671.00" y1="654.70" x2="1671.00" y2="647.20" stroke="#000" stroke-width="1.5"/>
<text transform="translate(1663.80,681.90) scale(0.9500,1)" style="font-family:'Liberation Serif', serif;font-style:normal;font-size:30.00px">4</text>
<line x1="1764.60" y1="654.70" x2="1764.60" y2="647.20" stroke="#000" stroke-width="1.5"/>
<text transform="translate(1757.19,681.60) scale(0.9500,1)" style="font-family:'Liberation Serif', serif;font-style:normal;font-size:30.00px">5</text>
<text transform="translate(1451.87,721.70) scale(1.1540,1)" style="font-family:'Liberation Serif', serif;font-style:normal;font-size:37.58px">Δ</text>
<text transform="translate(1482.30,721.70) scale(1.1057,1)" style="font-family:'Liberation Serif', serif;font-style:italic;font-size:35.88px">E</text>
<text transform="translate(1509.10,728.80) scale(0.9804,1)" style="font-family:'Liberation Serif', serif;font-style:normal;font-size:49.70px">/</text>
<text transform="translate(1524.85,724.44) scale(0.9354,1)" style="font-family:'DejaVu Serif', serif;font-style:normal;font-size:37.42px">⟨</text>
<text transform="translate(1537.23,721.70) scale(1.1776,1)" style="font-family:'Liberation Serif', serif;font-style:normal;font-size:37.58px">Δ</text>
<text transform="translate(1567.70,721.70) scale(1.1287,1)" style="font-family:'Liberation Serif', serif;font-style:italic;font-size:35.88px">E</text>
<text transform="translate(1591.94,724.44) scale(0.9233,1)" style="font-family:'DejaVu Serif', serif;font-style:normal;font-size:37.42px">⟩</text>
<text transform="translate(1217.80,382.89) rotate(-90) scale(1.1475,1)" style="font-family:'Liberation Serif', serif;font-style:italic;font-size:36.34px">P</text>
<text transform="translate(1217.66,357.07) rotate(-90) scale(1.0716,1)" style="font-family:'Liberation Serif', serif;font-style:normal;font-size:38.79px">(</text>
<text transform="translate(1217.80,343.84) rotate(-90) scale(1.1403,1)" style="font-family:'Liberation Serif', serif;font-style:normal;font-size:38.18px">Δ</text>
<text transform="translate(1217.80,313.01) rotate(-90) scale(1.0781,1)" style="font-family:'Liberation Serif', serif;font-style:italic;font-size:36.34px">E</text>
<text transform="translate(1217.76,291.73) rotate(-90) scale(1.0492,1)" style="font-family:'Liberation Serif', serif;font-style:normal;font-size:39.22px">)</text>
</svg></body></html>
